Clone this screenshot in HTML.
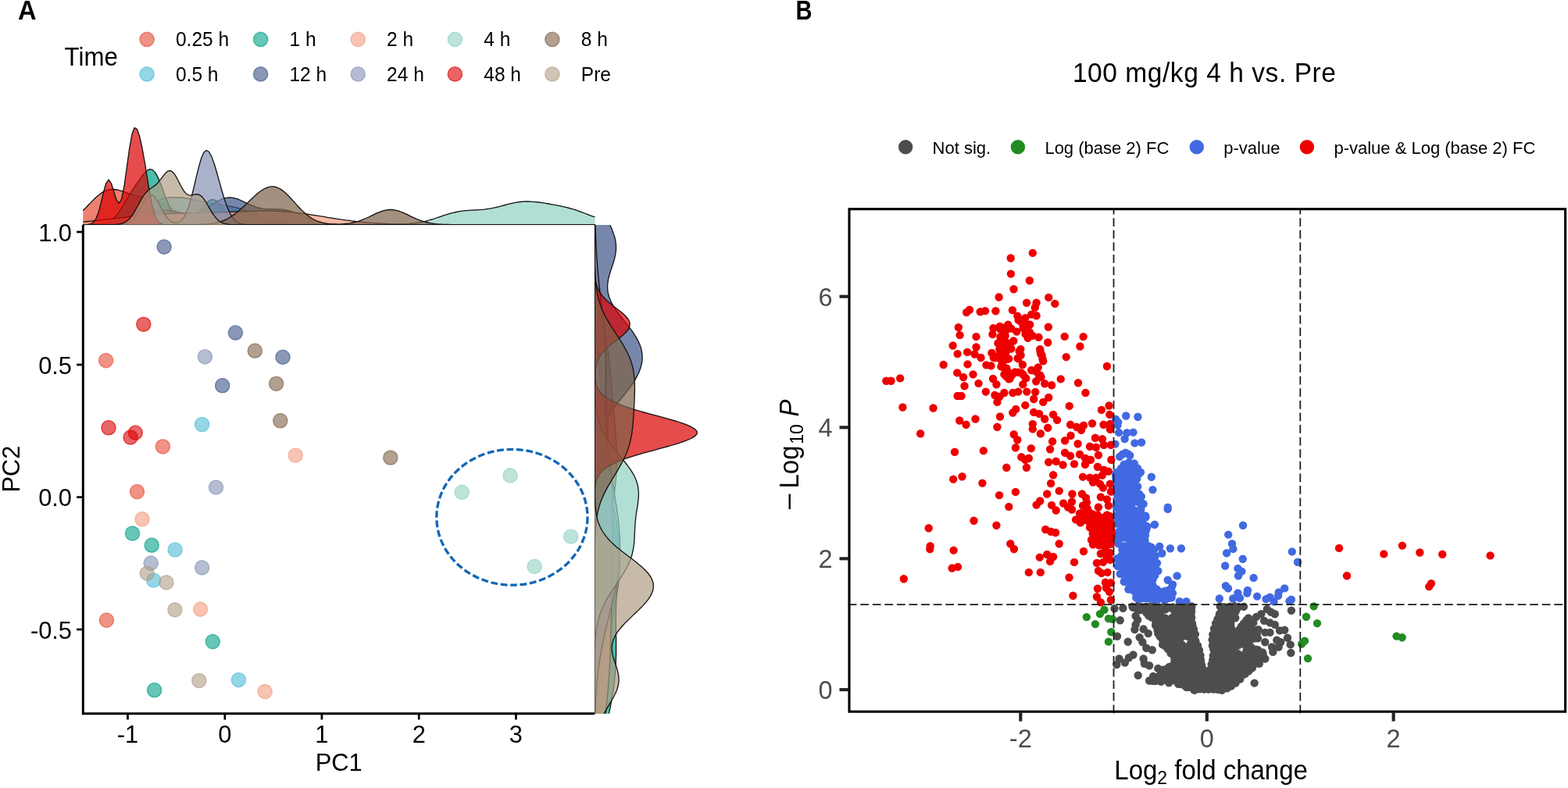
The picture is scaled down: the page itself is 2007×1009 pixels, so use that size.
<!DOCTYPE html>
<html lang="en"><head><meta charset="utf-8"><title>PCA and volcano plot</title>
<style>
html,body{margin:0;padding:0;background:#fff;}
body{width:2007px;height:1009px;overflow:hidden;font-family:"Liberation Sans",Arial,Helvetica,sans-serif;}
svg{display:block;}
</style></head><body>
<svg width="2007" height="1009" viewBox="0 0 2007 1009">
<rect width="2007" height="1009" fill="#fff"/>
<g id="panelA" font-family="'Liberation Sans', Arial, Helvetica, sans-serif" fill="#000">
<text transform="translate(23.1,25.4) scale(1,1.04)" font-size="34" font-weight="bold" textLength="23.6" lengthAdjust="spacingAndGlyphs">A</text>
<text transform="translate(82.6,83.9) scale(1,1.04)" font-size="31.2">Time</text>
<circle cx="188.1" cy="50.4" r="9.1" fill="#E64B35" fill-opacity="0.6" stroke="#E64B35" stroke-opacity="0.6" stroke-width="1.6"/>
<text transform="translate(225,59.2) scale(1,1.04)" font-size="24.5">0.25 h</text>
<circle cx="188.1" cy="94.9" r="9.1" fill="#4DBBD5" fill-opacity="0.6" stroke="#4DBBD5" stroke-opacity="0.6" stroke-width="1.6"/>
<text transform="translate(225,103.7) scale(1,1.04)" font-size="24.5">0.5 h</text>
<circle cx="333.6" cy="50.4" r="9.1" fill="#00A087" fill-opacity="0.6" stroke="#00A087" stroke-opacity="0.6" stroke-width="1.6"/>
<text transform="translate(370.5,59.2) scale(1,1.04)" font-size="24.5">1 h</text>
<circle cx="333.6" cy="94.9" r="9.1" fill="#3C5488" fill-opacity="0.6" stroke="#3C5488" stroke-opacity="0.6" stroke-width="1.6"/>
<text transform="translate(370.5,103.7) scale(1,1.04)" font-size="24.5">12 h</text>
<circle cx="458.2" cy="50.4" r="9.1" fill="#F39B7F" fill-opacity="0.6" stroke="#F39B7F" stroke-opacity="0.6" stroke-width="1.6"/>
<text transform="translate(495.1,59.2) scale(1,1.04)" font-size="24.5">2 h</text>
<circle cx="458.2" cy="94.9" r="9.1" fill="#8491B4" fill-opacity="0.6" stroke="#8491B4" stroke-opacity="0.6" stroke-width="1.6"/>
<text transform="translate(495.1,103.7) scale(1,1.04)" font-size="24.5">24 h</text>
<circle cx="582.4" cy="50.4" r="9.1" fill="#91D1C2" fill-opacity="0.6" stroke="#91D1C2" stroke-opacity="0.6" stroke-width="1.6"/>
<text transform="translate(619.3,59.2) scale(1,1.04)" font-size="24.5">4 h</text>
<circle cx="582.4" cy="94.9" r="9.1" fill="#DC0000" fill-opacity="0.6" stroke="#DC0000" stroke-opacity="0.6" stroke-width="1.6"/>
<text transform="translate(619.3,103.7) scale(1,1.04)" font-size="24.5">48 h</text>
<circle cx="706.9" cy="50.4" r="9.1" fill="#7E6148" fill-opacity="0.6" stroke="#7E6148" stroke-opacity="0.6" stroke-width="1.6"/>
<text transform="translate(743.8,59.2) scale(1,1.04)" font-size="24.5">8 h</text>
<circle cx="706.9" cy="94.9" r="9.1" fill="#B09C85" fill-opacity="0.6" stroke="#B09C85" stroke-opacity="0.6" stroke-width="1.6"/>
<text transform="translate(743.8,103.7) scale(1,1.04)" font-size="24.5">Pre</text>
<g id="densTop">
<path d="M106.3,287.7L106.3,269.5L109.6,266.3L112.9,262.8L116.2,259.4L119.5,256L122.8,252.8L126.1,249.9L129.3,247.4L132.6,245.3L135.9,243.9L139.2,242.9L142.5,242.5L145.8,242.5L149.1,243L152.4,243.7L155.7,244.7L159,245.8L162.3,246.9L165.6,248.1L168.9,249.1L172.1,250.1L175.4,251L178.7,251.7L182,252.5L185.3,253.2L188.6,253.9L191.9,254.6L195.2,255.5L198.5,256.5L201.8,257.6L205.1,258.9L208.4,260.4L211.7,262.1L215,263.9L218.2,265.9L221.5,268L224.8,270.1L228.1,272.2L231.4,274.3L234.7,276.2L238,278.1L241.3,279.8L244.6,281.3L247.9,282.6L251.2,283.7L254.5,284.6L257.8,285.4L261,286L264.3,286.4L267.6,286.8L270.9,287.1L274.2,287.3L277.5,287.4L280.8,287.5L284.1,287.6L287.4,287.6L290.7,287.6L294,287.7L297.3,287.7L300.6,287.7L303.8,287.7L307.1,287.7L310.4,287.7L313.7,287.7L317,287.7L320.3,287.7L323.6,287.7L326.9,287.7L330.2,287.7L333.5,287.7L336.8,287.7L340.1,287.7L343.4,287.7L346.6,287.7L349.9,287.7L353.2,287.7L356.5,287.7L359.8,287.7L363.1,287.7L366.4,287.7L369.7,287.7L373,287.7L376.3,287.7L379.6,287.7L382.9,287.7L386.2,287.7L389.5,287.7L392.7,287.7L396,287.7L399.3,287.7L402.6,287.7L405.9,287.7L409.2,287.7L412.5,287.7L415.8,287.7L419.1,287.7L422.4,287.7L425.7,287.7L429,287.7L432.3,287.7L435.5,287.7L438.8,287.7L442.1,287.7L445.4,287.7L448.7,287.7L452,287.7L455.3,287.7L458.6,287.7L461.9,287.7L465.2,287.7L468.5,287.7L471.8,287.7L475.1,287.7L478.3,287.7L481.6,287.7L484.9,287.7L488.2,287.7L491.5,287.7L494.8,287.7L498.1,287.7L501.4,287.7L504.7,287.7L508,287.7L511.3,287.7L514.6,287.7L517.9,287.7L521.2,287.7L524.4,287.7L527.7,287.7L531,287.7L534.3,287.7L537.6,287.7L540.9,287.7L544.2,287.7L547.5,287.7L550.8,287.7L554.1,287.7L557.4,287.7L560.7,287.7L564,287.7L567.2,287.7L570.5,287.7L573.8,287.7L577.1,287.7L580.4,287.7L583.7,287.7L587,287.7L590.3,287.7L593.6,287.7L596.9,287.7L600.2,287.7L603.5,287.7L606.8,287.7L610,287.7L613.3,287.7L616.6,287.7L619.9,287.7L623.2,287.7L626.5,287.7L629.8,287.7L633.1,287.7L636.4,287.7L639.7,287.7L643,287.7L646.3,287.7L649.6,287.7L652.8,287.7L656.1,287.7L659.4,287.7L662.7,287.7L666,287.7L669.3,287.7L672.6,287.7L675.9,287.7L679.2,287.7L682.5,287.7L685.8,287.7L689.1,287.7L692.4,287.7L695.7,287.7L698.9,287.7L702.2,287.7L705.5,287.7L708.8,287.7L712.1,287.7L715.4,287.7L718.7,287.7L722,287.7L725.3,287.7L728.6,287.7L731.9,287.7L735.2,287.7L738.5,287.7L741.7,287.7L745,287.7L748.3,287.7L751.6,287.7L754.9,287.7L758.2,287.7L761.5,287.7L761.5,287.7Z" fill="#E64B35" fill-opacity="0.7" stroke="none"/>
<path d="M106.3,269.5L109.6,266.3L112.9,262.8L116.2,259.4L119.5,256L122.8,252.8L126.1,249.9L129.3,247.4L132.6,245.3L135.9,243.9L139.2,242.9L142.5,242.5L145.8,242.5L149.1,243L152.4,243.7L155.7,244.7L159,245.8L162.3,246.9L165.6,248.1L168.9,249.1L172.1,250.1L175.4,251L178.7,251.7L182,252.5L185.3,253.2L188.6,253.9L191.9,254.6L195.2,255.5L198.5,256.5L201.8,257.6L205.1,258.9L208.4,260.4L211.7,262.1L215,263.9L218.2,265.9L221.5,268L224.8,270.1L228.1,272.2L231.4,274.3L234.7,276.2L238,278.1L241.3,279.8L244.6,281.3L247.9,282.6L251.2,283.7L254.5,284.6L257.8,285.4L261,286L264.3,286.4L267.6,286.8L270.9,287.1L274.2,287.3L277.5,287.4L280.8,287.5L284.1,287.6L287.4,287.6L290.7,287.6L294,287.7L297.3,287.7L300.6,287.7L303.8,287.7L307.1,287.7L310.4,287.7L313.7,287.7L317,287.7L320.3,287.7L323.6,287.7L326.9,287.7L330.2,287.7L333.5,287.7L336.8,287.7L340.1,287.7L343.4,287.7L346.6,287.7L349.9,287.7L353.2,287.7L356.5,287.7L359.8,287.7L363.1,287.7L366.4,287.7L369.7,287.7L373,287.7L376.3,287.7L379.6,287.7L382.9,287.7L386.2,287.7L389.5,287.7L392.7,287.7L396,287.7L399.3,287.7L402.6,287.7L405.9,287.7L409.2,287.7L412.5,287.7L415.8,287.7L419.1,287.7L422.4,287.7L425.7,287.7L429,287.7L432.3,287.7L435.5,287.7L438.8,287.7L442.1,287.7L445.4,287.7L448.7,287.7L452,287.7L455.3,287.7L458.6,287.7L461.9,287.7L465.2,287.7L468.5,287.7L471.8,287.7L475.1,287.7L478.3,287.7L481.6,287.7L484.9,287.7L488.2,287.7L491.5,287.7L494.8,287.7L498.1,287.7L501.4,287.7L504.7,287.7L508,287.7L511.3,287.7L514.6,287.7L517.9,287.7L521.2,287.7L524.4,287.7L527.7,287.7L531,287.7L534.3,287.7L537.6,287.7L540.9,287.7L544.2,287.7L547.5,287.7L550.8,287.7L554.1,287.7L557.4,287.7L560.7,287.7L564,287.7L567.2,287.7L570.5,287.7L573.8,287.7L577.1,287.7L580.4,287.7L583.7,287.7L587,287.7L590.3,287.7L593.6,287.7L596.9,287.7L600.2,287.7L603.5,287.7L606.8,287.7L610,287.7L613.3,287.7L616.6,287.7L619.9,287.7L623.2,287.7L626.5,287.7L629.8,287.7L633.1,287.7L636.4,287.7L639.7,287.7L643,287.7L646.3,287.7L649.6,287.7L652.8,287.7L656.1,287.7L659.4,287.7L662.7,287.7L666,287.7L669.3,287.7L672.6,287.7L675.9,287.7L679.2,287.7L682.5,287.7L685.8,287.7L689.1,287.7L692.4,287.7L695.7,287.7L698.9,287.7L702.2,287.7L705.5,287.7L708.8,287.7L712.1,287.7L715.4,287.7L718.7,287.7L722,287.7L725.3,287.7L728.6,287.7L731.9,287.7L735.2,287.7L738.5,287.7L741.7,287.7L745,287.7L748.3,287.7L751.6,287.7L754.9,287.7L758.2,287.7L761.5,287.7" fill="none" stroke="#111" stroke-width="1.3" stroke-linejoin="round"/>
<path d="M106.3,287.7L106.3,287.6L109.6,287.6L112.9,287.6L116.2,287.5L119.5,287.4L122.8,287.3L126.1,287.1L129.3,286.9L132.6,286.6L135.9,286.2L139.2,285.8L142.5,285.2L145.8,284.5L149.1,283.7L152.4,282.7L155.7,281.6L159,280.3L162.3,278.8L165.6,277.2L168.9,275.4L172.1,273.5L175.4,271.6L178.7,269.5L182,267.5L185.3,265.5L188.6,263.5L191.9,261.6L195.2,259.9L198.5,258.3L201.8,256.8L205.1,255.6L208.4,254.6L211.7,253.8L215,253.2L218.2,252.9L221.5,252.7L224.8,252.6L228.1,252.8L231.4,253L234.7,253.4L238,253.9L241.3,254.4L244.6,255L247.9,255.7L251.2,256.3L254.5,257.1L257.8,257.8L261,258.5L264.3,259.2L267.6,259.9L270.9,260.5L274.2,261.1L277.5,261.6L280.8,262.2L284.1,262.6L287.4,263.1L290.7,263.6L294,264.2L297.3,264.7L300.6,265.4L303.8,266.2L307.1,267.1L310.4,268.1L313.7,269.2L317,270.4L320.3,271.7L323.6,273.1L326.9,274.5L330.2,275.9L333.5,277.4L336.8,278.7L340.1,280L343.4,281.2L346.6,282.3L349.9,283.2L353.2,284.1L356.5,284.8L359.8,285.4L363.1,285.9L366.4,286.4L369.7,286.7L373,286.9L376.3,287.2L379.6,287.3L382.9,287.4L386.2,287.5L389.5,287.6L392.7,287.6L396,287.6L399.3,287.7L402.6,287.7L405.9,287.7L409.2,287.7L412.5,287.7L415.8,287.7L419.1,287.7L422.4,287.7L425.7,287.7L429,287.7L432.3,287.7L435.5,287.7L438.8,287.7L442.1,287.7L445.4,287.7L448.7,287.7L452,287.7L455.3,287.7L458.6,287.7L461.9,287.7L465.2,287.7L468.5,287.7L471.8,287.7L475.1,287.7L478.3,287.7L481.6,287.7L484.9,287.7L488.2,287.7L491.5,287.7L494.8,287.7L498.1,287.7L501.4,287.7L504.7,287.7L508,287.7L511.3,287.7L514.6,287.7L517.9,287.7L521.2,287.7L524.4,287.7L527.7,287.7L531,287.7L534.3,287.7L537.6,287.7L540.9,287.7L544.2,287.7L547.5,287.7L550.8,287.7L554.1,287.7L557.4,287.7L560.7,287.7L564,287.7L567.2,287.7L570.5,287.7L573.8,287.7L577.1,287.7L580.4,287.7L583.7,287.7L587,287.7L590.3,287.7L593.6,287.7L596.9,287.7L600.2,287.7L603.5,287.7L606.8,287.7L610,287.7L613.3,287.7L616.6,287.7L619.9,287.7L623.2,287.7L626.5,287.7L629.8,287.7L633.1,287.7L636.4,287.7L639.7,287.7L643,287.7L646.3,287.7L649.6,287.7L652.8,287.7L656.1,287.7L659.4,287.7L662.7,287.7L666,287.7L669.3,287.7L672.6,287.7L675.9,287.7L679.2,287.7L682.5,287.7L685.8,287.7L689.1,287.7L692.4,287.7L695.7,287.7L698.9,287.7L702.2,287.7L705.5,287.7L708.8,287.7L712.1,287.7L715.4,287.7L718.7,287.7L722,287.7L725.3,287.7L728.6,287.7L731.9,287.7L735.2,287.7L738.5,287.7L741.7,287.7L745,287.7L748.3,287.7L751.6,287.7L754.9,287.7L758.2,287.7L761.5,287.7L761.5,287.7Z" fill="#4DBBD5" fill-opacity="0.7" stroke="none"/>
<path d="M106.3,287.6L109.6,287.6L112.9,287.6L116.2,287.5L119.5,287.4L122.8,287.3L126.1,287.1L129.3,286.9L132.6,286.6L135.9,286.2L139.2,285.8L142.5,285.2L145.8,284.5L149.1,283.7L152.4,282.7L155.7,281.6L159,280.3L162.3,278.8L165.6,277.2L168.9,275.4L172.1,273.5L175.4,271.6L178.7,269.5L182,267.5L185.3,265.5L188.6,263.5L191.9,261.6L195.2,259.9L198.5,258.3L201.8,256.8L205.1,255.6L208.4,254.6L211.7,253.8L215,253.2L218.2,252.9L221.5,252.7L224.8,252.6L228.1,252.8L231.4,253L234.7,253.4L238,253.9L241.3,254.4L244.6,255L247.9,255.7L251.2,256.3L254.5,257.1L257.8,257.8L261,258.5L264.3,259.2L267.6,259.9L270.9,260.5L274.2,261.1L277.5,261.6L280.8,262.2L284.1,262.6L287.4,263.1L290.7,263.6L294,264.2L297.3,264.7L300.6,265.4L303.8,266.2L307.1,267.1L310.4,268.1L313.7,269.2L317,270.4L320.3,271.7L323.6,273.1L326.9,274.5L330.2,275.9L333.5,277.4L336.8,278.7L340.1,280L343.4,281.2L346.6,282.3L349.9,283.2L353.2,284.1L356.5,284.8L359.8,285.4L363.1,285.9L366.4,286.4L369.7,286.7L373,286.9L376.3,287.2L379.6,287.3L382.9,287.4L386.2,287.5L389.5,287.6L392.7,287.6L396,287.6L399.3,287.7L402.6,287.7L405.9,287.7L409.2,287.7L412.5,287.7L415.8,287.7L419.1,287.7L422.4,287.7L425.7,287.7L429,287.7L432.3,287.7L435.5,287.7L438.8,287.7L442.1,287.7L445.4,287.7L448.7,287.7L452,287.7L455.3,287.7L458.6,287.7L461.9,287.7L465.2,287.7L468.5,287.7L471.8,287.7L475.1,287.7L478.3,287.7L481.6,287.7L484.9,287.7L488.2,287.7L491.5,287.7L494.8,287.7L498.1,287.7L501.4,287.7L504.7,287.7L508,287.7L511.3,287.7L514.6,287.7L517.9,287.7L521.2,287.7L524.4,287.7L527.7,287.7L531,287.7L534.3,287.7L537.6,287.7L540.9,287.7L544.2,287.7L547.5,287.7L550.8,287.7L554.1,287.7L557.4,287.7L560.7,287.7L564,287.7L567.2,287.7L570.5,287.7L573.8,287.7L577.1,287.7L580.4,287.7L583.7,287.7L587,287.7L590.3,287.7L593.6,287.7L596.9,287.7L600.2,287.7L603.5,287.7L606.8,287.7L610,287.7L613.3,287.7L616.6,287.7L619.9,287.7L623.2,287.7L626.5,287.7L629.8,287.7L633.1,287.7L636.4,287.7L639.7,287.7L643,287.7L646.3,287.7L649.6,287.7L652.8,287.7L656.1,287.7L659.4,287.7L662.7,287.7L666,287.7L669.3,287.7L672.6,287.7L675.9,287.7L679.2,287.7L682.5,287.7L685.8,287.7L689.1,287.7L692.4,287.7L695.7,287.7L698.9,287.7L702.2,287.7L705.5,287.7L708.8,287.7L712.1,287.7L715.4,287.7L718.7,287.7L722,287.7L725.3,287.7L728.6,287.7L731.9,287.7L735.2,287.7L738.5,287.7L741.7,287.7L745,287.7L748.3,287.7L751.6,287.7L754.9,287.7L758.2,287.7L761.5,287.7" fill="none" stroke="#111" stroke-width="1.3" stroke-linejoin="round"/>
<path d="M106.3,287.7L106.3,287.7L109.6,287.7L112.9,287.7L116.2,287.7L119.5,287.6L122.8,287.5L126.1,287.4L129.3,287L132.6,286.5L135.9,285.6L139.2,284.2L142.5,282.1L145.8,279.3L149.1,275.6L152.4,271.1L155.7,266.1L159,260.6L162.3,255L165.6,249.6L168.9,244.4L172.1,239.4L175.4,234.6L178.7,229.9L182,225.3L185.3,221.2L188.6,218.1L191.9,216.7L195.2,217.4L198.5,220.6L201.8,226.3L205.1,233.9L208.4,242.8L211.7,251.9L215,260.6L218.2,268.1L221.5,274.3L224.8,278.9L228.1,282L231.4,284L234.7,284.9L238,284.9L241.3,284.1L244.6,282.5L247.9,280L251.2,276.7L254.5,272.8L257.8,268.4L261,264L264.3,260.1L267.6,257.2L270.9,255.7L274.2,255.8L277.5,257.6L280.8,260.7L284.1,264.7L287.4,269.1L290.7,273.5L294,277.4L297.3,280.6L300.6,283L303.8,284.8L307.1,286L310.4,286.7L313.7,287.2L317,287.4L320.3,287.6L323.6,287.6L326.9,287.7L330.2,287.7L333.5,287.7L336.8,287.7L340.1,287.7L343.4,287.7L346.6,287.7L349.9,287.7L353.2,287.7L356.5,287.7L359.8,287.7L363.1,287.7L366.4,287.7L369.7,287.7L373,287.7L376.3,287.7L379.6,287.7L382.9,287.7L386.2,287.7L389.5,287.7L392.7,287.7L396,287.7L399.3,287.7L402.6,287.7L405.9,287.7L409.2,287.7L412.5,287.7L415.8,287.7L419.1,287.7L422.4,287.7L425.7,287.7L429,287.7L432.3,287.7L435.5,287.7L438.8,287.7L442.1,287.7L445.4,287.7L448.7,287.7L452,287.7L455.3,287.7L458.6,287.7L461.9,287.7L465.2,287.7L468.5,287.7L471.8,287.7L475.1,287.7L478.3,287.7L481.6,287.7L484.9,287.7L488.2,287.7L491.5,287.7L494.8,287.7L498.1,287.7L501.4,287.7L504.7,287.7L508,287.7L511.3,287.7L514.6,287.7L517.9,287.7L521.2,287.7L524.4,287.7L527.7,287.7L531,287.7L534.3,287.7L537.6,287.7L540.9,287.7L544.2,287.7L547.5,287.7L550.8,287.7L554.1,287.7L557.4,287.7L560.7,287.7L564,287.7L567.2,287.7L570.5,287.7L573.8,287.7L577.1,287.7L580.4,287.7L583.7,287.7L587,287.7L590.3,287.7L593.6,287.7L596.9,287.7L600.2,287.7L603.5,287.7L606.8,287.7L610,287.7L613.3,287.7L616.6,287.7L619.9,287.7L623.2,287.7L626.5,287.7L629.8,287.7L633.1,287.7L636.4,287.7L639.7,287.7L643,287.7L646.3,287.7L649.6,287.7L652.8,287.7L656.1,287.7L659.4,287.7L662.7,287.7L666,287.7L669.3,287.7L672.6,287.7L675.9,287.7L679.2,287.7L682.5,287.7L685.8,287.7L689.1,287.7L692.4,287.7L695.7,287.7L698.9,287.7L702.2,287.7L705.5,287.7L708.8,287.7L712.1,287.7L715.4,287.7L718.7,287.7L722,287.7L725.3,287.7L728.6,287.7L731.9,287.7L735.2,287.7L738.5,287.7L741.7,287.7L745,287.7L748.3,287.7L751.6,287.7L754.9,287.7L758.2,287.7L761.5,287.7L761.5,287.7Z" fill="#00A087" fill-opacity="0.7" stroke="none"/>
<path d="M106.3,287.7L109.6,287.7L112.9,287.7L116.2,287.7L119.5,287.6L122.8,287.5L126.1,287.4L129.3,287L132.6,286.5L135.9,285.6L139.2,284.2L142.5,282.1L145.8,279.3L149.1,275.6L152.4,271.1L155.7,266.1L159,260.6L162.3,255L165.6,249.6L168.9,244.4L172.1,239.4L175.4,234.6L178.7,229.9L182,225.3L185.3,221.2L188.6,218.1L191.9,216.7L195.2,217.4L198.5,220.6L201.8,226.3L205.1,233.9L208.4,242.8L211.7,251.9L215,260.6L218.2,268.1L221.5,274.3L224.8,278.9L228.1,282L231.4,284L234.7,284.9L238,284.9L241.3,284.1L244.6,282.5L247.9,280L251.2,276.7L254.5,272.8L257.8,268.4L261,264L264.3,260.1L267.6,257.2L270.9,255.7L274.2,255.8L277.5,257.6L280.8,260.7L284.1,264.7L287.4,269.1L290.7,273.5L294,277.4L297.3,280.6L300.6,283L303.8,284.8L307.1,286L310.4,286.7L313.7,287.2L317,287.4L320.3,287.6L323.6,287.6L326.9,287.7L330.2,287.7L333.5,287.7L336.8,287.7L340.1,287.7L343.4,287.7L346.6,287.7L349.9,287.7L353.2,287.7L356.5,287.7L359.8,287.7L363.1,287.7L366.4,287.7L369.7,287.7L373,287.7L376.3,287.7L379.6,287.7L382.9,287.7L386.2,287.7L389.5,287.7L392.7,287.7L396,287.7L399.3,287.7L402.6,287.7L405.9,287.7L409.2,287.7L412.5,287.7L415.8,287.7L419.1,287.7L422.4,287.7L425.7,287.7L429,287.7L432.3,287.7L435.5,287.7L438.8,287.7L442.1,287.7L445.4,287.7L448.7,287.7L452,287.7L455.3,287.7L458.6,287.7L461.9,287.7L465.2,287.7L468.5,287.7L471.8,287.7L475.1,287.7L478.3,287.7L481.6,287.7L484.9,287.7L488.2,287.7L491.5,287.7L494.8,287.7L498.1,287.7L501.4,287.7L504.7,287.7L508,287.7L511.3,287.7L514.6,287.7L517.9,287.7L521.2,287.7L524.4,287.7L527.7,287.7L531,287.7L534.3,287.7L537.6,287.7L540.9,287.7L544.2,287.7L547.5,287.7L550.8,287.7L554.1,287.7L557.4,287.7L560.7,287.7L564,287.7L567.2,287.7L570.5,287.7L573.8,287.7L577.1,287.7L580.4,287.7L583.7,287.7L587,287.7L590.3,287.7L593.6,287.7L596.9,287.7L600.2,287.7L603.5,287.7L606.8,287.7L610,287.7L613.3,287.7L616.6,287.7L619.9,287.7L623.2,287.7L626.5,287.7L629.8,287.7L633.1,287.7L636.4,287.7L639.7,287.7L643,287.7L646.3,287.7L649.6,287.7L652.8,287.7L656.1,287.7L659.4,287.7L662.7,287.7L666,287.7L669.3,287.7L672.6,287.7L675.9,287.7L679.2,287.7L682.5,287.7L685.8,287.7L689.1,287.7L692.4,287.7L695.7,287.7L698.9,287.7L702.2,287.7L705.5,287.7L708.8,287.7L712.1,287.7L715.4,287.7L718.7,287.7L722,287.7L725.3,287.7L728.6,287.7L731.9,287.7L735.2,287.7L738.5,287.7L741.7,287.7L745,287.7L748.3,287.7L751.6,287.7L754.9,287.7L758.2,287.7L761.5,287.7" fill="none" stroke="#111" stroke-width="1.3" stroke-linejoin="round"/>
<path d="M106.3,287.7L106.3,287.7L109.6,287.7L112.9,287.7L116.2,287.7L119.5,287.7L122.8,287.6L126.1,287.6L129.3,287.6L132.6,287.5L135.9,287.4L139.2,287.3L142.5,287.1L145.8,286.9L149.1,286.6L152.4,286.3L155.7,285.8L159,285.2L162.3,284.5L165.6,283.7L168.9,282.7L172.1,281.6L175.4,280.4L178.7,279.2L182,277.8L185.3,276.4L188.6,275L191.9,273.7L195.2,272.4L198.5,271.4L201.8,270.5L205.1,269.9L208.4,269.5L211.7,269.4L215,269.5L218.2,269.9L221.5,270.4L224.8,271L228.1,271.7L231.4,272.4L234.7,273L238,273.4L241.3,273.6L244.6,273.5L247.9,273.1L251.2,272.3L254.5,271.2L257.8,269.8L261,268.1L264.3,266.2L267.6,264.2L270.9,262.1L274.2,260L277.5,258.1L280.8,256.3L284.1,254.9L287.4,253.8L290.7,253.2L294,253L297.3,253.2L300.6,253.8L303.8,254.7L307.1,256L310.4,257.5L313.7,259.1L317,260.7L320.3,262.3L323.6,263.7L326.9,264.9L330.2,266L333.5,266.7L336.8,267.3L340.1,267.6L343.4,267.8L346.6,267.8L349.9,267.8L353.2,267.9L356.5,267.9L359.8,268.2L363.1,268.5L366.4,269.1L369.7,269.9L373,270.9L376.3,272L379.6,273.3L382.9,274.6L386.2,276L389.5,277.5L392.7,278.9L396,280.2L399.3,281.4L402.6,282.5L405.9,283.5L409.2,284.4L412.5,285.1L415.8,285.7L419.1,286.2L422.4,286.6L425.7,286.9L429,287.1L432.3,287.3L435.5,287.4L438.8,287.5L442.1,287.6L445.4,287.6L448.7,287.6L452,287.7L455.3,287.7L458.6,287.7L461.9,287.7L465.2,287.7L468.5,287.7L471.8,287.7L475.1,287.7L478.3,287.7L481.6,287.7L484.9,287.7L488.2,287.7L491.5,287.7L494.8,287.7L498.1,287.7L501.4,287.7L504.7,287.7L508,287.7L511.3,287.7L514.6,287.7L517.9,287.7L521.2,287.7L524.4,287.7L527.7,287.7L531,287.7L534.3,287.7L537.6,287.7L540.9,287.7L544.2,287.7L547.5,287.7L550.8,287.7L554.1,287.7L557.4,287.7L560.7,287.7L564,287.7L567.2,287.7L570.5,287.7L573.8,287.7L577.1,287.7L580.4,287.7L583.7,287.7L587,287.7L590.3,287.7L593.6,287.7L596.9,287.7L600.2,287.7L603.5,287.7L606.8,287.7L610,287.7L613.3,287.7L616.6,287.7L619.9,287.7L623.2,287.7L626.5,287.7L629.8,287.7L633.1,287.7L636.4,287.7L639.7,287.7L643,287.7L646.3,287.7L649.6,287.7L652.8,287.7L656.1,287.7L659.4,287.7L662.7,287.7L666,287.7L669.3,287.7L672.6,287.7L675.9,287.7L679.2,287.7L682.5,287.7L685.8,287.7L689.1,287.7L692.4,287.7L695.7,287.7L698.9,287.7L702.2,287.7L705.5,287.7L708.8,287.7L712.1,287.7L715.4,287.7L718.7,287.7L722,287.7L725.3,287.7L728.6,287.7L731.9,287.7L735.2,287.7L738.5,287.7L741.7,287.7L745,287.7L748.3,287.7L751.6,287.7L754.9,287.7L758.2,287.7L761.5,287.7L761.5,287.7Z" fill="#3C5488" fill-opacity="0.7" stroke="none"/>
<path d="M106.3,287.7L109.6,287.7L112.9,287.7L116.2,287.7L119.5,287.7L122.8,287.6L126.1,287.6L129.3,287.6L132.6,287.5L135.9,287.4L139.2,287.3L142.5,287.1L145.8,286.9L149.1,286.6L152.4,286.3L155.7,285.8L159,285.2L162.3,284.5L165.6,283.7L168.9,282.7L172.1,281.6L175.4,280.4L178.7,279.2L182,277.8L185.3,276.4L188.6,275L191.9,273.7L195.2,272.4L198.5,271.4L201.8,270.5L205.1,269.9L208.4,269.5L211.7,269.4L215,269.5L218.2,269.9L221.5,270.4L224.8,271L228.1,271.7L231.4,272.4L234.7,273L238,273.4L241.3,273.6L244.6,273.5L247.9,273.1L251.2,272.3L254.5,271.2L257.8,269.8L261,268.1L264.3,266.2L267.6,264.2L270.9,262.1L274.2,260L277.5,258.1L280.8,256.3L284.1,254.9L287.4,253.8L290.7,253.2L294,253L297.3,253.2L300.6,253.8L303.8,254.7L307.1,256L310.4,257.5L313.7,259.1L317,260.7L320.3,262.3L323.6,263.7L326.9,264.9L330.2,266L333.5,266.7L336.8,267.3L340.1,267.6L343.4,267.8L346.6,267.8L349.9,267.8L353.2,267.9L356.5,267.9L359.8,268.2L363.1,268.5L366.4,269.1L369.7,269.9L373,270.9L376.3,272L379.6,273.3L382.9,274.6L386.2,276L389.5,277.5L392.7,278.9L396,280.2L399.3,281.4L402.6,282.5L405.9,283.5L409.2,284.4L412.5,285.1L415.8,285.7L419.1,286.2L422.4,286.6L425.7,286.9L429,287.1L432.3,287.3L435.5,287.4L438.8,287.5L442.1,287.6L445.4,287.6L448.7,287.6L452,287.7L455.3,287.7L458.6,287.7L461.9,287.7L465.2,287.7L468.5,287.7L471.8,287.7L475.1,287.7L478.3,287.7L481.6,287.7L484.9,287.7L488.2,287.7L491.5,287.7L494.8,287.7L498.1,287.7L501.4,287.7L504.7,287.7L508,287.7L511.3,287.7L514.6,287.7L517.9,287.7L521.2,287.7L524.4,287.7L527.7,287.7L531,287.7L534.3,287.7L537.6,287.7L540.9,287.7L544.2,287.7L547.5,287.7L550.8,287.7L554.1,287.7L557.4,287.7L560.7,287.7L564,287.7L567.2,287.7L570.5,287.7L573.8,287.7L577.1,287.7L580.4,287.7L583.7,287.7L587,287.7L590.3,287.7L593.6,287.7L596.9,287.7L600.2,287.7L603.5,287.7L606.8,287.7L610,287.7L613.3,287.7L616.6,287.7L619.9,287.7L623.2,287.7L626.5,287.7L629.8,287.7L633.1,287.7L636.4,287.7L639.7,287.7L643,287.7L646.3,287.7L649.6,287.7L652.8,287.7L656.1,287.7L659.4,287.7L662.7,287.7L666,287.7L669.3,287.7L672.6,287.7L675.9,287.7L679.2,287.7L682.5,287.7L685.8,287.7L689.1,287.7L692.4,287.7L695.7,287.7L698.9,287.7L702.2,287.7L705.5,287.7L708.8,287.7L712.1,287.7L715.4,287.7L718.7,287.7L722,287.7L725.3,287.7L728.6,287.7L731.9,287.7L735.2,287.7L738.5,287.7L741.7,287.7L745,287.7L748.3,287.7L751.6,287.7L754.9,287.7L758.2,287.7L761.5,287.7" fill="none" stroke="#111" stroke-width="1.3" stroke-linejoin="round"/>
<path d="M106.3,287.7L106.3,284.1L109.6,283.8L112.9,283.5L116.2,283.2L119.5,282.8L122.8,282.5L126.1,282.1L129.3,281.7L132.6,281.4L135.9,281L139.2,280.6L142.5,280.2L145.8,279.8L149.1,279.4L152.4,279L155.7,278.6L159,278.3L162.3,277.9L165.6,277.5L168.9,277.2L172.1,276.8L175.4,276.5L178.7,276.2L182,275.9L185.3,275.6L188.6,275.3L191.9,275.1L195.2,274.8L198.5,274.6L201.8,274.4L205.1,274.2L208.4,274L211.7,273.9L215,273.7L218.2,273.6L221.5,273.4L224.8,273.3L228.1,273.2L231.4,273.1L234.7,273L238,272.9L241.3,272.8L244.6,272.7L247.9,272.7L251.2,272.6L254.5,272.5L257.8,272.4L261,272.4L264.3,272.3L267.6,272.2L270.9,272.1L274.2,272L277.5,271.9L280.8,271.8L284.1,271.7L287.4,271.6L290.7,271.5L294,271.3L297.3,271.2L300.6,271.1L303.8,270.9L307.1,270.8L310.4,270.7L313.7,270.6L317,270.5L320.3,270.4L323.6,270.3L326.9,270.2L330.2,270.1L333.5,270.1L336.8,270.1L340.1,270.1L343.4,270.1L346.6,270.2L349.9,270.2L353.2,270.4L356.5,270.5L359.8,270.7L363.1,270.9L366.4,271.1L369.7,271.4L373,271.7L376.3,272L379.6,272.4L382.9,272.8L386.2,273.2L389.5,273.6L392.7,274.1L396,274.6L399.3,275.1L402.6,275.6L405.9,276.1L409.2,276.7L412.5,277.2L415.8,277.7L419.1,278.3L422.4,278.8L425.7,279.3L429,279.8L432.3,280.4L435.5,280.9L438.8,281.3L442.1,281.8L445.4,282.2L448.7,282.7L452,283.1L455.3,283.5L458.6,283.8L461.9,284.2L465.2,284.5L468.5,284.8L471.8,285.1L475.1,285.4L478.3,285.6L481.6,285.8L484.9,286L488.2,286.2L491.5,286.4L494.8,286.5L498.1,286.7L501.4,286.8L504.7,286.9L508,287L511.3,287.1L514.6,287.2L517.9,287.3L521.2,287.3L524.4,287.4L527.7,287.4L531,287.5L534.3,287.5L537.6,287.5L540.9,287.6L544.2,287.6L547.5,287.6L550.8,287.6L554.1,287.6L557.4,287.6L560.7,287.7L564,287.7L567.2,287.7L570.5,287.7L573.8,287.7L577.1,287.7L580.4,287.7L583.7,287.7L587,287.7L590.3,287.7L593.6,287.7L596.9,287.7L600.2,287.7L603.5,287.7L606.8,287.7L610,287.7L613.3,287.7L616.6,287.7L619.9,287.7L623.2,287.7L626.5,287.7L629.8,287.7L633.1,287.7L636.4,287.7L639.7,287.7L643,287.7L646.3,287.7L649.6,287.7L652.8,287.7L656.1,287.7L659.4,287.7L662.7,287.7L666,287.7L669.3,287.7L672.6,287.7L675.9,287.7L679.2,287.7L682.5,287.7L685.8,287.7L689.1,287.7L692.4,287.7L695.7,287.7L698.9,287.7L702.2,287.7L705.5,287.7L708.8,287.7L712.1,287.7L715.4,287.7L718.7,287.7L722,287.7L725.3,287.7L728.6,287.7L731.9,287.7L735.2,287.7L738.5,287.7L741.7,287.7L745,287.7L748.3,287.7L751.6,287.7L754.9,287.7L758.2,287.7L761.5,287.7L761.5,287.7Z" fill="#F39B7F" fill-opacity="0.7" stroke="none"/>
<path d="M106.3,284.1L109.6,283.8L112.9,283.5L116.2,283.2L119.5,282.8L122.8,282.5L126.1,282.1L129.3,281.7L132.6,281.4L135.9,281L139.2,280.6L142.5,280.2L145.8,279.8L149.1,279.4L152.4,279L155.7,278.6L159,278.3L162.3,277.9L165.6,277.5L168.9,277.2L172.1,276.8L175.4,276.5L178.7,276.2L182,275.9L185.3,275.6L188.6,275.3L191.9,275.1L195.2,274.8L198.5,274.6L201.8,274.4L205.1,274.2L208.4,274L211.7,273.9L215,273.7L218.2,273.6L221.5,273.4L224.8,273.3L228.1,273.2L231.4,273.1L234.7,273L238,272.9L241.3,272.8L244.6,272.7L247.9,272.7L251.2,272.6L254.5,272.5L257.8,272.4L261,272.4L264.3,272.3L267.6,272.2L270.9,272.1L274.2,272L277.5,271.9L280.8,271.8L284.1,271.7L287.4,271.6L290.7,271.5L294,271.3L297.3,271.2L300.6,271.1L303.8,270.9L307.1,270.8L310.4,270.7L313.7,270.6L317,270.5L320.3,270.4L323.6,270.3L326.9,270.2L330.2,270.1L333.5,270.1L336.8,270.1L340.1,270.1L343.4,270.1L346.6,270.2L349.9,270.2L353.2,270.4L356.5,270.5L359.8,270.7L363.1,270.9L366.4,271.1L369.7,271.4L373,271.7L376.3,272L379.6,272.4L382.9,272.8L386.2,273.2L389.5,273.6L392.7,274.1L396,274.6L399.3,275.1L402.6,275.6L405.9,276.1L409.2,276.7L412.5,277.2L415.8,277.7L419.1,278.3L422.4,278.8L425.7,279.3L429,279.8L432.3,280.4L435.5,280.9L438.8,281.3L442.1,281.8L445.4,282.2L448.7,282.7L452,283.1L455.3,283.5L458.6,283.8L461.9,284.2L465.2,284.5L468.5,284.8L471.8,285.1L475.1,285.4L478.3,285.6L481.6,285.8L484.9,286L488.2,286.2L491.5,286.4L494.8,286.5L498.1,286.7L501.4,286.8L504.7,286.9L508,287L511.3,287.1L514.6,287.2L517.9,287.3L521.2,287.3L524.4,287.4L527.7,287.4L531,287.5L534.3,287.5L537.6,287.5L540.9,287.6L544.2,287.6L547.5,287.6L550.8,287.6L554.1,287.6L557.4,287.6L560.7,287.7L564,287.7L567.2,287.7L570.5,287.7L573.8,287.7L577.1,287.7L580.4,287.7L583.7,287.7L587,287.7L590.3,287.7L593.6,287.7L596.9,287.7L600.2,287.7L603.5,287.7L606.8,287.7L610,287.7L613.3,287.7L616.6,287.7L619.9,287.7L623.2,287.7L626.5,287.7L629.8,287.7L633.1,287.7L636.4,287.7L639.7,287.7L643,287.7L646.3,287.7L649.6,287.7L652.8,287.7L656.1,287.7L659.4,287.7L662.7,287.7L666,287.7L669.3,287.7L672.6,287.7L675.9,287.7L679.2,287.7L682.5,287.7L685.8,287.7L689.1,287.7L692.4,287.7L695.7,287.7L698.9,287.7L702.2,287.7L705.5,287.7L708.8,287.7L712.1,287.7L715.4,287.7L718.7,287.7L722,287.7L725.3,287.7L728.6,287.7L731.9,287.7L735.2,287.7L738.5,287.7L741.7,287.7L745,287.7L748.3,287.7L751.6,287.7L754.9,287.7L758.2,287.7L761.5,287.7" fill="none" stroke="#111" stroke-width="1.3" stroke-linejoin="round"/>
<path d="M106.3,287.7L106.3,287.7L109.6,287.7L112.9,287.7L116.2,287.7L119.5,287.7L122.8,287.7L126.1,287.7L129.3,287.7L132.6,287.7L135.9,287.7L139.2,287.7L142.5,287.7L145.8,287.7L149.1,287.7L152.4,287.6L155.7,287.4L159,287L162.3,286.3L165.6,284.9L168.9,282.7L172.1,279.4L175.4,274.7L178.7,269L182,262.7L185.3,256.7L188.6,252L191.9,249.5L195.2,249.8L198.5,252.8L201.8,257.9L205.1,264.1L208.4,270.3L211.7,275.8L215,280.1L218.2,283.1L221.5,284.8L224.8,285.4L228.1,284.9L231.4,283L234.7,279.4L238,273.6L241.3,265.2L244.6,254.2L247.9,241L251.2,226.9L254.5,213.4L257.8,202.3L261,195.1L264.3,192.5L267.6,194.5L270.9,200.6L274.2,209.7L277.5,220.8L280.8,232.7L284.1,244.5L287.4,255.5L290.7,264.9L294,272.5L297.3,278.2L300.6,282.1L303.8,284.6L307.1,286.1L310.4,287L313.7,287.4L317,287.6L320.3,287.6L323.6,287.7L326.9,287.7L330.2,287.7L333.5,287.7L336.8,287.7L340.1,287.7L343.4,287.7L346.6,287.7L349.9,287.7L353.2,287.7L356.5,287.7L359.8,287.7L363.1,287.7L366.4,287.7L369.7,287.7L373,287.7L376.3,287.7L379.6,287.7L382.9,287.7L386.2,287.7L389.5,287.7L392.7,287.7L396,287.7L399.3,287.7L402.6,287.7L405.9,287.7L409.2,287.7L412.5,287.7L415.8,287.7L419.1,287.7L422.4,287.7L425.7,287.7L429,287.7L432.3,287.7L435.5,287.7L438.8,287.7L442.1,287.7L445.4,287.7L448.7,287.7L452,287.7L455.3,287.7L458.6,287.7L461.9,287.7L465.2,287.7L468.5,287.7L471.8,287.7L475.1,287.7L478.3,287.7L481.6,287.7L484.9,287.7L488.2,287.7L491.5,287.7L494.8,287.7L498.1,287.7L501.4,287.7L504.7,287.7L508,287.7L511.3,287.7L514.6,287.7L517.9,287.7L521.2,287.7L524.4,287.7L527.7,287.7L531,287.7L534.3,287.7L537.6,287.7L540.9,287.7L544.2,287.7L547.5,287.7L550.8,287.7L554.1,287.7L557.4,287.7L560.7,287.7L564,287.7L567.2,287.7L570.5,287.7L573.8,287.7L577.1,287.7L580.4,287.7L583.7,287.7L587,287.7L590.3,287.7L593.6,287.7L596.9,287.7L600.2,287.7L603.5,287.7L606.8,287.7L610,287.7L613.3,287.7L616.6,287.7L619.9,287.7L623.2,287.7L626.5,287.7L629.8,287.7L633.1,287.7L636.4,287.7L639.7,287.7L643,287.7L646.3,287.7L649.6,287.7L652.8,287.7L656.1,287.7L659.4,287.7L662.7,287.7L666,287.7L669.3,287.7L672.6,287.7L675.9,287.7L679.2,287.7L682.5,287.7L685.8,287.7L689.1,287.7L692.4,287.7L695.7,287.7L698.9,287.7L702.2,287.7L705.5,287.7L708.8,287.7L712.1,287.7L715.4,287.7L718.7,287.7L722,287.7L725.3,287.7L728.6,287.7L731.9,287.7L735.2,287.7L738.5,287.7L741.7,287.7L745,287.7L748.3,287.7L751.6,287.7L754.9,287.7L758.2,287.7L761.5,287.7L761.5,287.7Z" fill="#8491B4" fill-opacity="0.7" stroke="none"/>
<path d="M106.3,287.7L109.6,287.7L112.9,287.7L116.2,287.7L119.5,287.7L122.8,287.7L126.1,287.7L129.3,287.7L132.6,287.7L135.9,287.7L139.2,287.7L142.5,287.7L145.8,287.7L149.1,287.7L152.4,287.6L155.7,287.4L159,287L162.3,286.3L165.6,284.9L168.9,282.7L172.1,279.4L175.4,274.7L178.7,269L182,262.7L185.3,256.7L188.6,252L191.9,249.5L195.2,249.8L198.5,252.8L201.8,257.9L205.1,264.1L208.4,270.3L211.7,275.8L215,280.1L218.2,283.1L221.5,284.8L224.8,285.4L228.1,284.9L231.4,283L234.7,279.4L238,273.6L241.3,265.2L244.6,254.2L247.9,241L251.2,226.9L254.5,213.4L257.8,202.3L261,195.1L264.3,192.5L267.6,194.5L270.9,200.6L274.2,209.7L277.5,220.8L280.8,232.7L284.1,244.5L287.4,255.5L290.7,264.9L294,272.5L297.3,278.2L300.6,282.1L303.8,284.6L307.1,286.1L310.4,287L313.7,287.4L317,287.6L320.3,287.6L323.6,287.7L326.9,287.7L330.2,287.7L333.5,287.7L336.8,287.7L340.1,287.7L343.4,287.7L346.6,287.7L349.9,287.7L353.2,287.7L356.5,287.7L359.8,287.7L363.1,287.7L366.4,287.7L369.7,287.7L373,287.7L376.3,287.7L379.6,287.7L382.9,287.7L386.2,287.7L389.5,287.7L392.7,287.7L396,287.7L399.3,287.7L402.6,287.7L405.9,287.7L409.2,287.7L412.5,287.7L415.8,287.7L419.1,287.7L422.4,287.7L425.7,287.7L429,287.7L432.3,287.7L435.5,287.7L438.8,287.7L442.1,287.7L445.4,287.7L448.7,287.7L452,287.7L455.3,287.7L458.6,287.7L461.9,287.7L465.2,287.7L468.5,287.7L471.8,287.7L475.1,287.7L478.3,287.7L481.6,287.7L484.9,287.7L488.2,287.7L491.5,287.7L494.8,287.7L498.1,287.7L501.4,287.7L504.7,287.7L508,287.7L511.3,287.7L514.6,287.7L517.9,287.7L521.2,287.7L524.4,287.7L527.7,287.7L531,287.7L534.3,287.7L537.6,287.7L540.9,287.7L544.2,287.7L547.5,287.7L550.8,287.7L554.1,287.7L557.4,287.7L560.7,287.7L564,287.7L567.2,287.7L570.5,287.7L573.8,287.7L577.1,287.7L580.4,287.7L583.7,287.7L587,287.7L590.3,287.7L593.6,287.7L596.9,287.7L600.2,287.7L603.5,287.7L606.8,287.7L610,287.7L613.3,287.7L616.6,287.7L619.9,287.7L623.2,287.7L626.5,287.7L629.8,287.7L633.1,287.7L636.4,287.7L639.7,287.7L643,287.7L646.3,287.7L649.6,287.7L652.8,287.7L656.1,287.7L659.4,287.7L662.7,287.7L666,287.7L669.3,287.7L672.6,287.7L675.9,287.7L679.2,287.7L682.5,287.7L685.8,287.7L689.1,287.7L692.4,287.7L695.7,287.7L698.9,287.7L702.2,287.7L705.5,287.7L708.8,287.7L712.1,287.7L715.4,287.7L718.7,287.7L722,287.7L725.3,287.7L728.6,287.7L731.9,287.7L735.2,287.7L738.5,287.7L741.7,287.7L745,287.7L748.3,287.7L751.6,287.7L754.9,287.7L758.2,287.7L761.5,287.7" fill="none" stroke="#111" stroke-width="1.3" stroke-linejoin="round"/>
<path d="M106.3,287.7L106.3,287.7L109.6,287.7L112.9,287.7L116.2,287.7L119.5,287.7L122.8,287.7L126.1,287.7L129.3,287.7L132.6,287.7L135.9,287.7L139.2,287.7L142.5,287.7L145.8,287.7L149.1,287.7L152.4,287.7L155.7,287.7L159,287.7L162.3,287.7L165.6,287.7L168.9,287.7L172.1,287.7L175.4,287.7L178.7,287.7L182,287.7L185.3,287.7L188.6,287.7L191.9,287.7L195.2,287.7L198.5,287.7L201.8,287.7L205.1,287.7L208.4,287.7L211.7,287.7L215,287.7L218.2,287.7L221.5,287.7L224.8,287.7L228.1,287.7L231.4,287.7L234.7,287.7L238,287.7L241.3,287.7L244.6,287.7L247.9,287.7L251.2,287.7L254.5,287.7L257.8,287.7L261,287.7L264.3,287.7L267.6,287.7L270.9,287.7L274.2,287.7L277.5,287.7L280.8,287.7L284.1,287.7L287.4,287.7L290.7,287.7L294,287.7L297.3,287.7L300.6,287.7L303.8,287.7L307.1,287.7L310.4,287.7L313.7,287.7L317,287.7L320.3,287.7L323.6,287.7L326.9,287.7L330.2,287.7L333.5,287.7L336.8,287.7L340.1,287.7L343.4,287.7L346.6,287.7L349.9,287.7L353.2,287.7L356.5,287.7L359.8,287.7L363.1,287.7L366.4,287.7L369.7,287.7L373,287.7L376.3,287.7L379.6,287.7L382.9,287.7L386.2,287.7L389.5,287.7L392.7,287.7L396,287.7L399.3,287.7L402.6,287.7L405.9,287.7L409.2,287.7L412.5,287.7L415.8,287.7L419.1,287.7L422.4,287.7L425.7,287.7L429,287.7L432.3,287.7L435.5,287.7L438.8,287.7L442.1,287.7L445.4,287.7L448.7,287.7L452,287.7L455.3,287.7L458.6,287.7L461.9,287.7L465.2,287.7L468.5,287.7L471.8,287.7L475.1,287.7L478.3,287.7L481.6,287.7L484.9,287.7L488.2,287.7L491.5,287.6L494.8,287.6L498.1,287.6L501.4,287.5L504.7,287.5L508,287.4L511.3,287.3L514.6,287.2L517.9,287L521.2,286.8L524.4,286.5L527.7,286.1L531,285.7L534.3,285.2L537.6,284.7L540.9,284L544.2,283.3L547.5,282.5L550.8,281.5L554.1,280.6L557.4,279.5L560.7,278.4L564,277.3L567.2,276.2L570.5,275.2L573.8,274.1L577.1,273.2L580.4,272.3L583.7,271.5L587,270.9L590.3,270.3L593.6,269.9L596.9,269.6L600.2,269.3L603.5,269.1L606.8,269L610,268.8L613.3,268.6L616.6,268.4L619.9,268.1L623.2,267.7L626.5,267.2L629.8,266.6L633.1,265.9L636.4,265.1L639.7,264.3L643,263.4L646.3,262.5L649.6,261.7L652.8,260.8L656.1,260.1L659.4,259.4L662.7,258.9L666,258.5L669.3,258.2L672.6,258L675.9,258L679.2,258.1L682.5,258.3L685.8,258.6L689.1,259L692.4,259.4L695.7,259.9L698.9,260.4L702.2,261L705.5,261.6L708.8,262.2L712.1,262.8L715.4,263.4L718.7,264.1L722,264.8L725.3,265.6L728.6,266.5L731.9,267.4L735.2,268.4L738.5,269.4L741.7,270.6L745,271.8L748.3,273L751.6,274.3L754.9,275.6L758.2,276.8L761.5,278L761.5,287.7Z" fill="#91D1C2" fill-opacity="0.7" stroke="none"/>
<path d="M106.3,287.7L109.6,287.7L112.9,287.7L116.2,287.7L119.5,287.7L122.8,287.7L126.1,287.7L129.3,287.7L132.6,287.7L135.9,287.7L139.2,287.7L142.5,287.7L145.8,287.7L149.1,287.7L152.4,287.7L155.7,287.7L159,287.7L162.3,287.7L165.6,287.7L168.9,287.7L172.1,287.7L175.4,287.7L178.7,287.7L182,287.7L185.3,287.7L188.6,287.7L191.9,287.7L195.2,287.7L198.5,287.7L201.8,287.7L205.1,287.7L208.4,287.7L211.7,287.7L215,287.7L218.2,287.7L221.5,287.7L224.8,287.7L228.1,287.7L231.4,287.7L234.7,287.7L238,287.7L241.3,287.7L244.6,287.7L247.9,287.7L251.2,287.7L254.5,287.7L257.8,287.7L261,287.7L264.3,287.7L267.6,287.7L270.9,287.7L274.2,287.7L277.5,287.7L280.8,287.7L284.1,287.7L287.4,287.7L290.7,287.7L294,287.7L297.3,287.7L300.6,287.7L303.8,287.7L307.1,287.7L310.4,287.7L313.7,287.7L317,287.7L320.3,287.7L323.6,287.7L326.9,287.7L330.2,287.7L333.5,287.7L336.8,287.7L340.1,287.7L343.4,287.7L346.6,287.7L349.9,287.7L353.2,287.7L356.5,287.7L359.8,287.7L363.1,287.7L366.4,287.7L369.7,287.7L373,287.7L376.3,287.7L379.6,287.7L382.9,287.7L386.2,287.7L389.5,287.7L392.7,287.7L396,287.7L399.3,287.7L402.6,287.7L405.9,287.7L409.2,287.7L412.5,287.7L415.8,287.7L419.1,287.7L422.4,287.7L425.7,287.7L429,287.7L432.3,287.7L435.5,287.7L438.8,287.7L442.1,287.7L445.4,287.7L448.7,287.7L452,287.7L455.3,287.7L458.6,287.7L461.9,287.7L465.2,287.7L468.5,287.7L471.8,287.7L475.1,287.7L478.3,287.7L481.6,287.7L484.9,287.7L488.2,287.7L491.5,287.6L494.8,287.6L498.1,287.6L501.4,287.5L504.7,287.5L508,287.4L511.3,287.3L514.6,287.2L517.9,287L521.2,286.8L524.4,286.5L527.7,286.1L531,285.7L534.3,285.2L537.6,284.7L540.9,284L544.2,283.3L547.5,282.5L550.8,281.5L554.1,280.6L557.4,279.5L560.7,278.4L564,277.3L567.2,276.2L570.5,275.2L573.8,274.1L577.1,273.2L580.4,272.3L583.7,271.5L587,270.9L590.3,270.3L593.6,269.9L596.9,269.6L600.2,269.3L603.5,269.1L606.8,269L610,268.8L613.3,268.6L616.6,268.4L619.9,268.1L623.2,267.7L626.5,267.2L629.8,266.6L633.1,265.9L636.4,265.1L639.7,264.3L643,263.4L646.3,262.5L649.6,261.7L652.8,260.8L656.1,260.1L659.4,259.4L662.7,258.9L666,258.5L669.3,258.2L672.6,258L675.9,258L679.2,258.1L682.5,258.3L685.8,258.6L689.1,259L692.4,259.4L695.7,259.9L698.9,260.4L702.2,261L705.5,261.6L708.8,262.2L712.1,262.8L715.4,263.4L718.7,264.1L722,264.8L725.3,265.6L728.6,266.5L731.9,267.4L735.2,268.4L738.5,269.4L741.7,270.6L745,271.8L748.3,273L751.6,274.3L754.9,275.6L758.2,276.8L761.5,278" fill="none" stroke="#111" stroke-width="1.3" stroke-linejoin="round"/>
<path d="M106.3,287.7L106.3,287.7L109.6,287.6L112.9,287.4L116.2,286.7L119.5,284.6L122.8,280.1L126.1,271.9L129.3,259.7L132.6,245.7L135.9,234.3L139.2,230.2L142.5,235L145.8,245.6L149.1,256.1L152.4,260.3L155.7,254.5L159,238.1L162.3,214.7L165.6,190.5L168.9,172.1L172.1,163.6L175.4,165.3L178.7,174.7L182,189.5L185.3,208L188.6,228.6L191.9,248.6L195.2,265L198.5,276.3L201.8,282.8L205.1,285.9L208.4,287.1L211.7,287.6L215,287.7L218.2,287.7L221.5,287.7L224.8,287.7L228.1,287.7L231.4,287.7L234.7,287.7L238,287.7L241.3,287.7L244.6,287.7L247.9,287.7L251.2,287.7L254.5,287.7L257.8,287.7L261,287.7L264.3,287.7L267.6,287.7L270.9,287.7L274.2,287.7L277.5,287.7L280.8,287.7L284.1,287.7L287.4,287.7L290.7,287.7L294,287.7L297.3,287.7L300.6,287.7L303.8,287.7L307.1,287.7L310.4,287.7L313.7,287.7L317,287.7L320.3,287.7L323.6,287.7L326.9,287.7L330.2,287.7L333.5,287.7L336.8,287.7L340.1,287.7L343.4,287.7L346.6,287.7L349.9,287.7L353.2,287.7L356.5,287.7L359.8,287.7L363.1,287.7L366.4,287.7L369.7,287.7L373,287.7L376.3,287.7L379.6,287.7L382.9,287.7L386.2,287.7L389.5,287.7L392.7,287.7L396,287.7L399.3,287.7L402.6,287.7L405.9,287.7L409.2,287.7L412.5,287.7L415.8,287.7L419.1,287.7L422.4,287.7L425.7,287.7L429,287.7L432.3,287.7L435.5,287.7L438.8,287.7L442.1,287.7L445.4,287.7L448.7,287.7L452,287.7L455.3,287.7L458.6,287.7L461.9,287.7L465.2,287.7L468.5,287.7L471.8,287.7L475.1,287.7L478.3,287.7L481.6,287.7L484.9,287.7L488.2,287.7L491.5,287.7L494.8,287.7L498.1,287.7L501.4,287.7L504.7,287.7L508,287.7L511.3,287.7L514.6,287.7L517.9,287.7L521.2,287.7L524.4,287.7L527.7,287.7L531,287.7L534.3,287.7L537.6,287.7L540.9,287.7L544.2,287.7L547.5,287.7L550.8,287.7L554.1,287.7L557.4,287.7L560.7,287.7L564,287.7L567.2,287.7L570.5,287.7L573.8,287.7L577.1,287.7L580.4,287.7L583.7,287.7L587,287.7L590.3,287.7L593.6,287.7L596.9,287.7L600.2,287.7L603.5,287.7L606.8,287.7L610,287.7L613.3,287.7L616.6,287.7L619.9,287.7L623.2,287.7L626.5,287.7L629.8,287.7L633.1,287.7L636.4,287.7L639.7,287.7L643,287.7L646.3,287.7L649.6,287.7L652.8,287.7L656.1,287.7L659.4,287.7L662.7,287.7L666,287.7L669.3,287.7L672.6,287.7L675.9,287.7L679.2,287.7L682.5,287.7L685.8,287.7L689.1,287.7L692.4,287.7L695.7,287.7L698.9,287.7L702.2,287.7L705.5,287.7L708.8,287.7L712.1,287.7L715.4,287.7L718.7,287.7L722,287.7L725.3,287.7L728.6,287.7L731.9,287.7L735.2,287.7L738.5,287.7L741.7,287.7L745,287.7L748.3,287.7L751.6,287.7L754.9,287.7L758.2,287.7L761.5,287.7L761.5,287.7Z" fill="#DC0000" fill-opacity="0.7" stroke="none"/>
<path d="M106.3,287.7L109.6,287.6L112.9,287.4L116.2,286.7L119.5,284.6L122.8,280.1L126.1,271.9L129.3,259.7L132.6,245.7L135.9,234.3L139.2,230.2L142.5,235L145.8,245.6L149.1,256.1L152.4,260.3L155.7,254.5L159,238.1L162.3,214.7L165.6,190.5L168.9,172.1L172.1,163.6L175.4,165.3L178.7,174.7L182,189.5L185.3,208L188.6,228.6L191.9,248.6L195.2,265L198.5,276.3L201.8,282.8L205.1,285.9L208.4,287.1L211.7,287.6L215,287.7L218.2,287.7L221.5,287.7L224.8,287.7L228.1,287.7L231.4,287.7L234.7,287.7L238,287.7L241.3,287.7L244.6,287.7L247.9,287.7L251.2,287.7L254.5,287.7L257.8,287.7L261,287.7L264.3,287.7L267.6,287.7L270.9,287.7L274.2,287.7L277.5,287.7L280.8,287.7L284.1,287.7L287.4,287.7L290.7,287.7L294,287.7L297.3,287.7L300.6,287.7L303.8,287.7L307.1,287.7L310.4,287.7L313.7,287.7L317,287.7L320.3,287.7L323.6,287.7L326.9,287.7L330.2,287.7L333.5,287.7L336.8,287.7L340.1,287.7L343.4,287.7L346.6,287.7L349.9,287.7L353.2,287.7L356.5,287.7L359.8,287.7L363.1,287.7L366.4,287.7L369.7,287.7L373,287.7L376.3,287.7L379.6,287.7L382.9,287.7L386.2,287.7L389.5,287.7L392.7,287.7L396,287.7L399.3,287.7L402.6,287.7L405.9,287.7L409.2,287.7L412.5,287.7L415.8,287.7L419.1,287.7L422.4,287.7L425.7,287.7L429,287.7L432.3,287.7L435.5,287.7L438.8,287.7L442.1,287.7L445.4,287.7L448.7,287.7L452,287.7L455.3,287.7L458.6,287.7L461.9,287.7L465.2,287.7L468.5,287.7L471.8,287.7L475.1,287.7L478.3,287.7L481.6,287.7L484.9,287.7L488.2,287.7L491.5,287.7L494.8,287.7L498.1,287.7L501.4,287.7L504.7,287.7L508,287.7L511.3,287.7L514.6,287.7L517.9,287.7L521.2,287.7L524.4,287.7L527.7,287.7L531,287.7L534.3,287.7L537.6,287.7L540.9,287.7L544.2,287.7L547.5,287.7L550.8,287.7L554.1,287.7L557.4,287.7L560.7,287.7L564,287.7L567.2,287.7L570.5,287.7L573.8,287.7L577.1,287.7L580.4,287.7L583.7,287.7L587,287.7L590.3,287.7L593.6,287.7L596.9,287.7L600.2,287.7L603.5,287.7L606.8,287.7L610,287.7L613.3,287.7L616.6,287.7L619.9,287.7L623.2,287.7L626.5,287.7L629.8,287.7L633.1,287.7L636.4,287.7L639.7,287.7L643,287.7L646.3,287.7L649.6,287.7L652.8,287.7L656.1,287.7L659.4,287.7L662.7,287.7L666,287.7L669.3,287.7L672.6,287.7L675.9,287.7L679.2,287.7L682.5,287.7L685.8,287.7L689.1,287.7L692.4,287.7L695.7,287.7L698.9,287.7L702.2,287.7L705.5,287.7L708.8,287.7L712.1,287.7L715.4,287.7L718.7,287.7L722,287.7L725.3,287.7L728.6,287.7L731.9,287.7L735.2,287.7L738.5,287.7L741.7,287.7L745,287.7L748.3,287.7L751.6,287.7L754.9,287.7L758.2,287.7L761.5,287.7" fill="none" stroke="#111" stroke-width="1.3" stroke-linejoin="round"/>
<path d="M106.3,287.7L106.3,287.7L109.6,287.7L112.9,287.7L116.2,287.7L119.5,287.7L122.8,287.7L126.1,287.7L129.3,287.7L132.6,287.7L135.9,287.7L139.2,287.7L142.5,287.7L145.8,287.7L149.1,287.7L152.4,287.7L155.7,287.7L159,287.7L162.3,287.7L165.6,287.7L168.9,287.7L172.1,287.7L175.4,287.7L178.7,287.7L182,287.7L185.3,287.7L188.6,287.7L191.9,287.7L195.2,287.7L198.5,287.7L201.8,287.7L205.1,287.7L208.4,287.7L211.7,287.7L215,287.7L218.2,287.7L221.5,287.7L224.8,287.7L228.1,287.7L231.4,287.7L234.7,287.7L238,287.7L241.3,287.7L244.6,287.6L247.9,287.6L251.2,287.6L254.5,287.5L257.8,287.4L261,287.2L264.3,287L267.6,286.7L270.9,286.3L274.2,285.7L277.5,285L280.8,284.2L284.1,283.1L287.4,281.8L290.7,280.3L294,278.5L297.3,276.4L300.6,274.1L303.8,271.6L307.1,268.8L310.4,265.8L313.7,262.7L317,259.6L320.3,256.3L323.6,253.2L326.9,250.1L330.2,247.3L333.5,244.7L336.8,242.5L340.1,240.8L343.4,239.6L346.6,238.9L349.9,238.9L353.2,239.5L356.5,240.8L359.8,242.6L363.1,245L366.4,247.9L369.7,251.2L373,254.7L376.3,258.4L379.6,262.1L382.9,265.7L386.2,269.1L389.5,272.2L392.7,275L396,277.5L399.3,279.7L402.6,281.5L405.9,283L409.2,284.2L412.5,285.1L415.8,285.8L419.1,286.3L422.4,286.7L425.7,286.9L429,287L432.3,287.1L435.5,287L438.8,286.8L442.1,286.5L445.4,286.2L448.7,285.7L452,285L455.3,284.2L458.6,283.3L461.9,282.1L465.2,280.9L468.5,279.5L471.8,278L475.1,276.4L478.3,274.8L481.6,273.2L484.9,271.8L488.2,270.6L491.5,269.6L494.8,268.9L498.1,268.5L501.4,268.5L504.7,268.9L508,269.6L511.3,270.5L514.6,271.8L517.9,273.2L521.2,274.7L524.4,276.3L527.7,277.9L531,279.4L534.3,280.8L537.6,282.1L540.9,283.2L544.2,284.2L547.5,285L550.8,285.7L554.1,286.2L557.4,286.6L560.7,286.9L564,287.1L567.2,287.3L570.5,287.4L573.8,287.5L577.1,287.6L580.4,287.6L583.7,287.7L587,287.7L590.3,287.7L593.6,287.7L596.9,287.7L600.2,287.7L603.5,287.7L606.8,287.7L610,287.7L613.3,287.7L616.6,287.7L619.9,287.7L623.2,287.7L626.5,287.7L629.8,287.7L633.1,287.7L636.4,287.7L639.7,287.7L643,287.7L646.3,287.7L649.6,287.7L652.8,287.7L656.1,287.7L659.4,287.7L662.7,287.7L666,287.7L669.3,287.7L672.6,287.7L675.9,287.7L679.2,287.7L682.5,287.7L685.8,287.7L689.1,287.7L692.4,287.7L695.7,287.7L698.9,287.7L702.2,287.7L705.5,287.7L708.8,287.7L712.1,287.7L715.4,287.7L718.7,287.7L722,287.7L725.3,287.7L728.6,287.7L731.9,287.7L735.2,287.7L738.5,287.7L741.7,287.7L745,287.7L748.3,287.7L751.6,287.7L754.9,287.7L758.2,287.7L761.5,287.7L761.5,287.7Z" fill="#7E6148" fill-opacity="0.7" stroke="none"/>
<path d="M106.3,287.7L109.6,287.7L112.9,287.7L116.2,287.7L119.5,287.7L122.8,287.7L126.1,287.7L129.3,287.7L132.6,287.7L135.9,287.7L139.2,287.7L142.5,287.7L145.8,287.7L149.1,287.7L152.4,287.7L155.7,287.7L159,287.7L162.3,287.7L165.6,287.7L168.9,287.7L172.1,287.7L175.4,287.7L178.7,287.7L182,287.7L185.3,287.7L188.6,287.7L191.9,287.7L195.2,287.7L198.5,287.7L201.8,287.7L205.1,287.7L208.4,287.7L211.7,287.7L215,287.7L218.2,287.7L221.5,287.7L224.8,287.7L228.1,287.7L231.4,287.7L234.7,287.7L238,287.7L241.3,287.7L244.6,287.6L247.9,287.6L251.2,287.6L254.5,287.5L257.8,287.4L261,287.2L264.3,287L267.6,286.7L270.9,286.3L274.2,285.7L277.5,285L280.8,284.2L284.1,283.1L287.4,281.8L290.7,280.3L294,278.5L297.3,276.4L300.6,274.1L303.8,271.6L307.1,268.8L310.4,265.8L313.7,262.7L317,259.6L320.3,256.3L323.6,253.2L326.9,250.1L330.2,247.3L333.5,244.7L336.8,242.5L340.1,240.8L343.4,239.6L346.6,238.9L349.9,238.9L353.2,239.5L356.5,240.8L359.8,242.6L363.1,245L366.4,247.9L369.7,251.2L373,254.7L376.3,258.4L379.6,262.1L382.9,265.7L386.2,269.1L389.5,272.2L392.7,275L396,277.5L399.3,279.7L402.6,281.5L405.9,283L409.2,284.2L412.5,285.1L415.8,285.8L419.1,286.3L422.4,286.7L425.7,286.9L429,287L432.3,287.1L435.5,287L438.8,286.8L442.1,286.5L445.4,286.2L448.7,285.7L452,285L455.3,284.2L458.6,283.3L461.9,282.1L465.2,280.9L468.5,279.5L471.8,278L475.1,276.4L478.3,274.8L481.6,273.2L484.9,271.8L488.2,270.6L491.5,269.6L494.8,268.9L498.1,268.5L501.4,268.5L504.7,268.9L508,269.6L511.3,270.5L514.6,271.8L517.9,273.2L521.2,274.7L524.4,276.3L527.7,277.9L531,279.4L534.3,280.8L537.6,282.1L540.9,283.2L544.2,284.2L547.5,285L550.8,285.7L554.1,286.2L557.4,286.6L560.7,286.9L564,287.1L567.2,287.3L570.5,287.4L573.8,287.5L577.1,287.6L580.4,287.6L583.7,287.7L587,287.7L590.3,287.7L593.6,287.7L596.9,287.7L600.2,287.7L603.5,287.7L606.8,287.7L610,287.7L613.3,287.7L616.6,287.7L619.9,287.7L623.2,287.7L626.5,287.7L629.8,287.7L633.1,287.7L636.4,287.7L639.7,287.7L643,287.7L646.3,287.7L649.6,287.7L652.8,287.7L656.1,287.7L659.4,287.7L662.7,287.7L666,287.7L669.3,287.7L672.6,287.7L675.9,287.7L679.2,287.7L682.5,287.7L685.8,287.7L689.1,287.7L692.4,287.7L695.7,287.7L698.9,287.7L702.2,287.7L705.5,287.7L708.8,287.7L712.1,287.7L715.4,287.7L718.7,287.7L722,287.7L725.3,287.7L728.6,287.7L731.9,287.7L735.2,287.7L738.5,287.7L741.7,287.7L745,287.7L748.3,287.7L751.6,287.7L754.9,287.7L758.2,287.7L761.5,287.7" fill="none" stroke="#111" stroke-width="1.3" stroke-linejoin="round"/>
<path d="M106.3,287.7L106.3,287.7L109.6,287.7L112.9,287.7L116.2,287.7L119.5,287.7L122.8,287.7L126.1,287.7L129.3,287.7L132.6,287.7L135.9,287.7L139.2,287.7L142.5,287.6L145.8,287.6L149.1,287.4L152.4,287L155.7,286.3L159,285.1L162.3,283.2L165.6,280.3L168.9,276.2L172.1,271.1L175.4,265.2L178.7,259.1L182,253.3L185.3,248.4L188.6,244.7L191.9,242L195.2,239.8L198.5,237.4L201.8,234.4L205.1,230.4L208.4,225.9L211.7,221.8L215,219.1L218.2,218.5L221.5,220.6L224.8,225.1L228.1,231.2L231.4,237.8L234.7,243.6L238,247.7L241.3,249.8L244.6,250.1L247.9,249.4L251.2,248.7L254.5,249.1L257.8,251.1L261,254.9L264.3,260L267.6,265.7L270.9,271.4L274.2,276.4L277.5,280.4L280.8,283.2L284.1,285.2L287.4,286.4L290.7,287L294,287.4L297.3,287.6L300.6,287.6L303.8,287.7L307.1,287.7L310.4,287.7L313.7,287.7L317,287.7L320.3,287.7L323.6,287.7L326.9,287.7L330.2,287.7L333.5,287.7L336.8,287.7L340.1,287.7L343.4,287.7L346.6,287.7L349.9,287.7L353.2,287.7L356.5,287.7L359.8,287.7L363.1,287.7L366.4,287.7L369.7,287.7L373,287.7L376.3,287.7L379.6,287.7L382.9,287.7L386.2,287.7L389.5,287.7L392.7,287.7L396,287.7L399.3,287.7L402.6,287.7L405.9,287.7L409.2,287.7L412.5,287.7L415.8,287.7L419.1,287.7L422.4,287.7L425.7,287.7L429,287.7L432.3,287.7L435.5,287.7L438.8,287.7L442.1,287.7L445.4,287.7L448.7,287.7L452,287.7L455.3,287.7L458.6,287.7L461.9,287.7L465.2,287.7L468.5,287.7L471.8,287.7L475.1,287.7L478.3,287.7L481.6,287.7L484.9,287.7L488.2,287.7L491.5,287.7L494.8,287.7L498.1,287.7L501.4,287.7L504.7,287.7L508,287.7L511.3,287.7L514.6,287.7L517.9,287.7L521.2,287.7L524.4,287.7L527.7,287.7L531,287.7L534.3,287.7L537.6,287.7L540.9,287.7L544.2,287.7L547.5,287.7L550.8,287.7L554.1,287.7L557.4,287.7L560.7,287.7L564,287.7L567.2,287.7L570.5,287.7L573.8,287.7L577.1,287.7L580.4,287.7L583.7,287.7L587,287.7L590.3,287.7L593.6,287.7L596.9,287.7L600.2,287.7L603.5,287.7L606.8,287.7L610,287.7L613.3,287.7L616.6,287.7L619.9,287.7L623.2,287.7L626.5,287.7L629.8,287.7L633.1,287.7L636.4,287.7L639.7,287.7L643,287.7L646.3,287.7L649.6,287.7L652.8,287.7L656.1,287.7L659.4,287.7L662.7,287.7L666,287.7L669.3,287.7L672.6,287.7L675.9,287.7L679.2,287.7L682.5,287.7L685.8,287.7L689.1,287.7L692.4,287.7L695.7,287.7L698.9,287.7L702.2,287.7L705.5,287.7L708.8,287.7L712.1,287.7L715.4,287.7L718.7,287.7L722,287.7L725.3,287.7L728.6,287.7L731.9,287.7L735.2,287.7L738.5,287.7L741.7,287.7L745,287.7L748.3,287.7L751.6,287.7L754.9,287.7L758.2,287.7L761.5,287.7L761.5,287.7Z" fill="#B09C85" fill-opacity="0.7" stroke="none"/>
<path d="M106.3,287.7L109.6,287.7L112.9,287.7L116.2,287.7L119.5,287.7L122.8,287.7L126.1,287.7L129.3,287.7L132.6,287.7L135.9,287.7L139.2,287.7L142.5,287.6L145.8,287.6L149.1,287.4L152.4,287L155.7,286.3L159,285.1L162.3,283.2L165.6,280.3L168.9,276.2L172.1,271.1L175.4,265.2L178.7,259.1L182,253.3L185.3,248.4L188.6,244.7L191.9,242L195.2,239.8L198.5,237.4L201.8,234.4L205.1,230.4L208.4,225.9L211.7,221.8L215,219.1L218.2,218.5L221.5,220.6L224.8,225.1L228.1,231.2L231.4,237.8L234.7,243.6L238,247.7L241.3,249.8L244.6,250.1L247.9,249.4L251.2,248.7L254.5,249.1L257.8,251.1L261,254.9L264.3,260L267.6,265.7L270.9,271.4L274.2,276.4L277.5,280.4L280.8,283.2L284.1,285.2L287.4,286.4L290.7,287L294,287.4L297.3,287.6L300.6,287.6L303.8,287.7L307.1,287.7L310.4,287.7L313.7,287.7L317,287.7L320.3,287.7L323.6,287.7L326.9,287.7L330.2,287.7L333.5,287.7L336.8,287.7L340.1,287.7L343.4,287.7L346.6,287.7L349.9,287.7L353.2,287.7L356.5,287.7L359.8,287.7L363.1,287.7L366.4,287.7L369.7,287.7L373,287.7L376.3,287.7L379.6,287.7L382.9,287.7L386.2,287.7L389.5,287.7L392.7,287.7L396,287.7L399.3,287.7L402.6,287.7L405.9,287.7L409.2,287.7L412.5,287.7L415.8,287.7L419.1,287.7L422.4,287.7L425.7,287.7L429,287.7L432.3,287.7L435.5,287.7L438.8,287.7L442.1,287.7L445.4,287.7L448.7,287.7L452,287.7L455.3,287.7L458.6,287.7L461.9,287.7L465.2,287.7L468.5,287.7L471.8,287.7L475.1,287.7L478.3,287.7L481.6,287.7L484.9,287.7L488.2,287.7L491.5,287.7L494.8,287.7L498.1,287.7L501.4,287.7L504.7,287.7L508,287.7L511.3,287.7L514.6,287.7L517.9,287.7L521.2,287.7L524.4,287.7L527.7,287.7L531,287.7L534.3,287.7L537.6,287.7L540.9,287.7L544.2,287.7L547.5,287.7L550.8,287.7L554.1,287.7L557.4,287.7L560.7,287.7L564,287.7L567.2,287.7L570.5,287.7L573.8,287.7L577.1,287.7L580.4,287.7L583.7,287.7L587,287.7L590.3,287.7L593.6,287.7L596.9,287.7L600.2,287.7L603.5,287.7L606.8,287.7L610,287.7L613.3,287.7L616.6,287.7L619.9,287.7L623.2,287.7L626.5,287.7L629.8,287.7L633.1,287.7L636.4,287.7L639.7,287.7L643,287.7L646.3,287.7L649.6,287.7L652.8,287.7L656.1,287.7L659.4,287.7L662.7,287.7L666,287.7L669.3,287.7L672.6,287.7L675.9,287.7L679.2,287.7L682.5,287.7L685.8,287.7L689.1,287.7L692.4,287.7L695.7,287.7L698.9,287.7L702.2,287.7L705.5,287.7L708.8,287.7L712.1,287.7L715.4,287.7L718.7,287.7L722,287.7L725.3,287.7L728.6,287.7L731.9,287.7L735.2,287.7L738.5,287.7L741.7,287.7L745,287.7L748.3,287.7L751.6,287.7L754.9,287.7L758.2,287.7L761.5,287.7" fill="none" stroke="#111" stroke-width="1.3" stroke-linejoin="round"/>
</g>
<g id="densRight">
<path d="M761.2,288L761.6,288L761.6,291.1L761.7,294.3L761.8,297.4L761.8,300.6L761.9,303.7L762,306.9L762.1,310L762.2,313.2L762.3,316.3L762.5,319.4L762.6,322.6L762.8,325.7L763,328.9L763.1,332L763.3,335.2L763.6,338.3L763.8,341.5L764,344.6L764.3,347.7L764.6,350.9L764.9,354L765.2,357.2L765.5,360.3L765.8,363.5L766.2,366.6L766.6,369.7L767,372.9L767.4,376L767.8,379.2L768.2,382.3L768.7,385.5L769.1,388.6L769.6,391.8L770.1,394.9L770.6,398L771.1,401.2L771.6,404.3L772,407.5L772.5,410.6L773,413.8L773.5,416.9L774,420.1L774.5,423.2L775,426.3L775.5,429.5L775.9,432.6L776.4,435.8L776.8,438.9L777.3,442.1L777.7,445.2L778.1,448.4L778.5,451.5L778.9,454.6L779.2,457.8L779.6,460.9L779.9,464.1L780.2,467.2L780.6,470.4L780.9,473.5L781.2,476.7L781.5,479.8L781.7,482.9L782,486.1L782.3,489.2L782.5,492.4L782.8,495.5L783.1,498.7L783.3,501.8L783.6,505L783.8,508.1L784.1,511.2L784.4,514.4L784.6,517.5L784.9,520.7L785.2,523.8L785.5,527L785.7,530.1L786,533.2L786.3,536.4L786.6,539.5L786.9,542.7L787.1,545.8L787.4,549L787.6,552.1L787.9,555.3L788.1,558.4L788.4,561.5L788.6,564.7L788.7,567.8L788.9,571L789.1,574.1L789.2,577.3L789.3,580.4L789.3,583.6L789.4,586.7L789.4,589.8L789.4,593L789.3,596.1L789.2,599.3L789.1,602.4L788.9,605.6L788.7,608.7L788.5,611.9L788.2,615L787.9,618.1L787.6,621.3L787.2,624.4L786.9,627.6L786.4,630.7L786,633.9L785.5,637L785.1,640.2L784.6,643.3L784,646.4L783.5,649.6L783,652.7L782.5,655.9L781.9,659L781.4,662.2L780.9,665.3L780.3,668.5L779.8,671.6L779.4,674.7L778.9,677.9L778.4,681L778,684.2L777.6,687.3L777.2,690.5L776.9,693.6L776.6,696.7L776.3,699.9L776,703L775.8,706.2L775.6,709.3L775.5,712.5L775.3,715.6L775.2,718.8L775.2,721.9L775.1,725L775.1,728.2L775.1,731.3L775.2,734.5L775.2,737.6L775.3,740.8L775.4,743.9L775.5,747.1L775.6,750.2L775.7,753.3L775.8,756.5L776,759.6L776.1,762.8L776.2,765.9L776.3,769.1L776.3,772.2L776.4,775.4L776.5,778.5L776.5,781.6L776.5,784.8L776.5,787.9L776.5,791.1L776.4,794.2L776.3,797.4L776.2,800.5L776,803.7L775.9,806.8L775.7,809.9L775.4,813.1L775.2,816.2L774.9,819.4L774.6,822.5L774.3,825.7L773.9,828.8L773.6,832L773.2,835.1L772.8,838.2L772.4,841.4L772,844.5L771.6,847.7L771.1,850.8L770.7,854L770.3,857.1L769.8,860.2L769.4,863.4L769,866.5L768.5,869.7L768.1,872.8L767.7,876L767.3,879.1L766.9,882.3L766.5,885.4L766.2,888.5L765.8,891.7L765.5,894.8L765.2,898L764.9,901.1L764.6,904.3L764.3,907.4L764,910.6L763.8,913.7L761.2,913.7Z" fill="#E64B35" fill-opacity="0.7" stroke="none"/>
<path d="M761.6,288L761.6,291.1L761.7,294.3L761.8,297.4L761.8,300.6L761.9,303.7L762,306.9L762.1,310L762.2,313.2L762.3,316.3L762.5,319.4L762.6,322.6L762.8,325.7L763,328.9L763.1,332L763.3,335.2L763.6,338.3L763.8,341.5L764,344.6L764.3,347.7L764.6,350.9L764.9,354L765.2,357.2L765.5,360.3L765.8,363.5L766.2,366.6L766.6,369.7L767,372.9L767.4,376L767.8,379.2L768.2,382.3L768.7,385.5L769.1,388.6L769.6,391.8L770.1,394.9L770.6,398L771.1,401.2L771.6,404.3L772,407.5L772.5,410.6L773,413.8L773.5,416.9L774,420.1L774.5,423.2L775,426.3L775.5,429.5L775.9,432.6L776.4,435.8L776.8,438.9L777.3,442.1L777.7,445.2L778.1,448.4L778.5,451.5L778.9,454.6L779.2,457.8L779.6,460.9L779.9,464.1L780.2,467.2L780.6,470.4L780.9,473.5L781.2,476.7L781.5,479.8L781.7,482.9L782,486.1L782.3,489.2L782.5,492.4L782.8,495.5L783.1,498.7L783.3,501.8L783.6,505L783.8,508.1L784.1,511.2L784.4,514.4L784.6,517.5L784.9,520.7L785.2,523.8L785.5,527L785.7,530.1L786,533.2L786.3,536.4L786.6,539.5L786.9,542.7L787.1,545.8L787.4,549L787.6,552.1L787.9,555.3L788.1,558.4L788.4,561.5L788.6,564.7L788.7,567.8L788.9,571L789.1,574.1L789.2,577.3L789.3,580.4L789.3,583.6L789.4,586.7L789.4,589.8L789.4,593L789.3,596.1L789.2,599.3L789.1,602.4L788.9,605.6L788.7,608.7L788.5,611.9L788.2,615L787.9,618.1L787.6,621.3L787.2,624.4L786.9,627.6L786.4,630.7L786,633.9L785.5,637L785.1,640.2L784.6,643.3L784,646.4L783.5,649.6L783,652.7L782.5,655.9L781.9,659L781.4,662.2L780.9,665.3L780.3,668.5L779.8,671.6L779.4,674.7L778.9,677.9L778.4,681L778,684.2L777.6,687.3L777.2,690.5L776.9,693.6L776.6,696.7L776.3,699.9L776,703L775.8,706.2L775.6,709.3L775.5,712.5L775.3,715.6L775.2,718.8L775.2,721.9L775.1,725L775.1,728.2L775.1,731.3L775.2,734.5L775.2,737.6L775.3,740.8L775.4,743.9L775.5,747.1L775.6,750.2L775.7,753.3L775.8,756.5L776,759.6L776.1,762.8L776.2,765.9L776.3,769.1L776.3,772.2L776.4,775.4L776.5,778.5L776.5,781.6L776.5,784.8L776.5,787.9L776.5,791.1L776.4,794.2L776.3,797.4L776.2,800.5L776,803.7L775.9,806.8L775.7,809.9L775.4,813.1L775.2,816.2L774.9,819.4L774.6,822.5L774.3,825.7L773.9,828.8L773.6,832L773.2,835.1L772.8,838.2L772.4,841.4L772,844.5L771.6,847.7L771.1,850.8L770.7,854L770.3,857.1L769.8,860.2L769.4,863.4L769,866.5L768.5,869.7L768.1,872.8L767.7,876L767.3,879.1L766.9,882.3L766.5,885.4L766.2,888.5L765.8,891.7L765.5,894.8L765.2,898L764.9,901.1L764.6,904.3L764.3,907.4L764,910.6L763.8,913.7" fill="none" stroke="#111" stroke-width="1.3" stroke-linejoin="round"/>
<path d="M761.2,288L761.2,288L761.2,291.1L761.2,294.3L761.2,297.4L761.2,300.6L761.2,303.7L761.2,306.9L761.2,310L761.2,313.2L761.2,316.3L761.2,319.4L761.2,322.6L761.2,325.7L761.2,328.9L761.2,332L761.2,335.2L761.2,338.3L761.2,341.5L761.2,344.6L761.2,347.7L761.2,350.9L761.3,354L761.3,357.2L761.3,360.3L761.3,363.5L761.3,366.6L761.3,369.7L761.4,372.9L761.4,376L761.4,379.2L761.5,382.3L761.5,385.5L761.6,388.6L761.7,391.8L761.7,394.9L761.8,398L761.9,401.2L762,404.3L762.1,407.5L762.2,410.6L762.4,413.8L762.6,416.9L762.7,420.1L762.9,423.2L763.1,426.3L763.4,429.5L763.6,432.6L763.9,435.8L764.2,438.9L764.5,442.1L764.9,445.2L765.2,448.4L765.6,451.5L766,454.6L766.5,457.8L766.9,460.9L767.4,464.1L767.9,467.2L768.4,470.4L768.9,473.5L769.5,476.7L770,479.8L770.6,482.9L771.1,486.1L771.7,489.2L772.3,492.4L772.8,495.5L773.4,498.7L773.9,501.8L774.4,505L774.9,508.1L775.4,511.2L775.8,514.4L776.2,517.5L776.6,520.7L777,523.8L777.3,527L777.5,530.1L777.7,533.2L777.9,536.4L778.1,539.5L778.1,542.7L778.2,545.8L778.2,549L778.1,552.1L778.1,555.3L777.9,558.4L777.8,561.5L777.6,564.7L777.4,567.8L777.2,571L776.9,574.1L776.7,577.3L776.4,580.4L776.2,583.6L775.9,586.7L775.7,589.8L775.4,593L775.2,596.1L775.1,599.3L774.9,602.4L774.8,605.6L774.7,608.7L774.7,611.9L774.8,615L774.8,618.1L775,621.3L775.2,624.4L775.4,627.6L775.7,630.7L776.1,633.9L776.5,637L777,640.2L777.5,643.3L778.1,646.4L778.8,649.6L779.4,652.7L780.1,655.9L780.9,659L781.7,662.2L782.5,665.3L783.3,668.5L784.1,671.6L784.9,674.7L785.7,677.9L786.5,681L787.3,684.2L788.1,687.3L788.8,690.5L789.5,693.6L790.1,696.7L790.7,699.9L791.3,703L791.8,706.2L792.2,709.3L792.5,712.5L792.8,715.6L793,718.8L793.2,721.9L793.2,725L793.2,728.2L793.1,731.3L793,734.5L792.8,737.6L792.5,740.8L792.2,743.9L791.8,747.1L791.3,750.2L790.9,753.3L790.3,756.5L789.8,759.6L789.2,762.8L788.6,765.9L788,769.1L787.4,772.2L786.8,775.4L786.2,778.5L785.6,781.6L785.1,784.8L784.5,787.9L784,791.1L783.5,794.2L783.1,797.4L782.7,800.5L782.3,803.7L782,806.8L781.7,809.9L781.4,813.1L781.2,816.2L781,819.4L780.8,822.5L780.7,825.7L780.5,828.8L780.5,832L780.4,835.1L780.3,838.2L780.3,841.4L780.2,844.5L780.2,847.7L780.1,850.8L780,854L779.9,857.1L779.8,860.2L779.7,863.4L779.6,866.5L779.4,869.7L779.2,872.8L779,876L778.7,879.1L778.4,882.3L778.1,885.4L777.7,888.5L777.3,891.7L776.9,894.8L776.4,898L775.9,901.1L775.4,904.3L774.9,907.4L774.4,910.6L773.8,913.7L761.2,913.7Z" fill="#4DBBD5" fill-opacity="0.7" stroke="none"/>
<path d="M761.2,288L761.2,291.1L761.2,294.3L761.2,297.4L761.2,300.6L761.2,303.7L761.2,306.9L761.2,310L761.2,313.2L761.2,316.3L761.2,319.4L761.2,322.6L761.2,325.7L761.2,328.9L761.2,332L761.2,335.2L761.2,338.3L761.2,341.5L761.2,344.6L761.2,347.7L761.2,350.9L761.3,354L761.3,357.2L761.3,360.3L761.3,363.5L761.3,366.6L761.3,369.7L761.4,372.9L761.4,376L761.4,379.2L761.5,382.3L761.5,385.5L761.6,388.6L761.7,391.8L761.7,394.9L761.8,398L761.9,401.2L762,404.3L762.1,407.5L762.2,410.6L762.4,413.8L762.6,416.9L762.7,420.1L762.9,423.2L763.1,426.3L763.4,429.5L763.6,432.6L763.9,435.8L764.2,438.9L764.5,442.1L764.9,445.2L765.2,448.4L765.6,451.5L766,454.6L766.5,457.8L766.9,460.9L767.4,464.1L767.9,467.2L768.4,470.4L768.9,473.5L769.5,476.7L770,479.8L770.6,482.9L771.1,486.1L771.7,489.2L772.3,492.4L772.8,495.5L773.4,498.7L773.9,501.8L774.4,505L774.9,508.1L775.4,511.2L775.8,514.4L776.2,517.5L776.6,520.7L777,523.8L777.3,527L777.5,530.1L777.7,533.2L777.9,536.4L778.1,539.5L778.1,542.7L778.2,545.8L778.2,549L778.1,552.1L778.1,555.3L777.9,558.4L777.8,561.5L777.6,564.7L777.4,567.8L777.2,571L776.9,574.1L776.7,577.3L776.4,580.4L776.2,583.6L775.9,586.7L775.7,589.8L775.4,593L775.2,596.1L775.1,599.3L774.9,602.4L774.8,605.6L774.7,608.7L774.7,611.9L774.8,615L774.8,618.1L775,621.3L775.2,624.4L775.4,627.6L775.7,630.7L776.1,633.9L776.5,637L777,640.2L777.5,643.3L778.1,646.4L778.8,649.6L779.4,652.7L780.1,655.9L780.9,659L781.7,662.2L782.5,665.3L783.3,668.5L784.1,671.6L784.9,674.7L785.7,677.9L786.5,681L787.3,684.2L788.1,687.3L788.8,690.5L789.5,693.6L790.1,696.7L790.7,699.9L791.3,703L791.8,706.2L792.2,709.3L792.5,712.5L792.8,715.6L793,718.8L793.2,721.9L793.2,725L793.2,728.2L793.1,731.3L793,734.5L792.8,737.6L792.5,740.8L792.2,743.9L791.8,747.1L791.3,750.2L790.9,753.3L790.3,756.5L789.8,759.6L789.2,762.8L788.6,765.9L788,769.1L787.4,772.2L786.8,775.4L786.2,778.5L785.6,781.6L785.1,784.8L784.5,787.9L784,791.1L783.5,794.2L783.1,797.4L782.7,800.5L782.3,803.7L782,806.8L781.7,809.9L781.4,813.1L781.2,816.2L781,819.4L780.8,822.5L780.7,825.7L780.5,828.8L780.5,832L780.4,835.1L780.3,838.2L780.3,841.4L780.2,844.5L780.2,847.7L780.1,850.8L780,854L779.9,857.1L779.8,860.2L779.7,863.4L779.6,866.5L779.4,869.7L779.2,872.8L779,876L778.7,879.1L778.4,882.3L778.1,885.4L777.7,888.5L777.3,891.7L776.9,894.8L776.4,898L775.9,901.1L775.4,904.3L774.9,907.4L774.4,910.6L773.8,913.7" fill="none" stroke="#111" stroke-width="1.3" stroke-linejoin="round"/>
<path d="M761.2,288L761.2,288L761.2,291.1L761.2,294.3L761.2,297.4L761.2,300.6L761.2,303.7L761.2,306.9L761.2,310L761.2,313.2L761.2,316.3L761.2,319.4L761.2,322.6L761.2,325.7L761.2,328.9L761.2,332L761.2,335.2L761.2,338.3L761.2,341.5L761.2,344.6L761.2,347.7L761.2,350.9L761.2,354L761.2,357.2L761.2,360.3L761.2,363.5L761.2,366.6L761.2,369.7L761.2,372.9L761.2,376L761.2,379.2L761.2,382.3L761.2,385.5L761.2,388.6L761.2,391.8L761.2,394.9L761.2,398L761.2,401.2L761.2,404.3L761.2,407.5L761.2,410.6L761.2,413.8L761.2,416.9L761.2,420.1L761.2,423.2L761.2,426.3L761.2,429.5L761.2,432.6L761.2,435.8L761.2,438.9L761.2,442.1L761.2,445.2L761.2,448.4L761.2,451.5L761.3,454.6L761.3,457.8L761.3,460.9L761.3,464.1L761.3,467.2L761.3,470.4L761.3,473.5L761.4,476.7L761.4,479.8L761.4,482.9L761.5,486.1L761.5,489.2L761.5,492.4L761.6,495.5L761.6,498.7L761.7,501.8L761.8,505L761.9,508.1L762,511.2L762.1,514.4L762.2,517.5L762.3,520.7L762.4,523.8L762.6,527L762.8,530.1L762.9,533.2L763.1,536.4L763.4,539.5L763.6,542.7L763.9,545.8L764.2,549L764.5,552.1L764.8,555.3L765.2,558.4L765.5,561.5L765.9,564.7L766.4,567.8L766.9,571L767.3,574.1L767.9,577.3L768.4,580.4L769,583.6L769.6,586.7L770.2,589.8L770.9,593L771.6,596.1L772.3,599.3L773,602.4L773.8,605.6L774.5,608.7L775.3,611.9L776.1,615L776.9,618.1L777.8,621.3L778.6,624.4L779.4,627.6L780.3,630.7L781.1,633.9L781.9,637L782.7,640.2L783.5,643.3L784.3,646.4L785,649.6L785.8,652.7L786.5,655.9L787.1,659L787.8,662.2L788.4,665.3L788.9,668.5L789.4,671.6L789.9,674.7L790.3,677.9L790.7,681L791,684.2L791.3,687.3L791.6,690.5L791.8,693.6L791.9,696.7L792,699.9L792.1,703L792.1,706.2L792.1,709.3L792.1,712.5L792,715.6L791.9,718.8L791.7,721.9L791.6,725L791.4,728.2L791.2,731.3L791,734.5L790.8,737.6L790.6,740.8L790.3,743.9L790.1,747.1L789.9,750.2L789.7,753.3L789.5,756.5L789.3,759.6L789.1,762.8L789,765.9L788.8,769.1L788.7,772.2L788.6,775.4L788.5,778.5L788.4,781.6L788.4,784.8L788.4,787.9L788.3,791.1L788.3,794.2L788.4,797.4L788.4,800.5L788.4,803.7L788.4,806.8L788.5,809.9L788.5,813.1L788.6,816.2L788.6,819.4L788.6,822.5L788.6,825.7L788.6,828.8L788.6,832L788.6,835.1L788.6,838.2L788.5,841.4L788.4,844.5L788.3,847.7L788.2,850.8L788,854L787.8,857.1L787.6,860.2L787.3,863.4L787,866.5L786.7,869.7L786.4,872.8L786,876L785.6,879.1L785.2,882.3L784.7,885.4L784.2,888.5L783.7,891.7L783.1,894.8L782.6,898L782,901.1L781.4,904.3L780.8,907.4L780.1,910.6L779.5,913.7L761.2,913.7Z" fill="#00A087" fill-opacity="0.7" stroke="none"/>
<path d="M761.2,288L761.2,291.1L761.2,294.3L761.2,297.4L761.2,300.6L761.2,303.7L761.2,306.9L761.2,310L761.2,313.2L761.2,316.3L761.2,319.4L761.2,322.6L761.2,325.7L761.2,328.9L761.2,332L761.2,335.2L761.2,338.3L761.2,341.5L761.2,344.6L761.2,347.7L761.2,350.9L761.2,354L761.2,357.2L761.2,360.3L761.2,363.5L761.2,366.6L761.2,369.7L761.2,372.9L761.2,376L761.2,379.2L761.2,382.3L761.2,385.5L761.2,388.6L761.2,391.8L761.2,394.9L761.2,398L761.2,401.2L761.2,404.3L761.2,407.5L761.2,410.6L761.2,413.8L761.2,416.9L761.2,420.1L761.2,423.2L761.2,426.3L761.2,429.5L761.2,432.6L761.2,435.8L761.2,438.9L761.2,442.1L761.2,445.2L761.2,448.4L761.2,451.5L761.3,454.6L761.3,457.8L761.3,460.9L761.3,464.1L761.3,467.2L761.3,470.4L761.3,473.5L761.4,476.7L761.4,479.8L761.4,482.9L761.5,486.1L761.5,489.2L761.5,492.4L761.6,495.5L761.6,498.7L761.7,501.8L761.8,505L761.9,508.1L762,511.2L762.1,514.4L762.2,517.5L762.3,520.7L762.4,523.8L762.6,527L762.8,530.1L762.9,533.2L763.1,536.4L763.4,539.5L763.6,542.7L763.9,545.8L764.2,549L764.5,552.1L764.8,555.3L765.2,558.4L765.5,561.5L765.9,564.7L766.4,567.8L766.9,571L767.3,574.1L767.9,577.3L768.4,580.4L769,583.6L769.6,586.7L770.2,589.8L770.9,593L771.6,596.1L772.3,599.3L773,602.4L773.8,605.6L774.5,608.7L775.3,611.9L776.1,615L776.9,618.1L777.8,621.3L778.6,624.4L779.4,627.6L780.3,630.7L781.1,633.9L781.9,637L782.7,640.2L783.5,643.3L784.3,646.4L785,649.6L785.8,652.7L786.5,655.9L787.1,659L787.8,662.2L788.4,665.3L788.9,668.5L789.4,671.6L789.9,674.7L790.3,677.9L790.7,681L791,684.2L791.3,687.3L791.6,690.5L791.8,693.6L791.9,696.7L792,699.9L792.1,703L792.1,706.2L792.1,709.3L792.1,712.5L792,715.6L791.9,718.8L791.7,721.9L791.6,725L791.4,728.2L791.2,731.3L791,734.5L790.8,737.6L790.6,740.8L790.3,743.9L790.1,747.1L789.9,750.2L789.7,753.3L789.5,756.5L789.3,759.6L789.1,762.8L789,765.9L788.8,769.1L788.7,772.2L788.6,775.4L788.5,778.5L788.4,781.6L788.4,784.8L788.4,787.9L788.3,791.1L788.3,794.2L788.4,797.4L788.4,800.5L788.4,803.7L788.4,806.8L788.5,809.9L788.5,813.1L788.6,816.2L788.6,819.4L788.6,822.5L788.6,825.7L788.6,828.8L788.6,832L788.6,835.1L788.6,838.2L788.5,841.4L788.4,844.5L788.3,847.7L788.2,850.8L788,854L787.8,857.1L787.6,860.2L787.3,863.4L787,866.5L786.7,869.7L786.4,872.8L786,876L785.6,879.1L785.2,882.3L784.7,885.4L784.2,888.5L783.7,891.7L783.1,894.8L782.6,898L782,901.1L781.4,904.3L780.8,907.4L780.1,910.6L779.5,913.7" fill="none" stroke="#111" stroke-width="1.3" stroke-linejoin="round"/>
<path d="M761.2,288L780.7,288L782.2,291.1L783.5,294.3L784.7,297.4L785.8,300.6L786.8,303.7L787.5,306.9L788.1,310L788.4,313.2L788.6,316.3L788.5,319.4L788.2,322.6L787.8,325.7L787.1,328.9L786.4,332L785.5,335.2L784.5,338.3L783.4,341.5L782.4,344.6L781.3,347.7L780.4,350.9L779.5,354L778.7,357.2L778.2,360.3L777.8,363.5L777.6,366.6L777.7,369.7L778,372.9L778.5,376L779.4,379.2L780.4,382.3L781.8,385.5L783.3,388.6L785.1,391.8L787.1,394.9L789.2,398L791.5,401.2L793.9,404.3L796.3,407.5L798.8,410.6L801.3,413.8L803.8,416.9L806.2,420.1L808.6,423.2L810.8,426.3L812.8,429.5L814.7,432.6L816.4,435.8L817.9,438.9L819.2,442.1L820.3,445.2L821.1,448.4L821.7,451.5L822,454.6L822.1,457.8L822,460.9L821.6,464.1L821,467.2L820.2,470.4L819.1,473.5L817.9,476.7L816.4,479.8L814.8,482.9L813,486.1L811.1,489.2L809,492.4L806.8,495.5L804.4,498.7L802,501.8L799.5,505L797,508.1L794.5,511.2L791.9,514.4L789.4,517.5L787,520.7L784.6,523.8L782.3,527L780.1,530.1L778,533.2L776,536.4L774.2,539.5L772.5,542.7L771,545.8L769.6,549L768.4,552.1L767.3,555.3L766.3,558.4L765.5,561.5L764.7,564.7L764.1,567.8L763.6,571L763.1,574.1L762.7,577.3L762.4,580.4L762.2,583.6L762,586.7L761.8,589.8L761.7,593L761.5,596.1L761.5,599.3L761.4,602.4L761.3,605.6L761.3,608.7L761.3,611.9L761.3,615L761.2,618.1L761.2,621.3L761.2,624.4L761.2,627.6L761.2,630.7L761.2,633.9L761.2,637L761.2,640.2L761.2,643.3L761.2,646.4L761.2,649.6L761.2,652.7L761.2,655.9L761.2,659L761.2,662.2L761.2,665.3L761.2,668.5L761.2,671.6L761.2,674.7L761.2,677.9L761.2,681L761.2,684.2L761.2,687.3L761.2,690.5L761.2,693.6L761.2,696.7L761.2,699.9L761.2,703L761.2,706.2L761.2,709.3L761.2,712.5L761.2,715.6L761.2,718.8L761.2,721.9L761.2,725L761.2,728.2L761.2,731.3L761.2,734.5L761.2,737.6L761.2,740.8L761.2,743.9L761.2,747.1L761.2,750.2L761.2,753.3L761.2,756.5L761.2,759.6L761.2,762.8L761.2,765.9L761.2,769.1L761.2,772.2L761.2,775.4L761.2,778.5L761.2,781.6L761.2,784.8L761.2,787.9L761.2,791.1L761.2,794.2L761.2,797.4L761.2,800.5L761.2,803.7L761.2,806.8L761.2,809.9L761.2,813.1L761.2,816.2L761.2,819.4L761.2,822.5L761.2,825.7L761.2,828.8L761.2,832L761.2,835.1L761.2,838.2L761.2,841.4L761.2,844.5L761.2,847.7L761.2,850.8L761.2,854L761.2,857.1L761.2,860.2L761.2,863.4L761.2,866.5L761.2,869.7L761.2,872.8L761.2,876L761.2,879.1L761.2,882.3L761.2,885.4L761.2,888.5L761.2,891.7L761.2,894.8L761.2,898L761.2,901.1L761.2,904.3L761.2,907.4L761.2,910.6L761.2,913.7L761.2,913.7Z" fill="#3C5488" fill-opacity="0.7" stroke="none"/>
<path d="M780.7,288L782.2,291.1L783.5,294.3L784.7,297.4L785.8,300.6L786.8,303.7L787.5,306.9L788.1,310L788.4,313.2L788.6,316.3L788.5,319.4L788.2,322.6L787.8,325.7L787.1,328.9L786.4,332L785.5,335.2L784.5,338.3L783.4,341.5L782.4,344.6L781.3,347.7L780.4,350.9L779.5,354L778.7,357.2L778.2,360.3L777.8,363.5L777.6,366.6L777.7,369.7L778,372.9L778.5,376L779.4,379.2L780.4,382.3L781.8,385.5L783.3,388.6L785.1,391.8L787.1,394.9L789.2,398L791.5,401.2L793.9,404.3L796.3,407.5L798.8,410.6L801.3,413.8L803.8,416.9L806.2,420.1L808.6,423.2L810.8,426.3L812.8,429.5L814.7,432.6L816.4,435.8L817.9,438.9L819.2,442.1L820.3,445.2L821.1,448.4L821.7,451.5L822,454.6L822.1,457.8L822,460.9L821.6,464.1L821,467.2L820.2,470.4L819.1,473.5L817.9,476.7L816.4,479.8L814.8,482.9L813,486.1L811.1,489.2L809,492.4L806.8,495.5L804.4,498.7L802,501.8L799.5,505L797,508.1L794.5,511.2L791.9,514.4L789.4,517.5L787,520.7L784.6,523.8L782.3,527L780.1,530.1L778,533.2L776,536.4L774.2,539.5L772.5,542.7L771,545.8L769.6,549L768.4,552.1L767.3,555.3L766.3,558.4L765.5,561.5L764.7,564.7L764.1,567.8L763.6,571L763.1,574.1L762.7,577.3L762.4,580.4L762.2,583.6L762,586.7L761.8,589.8L761.7,593L761.5,596.1L761.5,599.3L761.4,602.4L761.3,605.6L761.3,608.7L761.3,611.9L761.3,615L761.2,618.1L761.2,621.3L761.2,624.4L761.2,627.6L761.2,630.7L761.2,633.9L761.2,637L761.2,640.2L761.2,643.3L761.2,646.4L761.2,649.6L761.2,652.7L761.2,655.9L761.2,659L761.2,662.2L761.2,665.3L761.2,668.5L761.2,671.6L761.2,674.7L761.2,677.9L761.2,681L761.2,684.2L761.2,687.3L761.2,690.5L761.2,693.6L761.2,696.7L761.2,699.9L761.2,703L761.2,706.2L761.2,709.3L761.2,712.5L761.2,715.6L761.2,718.8L761.2,721.9L761.2,725L761.2,728.2L761.2,731.3L761.2,734.5L761.2,737.6L761.2,740.8L761.2,743.9L761.2,747.1L761.2,750.2L761.2,753.3L761.2,756.5L761.2,759.6L761.2,762.8L761.2,765.9L761.2,769.1L761.2,772.2L761.2,775.4L761.2,778.5L761.2,781.6L761.2,784.8L761.2,787.9L761.2,791.1L761.2,794.2L761.2,797.4L761.2,800.5L761.2,803.7L761.2,806.8L761.2,809.9L761.2,813.1L761.2,816.2L761.2,819.4L761.2,822.5L761.2,825.7L761.2,828.8L761.2,832L761.2,835.1L761.2,838.2L761.2,841.4L761.2,844.5L761.2,847.7L761.2,850.8L761.2,854L761.2,857.1L761.2,860.2L761.2,863.4L761.2,866.5L761.2,869.7L761.2,872.8L761.2,876L761.2,879.1L761.2,882.3L761.2,885.4L761.2,888.5L761.2,891.7L761.2,894.8L761.2,898L761.2,901.1L761.2,904.3L761.2,907.4L761.2,910.6L761.2,913.7" fill="none" stroke="#111" stroke-width="1.3" stroke-linejoin="round"/>
<path d="M761.2,288L761.2,288L761.2,291.1L761.2,294.3L761.2,297.4L761.2,300.6L761.2,303.7L761.2,306.9L761.2,310L761.3,313.2L761.3,316.3L761.3,319.4L761.3,322.6L761.3,325.7L761.3,328.9L761.3,332L761.3,335.2L761.3,338.3L761.4,341.5L761.4,344.6L761.4,347.7L761.4,350.9L761.5,354L761.5,357.2L761.5,360.3L761.5,363.5L761.6,366.6L761.6,369.7L761.7,372.9L761.7,376L761.8,379.2L761.8,382.3L761.9,385.5L762,388.6L762,391.8L762.1,394.9L762.2,398L762.3,401.2L762.4,404.3L762.5,407.5L762.6,410.6L762.7,413.8L762.8,416.9L763,420.1L763.1,423.2L763.3,426.3L763.4,429.5L763.6,432.6L763.8,435.8L764,438.9L764.2,442.1L764.4,445.2L764.6,448.4L764.8,451.5L765,454.6L765.3,457.8L765.6,460.9L765.8,464.1L766.1,467.2L766.4,470.4L766.7,473.5L767,476.7L767.4,479.8L767.7,482.9L768,486.1L768.4,489.2L768.7,492.4L769.1,495.5L769.5,498.7L769.9,501.8L770.3,505L770.7,508.1L771.1,511.2L771.5,514.4L771.9,517.5L772.3,520.7L772.7,523.8L773.2,527L773.6,530.1L774,533.2L774.5,536.4L774.9,539.5L775.3,542.7L775.7,545.8L776.1,549L776.6,552.1L777,555.3L777.4,558.4L777.8,561.5L778.2,564.7L778.5,567.8L778.9,571L779.3,574.1L779.6,577.3L780,580.4L780.3,583.6L780.6,586.7L780.9,589.8L781.2,593L781.5,596.1L781.7,599.3L782,602.4L782.2,605.6L782.4,608.7L782.7,611.9L782.8,615L783,618.1L783.2,621.3L783.3,624.4L783.5,627.6L783.6,630.7L783.7,633.9L783.8,637L783.9,640.2L784,643.3L784,646.4L784.1,649.6L784.1,652.7L784.1,655.9L784.1,659L784.2,662.2L784.2,665.3L784.1,668.5L784.1,671.6L784.1,674.7L784.1,677.9L784.1,681L784,684.2L784,687.3L783.9,690.5L783.9,693.6L783.8,696.7L783.8,699.9L783.7,703L783.7,706.2L783.6,709.3L783.6,712.5L783.5,715.6L783.4,718.8L783.4,721.9L783.3,725L783.3,728.2L783.2,731.3L783.2,734.5L783.1,737.6L783.1,740.8L783,743.9L783,747.1L782.9,750.2L782.9,753.3L782.9,756.5L782.8,759.6L782.8,762.8L782.7,765.9L782.7,769.1L782.7,772.2L782.6,775.4L782.6,778.5L782.5,781.6L782.5,784.8L782.4,787.9L782.4,791.1L782.3,794.2L782.3,797.4L782.2,800.5L782.2,803.7L782.1,806.8L782,809.9L782,813.1L781.9,816.2L781.8,819.4L781.7,822.5L781.6,825.7L781.5,828.8L781.3,832L781.2,835.1L781.1,838.2L780.9,841.4L780.8,844.5L780.6,847.7L780.5,850.8L780.3,854L780.1,857.1L779.9,860.2L779.7,863.4L779.5,866.5L779.2,869.7L779,872.8L778.8,876L778.5,879.1L778.2,882.3L778,885.4L777.7,888.5L777.4,891.7L777.1,894.8L776.8,898L776.5,901.1L776.1,904.3L775.8,907.4L775.5,910.6L775.1,913.7L761.2,913.7Z" fill="#F39B7F" fill-opacity="0.7" stroke="none"/>
<path d="M761.2,288L761.2,291.1L761.2,294.3L761.2,297.4L761.2,300.6L761.2,303.7L761.2,306.9L761.2,310L761.3,313.2L761.3,316.3L761.3,319.4L761.3,322.6L761.3,325.7L761.3,328.9L761.3,332L761.3,335.2L761.3,338.3L761.4,341.5L761.4,344.6L761.4,347.7L761.4,350.9L761.5,354L761.5,357.2L761.5,360.3L761.5,363.5L761.6,366.6L761.6,369.7L761.7,372.9L761.7,376L761.8,379.2L761.8,382.3L761.9,385.5L762,388.6L762,391.8L762.1,394.9L762.2,398L762.3,401.2L762.4,404.3L762.5,407.5L762.6,410.6L762.7,413.8L762.8,416.9L763,420.1L763.1,423.2L763.3,426.3L763.4,429.5L763.6,432.6L763.8,435.8L764,438.9L764.2,442.1L764.4,445.2L764.6,448.4L764.8,451.5L765,454.6L765.3,457.8L765.6,460.9L765.8,464.1L766.1,467.2L766.4,470.4L766.7,473.5L767,476.7L767.4,479.8L767.7,482.9L768,486.1L768.4,489.2L768.7,492.4L769.1,495.5L769.5,498.7L769.9,501.8L770.3,505L770.7,508.1L771.1,511.2L771.5,514.4L771.9,517.5L772.3,520.7L772.7,523.8L773.2,527L773.6,530.1L774,533.2L774.5,536.4L774.9,539.5L775.3,542.7L775.7,545.8L776.1,549L776.6,552.1L777,555.3L777.4,558.4L777.8,561.5L778.2,564.7L778.5,567.8L778.9,571L779.3,574.1L779.6,577.3L780,580.4L780.3,583.6L780.6,586.7L780.9,589.8L781.2,593L781.5,596.1L781.7,599.3L782,602.4L782.2,605.6L782.4,608.7L782.7,611.9L782.8,615L783,618.1L783.2,621.3L783.3,624.4L783.5,627.6L783.6,630.7L783.7,633.9L783.8,637L783.9,640.2L784,643.3L784,646.4L784.1,649.6L784.1,652.7L784.1,655.9L784.1,659L784.2,662.2L784.2,665.3L784.1,668.5L784.1,671.6L784.1,674.7L784.1,677.9L784.1,681L784,684.2L784,687.3L783.9,690.5L783.9,693.6L783.8,696.7L783.8,699.9L783.7,703L783.7,706.2L783.6,709.3L783.6,712.5L783.5,715.6L783.4,718.8L783.4,721.9L783.3,725L783.3,728.2L783.2,731.3L783.2,734.5L783.1,737.6L783.1,740.8L783,743.9L783,747.1L782.9,750.2L782.9,753.3L782.9,756.5L782.8,759.6L782.8,762.8L782.7,765.9L782.7,769.1L782.7,772.2L782.6,775.4L782.6,778.5L782.5,781.6L782.5,784.8L782.4,787.9L782.4,791.1L782.3,794.2L782.3,797.4L782.2,800.5L782.2,803.7L782.1,806.8L782,809.9L782,813.1L781.9,816.2L781.8,819.4L781.7,822.5L781.6,825.7L781.5,828.8L781.3,832L781.2,835.1L781.1,838.2L780.9,841.4L780.8,844.5L780.6,847.7L780.5,850.8L780.3,854L780.1,857.1L779.9,860.2L779.7,863.4L779.5,866.5L779.2,869.7L779,872.8L778.8,876L778.5,879.1L778.2,882.3L778,885.4L777.7,888.5L777.4,891.7L777.1,894.8L776.8,898L776.5,901.1L776.1,904.3L775.8,907.4L775.5,910.6L775.1,913.7" fill="none" stroke="#111" stroke-width="1.3" stroke-linejoin="round"/>
<path d="M761.2,288L762,288L762.1,291.1L762.2,294.3L762.3,297.4L762.4,300.6L762.5,303.7L762.7,306.9L762.8,310L762.9,313.2L763.1,316.3L763.3,319.4L763.5,322.6L763.6,325.7L763.8,328.9L764.1,332L764.3,335.2L764.5,338.3L764.8,341.5L765,344.6L765.3,347.7L765.6,350.9L765.9,354L766.2,357.2L766.5,360.3L766.8,363.5L767.1,366.6L767.5,369.7L767.8,372.9L768.2,376L768.5,379.2L768.9,382.3L769.2,385.5L769.6,388.6L770,391.8L770.3,394.9L770.7,398L771,401.2L771.4,404.3L771.7,407.5L772,410.6L772.3,413.8L772.7,416.9L772.9,420.1L773.2,423.2L773.5,426.3L773.8,429.5L774,432.6L774.2,435.8L774.4,438.9L774.6,442.1L774.8,445.2L774.9,448.4L775,451.5L775.2,454.6L775.3,457.8L775.3,460.9L775.4,464.1L775.4,467.2L775.5,470.4L775.5,473.5L775.5,476.7L775.5,479.8L775.5,482.9L775.4,486.1L775.4,489.2L775.4,492.4L775.3,495.5L775.3,498.7L775.2,501.8L775.2,505L775.2,508.1L775.1,511.2L775.1,514.4L775.1,517.5L775.1,520.7L775.1,523.8L775.1,527L775.2,530.1L775.2,533.2L775.3,536.4L775.4,539.5L775.5,542.7L775.7,545.8L775.8,549L776,552.1L776.2,555.3L776.4,558.4L776.7,561.5L776.9,564.7L777.2,567.8L777.5,571L777.8,574.1L778.2,577.3L778.6,580.4L778.9,583.6L779.4,586.7L779.8,589.8L780.2,593L780.7,596.1L781.1,599.3L781.6,602.4L782.1,605.6L782.6,608.7L783.1,611.9L783.6,615L784.1,618.1L784.6,621.3L785.2,624.4L785.7,627.6L786.2,630.7L786.7,633.9L787.2,637L787.7,640.2L788.2,643.3L788.7,646.4L789.2,649.6L789.6,652.7L790.1,655.9L790.5,659L790.9,662.2L791.3,665.3L791.6,668.5L792,671.6L792.3,674.7L792.5,677.9L792.8,681L793,684.2L793.2,687.3L793.3,690.5L793.4,693.6L793.5,696.7L793.5,699.9L793.5,703L793.5,706.2L793.4,709.3L793.3,712.5L793.1,715.6L792.9,718.8L792.6,721.9L792.3,725L792,728.2L791.6,731.3L791.2,734.5L790.7,737.6L790.2,740.8L789.7,743.9L789.1,747.1L788.5,750.2L787.9,753.3L787.3,756.5L786.6,759.6L785.9,762.8L785.2,765.9L784.4,769.1L783.7,772.2L782.9,775.4L782.1,778.5L781.3,781.6L780.6,784.8L779.8,787.9L779,791.1L778.2,794.2L777.4,797.4L776.6,800.5L775.9,803.7L775.1,806.8L774.4,809.9L773.7,813.1L773,816.2L772.3,819.4L771.6,822.5L771,825.7L770.4,828.8L769.8,832L769.2,835.1L768.7,838.2L768.2,841.4L767.7,844.5L767.2,847.7L766.7,850.8L766.3,854L765.9,857.1L765.5,860.2L765.2,863.4L764.8,866.5L764.5,869.7L764.2,872.8L764,876L763.7,879.1L763.5,882.3L763.3,885.4L763.1,888.5L762.9,891.7L762.7,894.8L762.6,898L762.4,901.1L762.3,904.3L762.2,907.4L762.1,910.6L762,913.7L761.2,913.7Z" fill="#8491B4" fill-opacity="0.7" stroke="none"/>
<path d="M762,288L762.1,291.1L762.2,294.3L762.3,297.4L762.4,300.6L762.5,303.7L762.7,306.9L762.8,310L762.9,313.2L763.1,316.3L763.3,319.4L763.5,322.6L763.6,325.7L763.8,328.9L764.1,332L764.3,335.2L764.5,338.3L764.8,341.5L765,344.6L765.3,347.7L765.6,350.9L765.9,354L766.2,357.2L766.5,360.3L766.8,363.5L767.1,366.6L767.5,369.7L767.8,372.9L768.2,376L768.5,379.2L768.9,382.3L769.2,385.5L769.6,388.6L770,391.8L770.3,394.9L770.7,398L771,401.2L771.4,404.3L771.7,407.5L772,410.6L772.3,413.8L772.7,416.9L772.9,420.1L773.2,423.2L773.5,426.3L773.8,429.5L774,432.6L774.2,435.8L774.4,438.9L774.6,442.1L774.8,445.2L774.9,448.4L775,451.5L775.2,454.6L775.3,457.8L775.3,460.9L775.4,464.1L775.4,467.2L775.5,470.4L775.5,473.5L775.5,476.7L775.5,479.8L775.5,482.9L775.4,486.1L775.4,489.2L775.4,492.4L775.3,495.5L775.3,498.7L775.2,501.8L775.2,505L775.2,508.1L775.1,511.2L775.1,514.4L775.1,517.5L775.1,520.7L775.1,523.8L775.1,527L775.2,530.1L775.2,533.2L775.3,536.4L775.4,539.5L775.5,542.7L775.7,545.8L775.8,549L776,552.1L776.2,555.3L776.4,558.4L776.7,561.5L776.9,564.7L777.2,567.8L777.5,571L777.8,574.1L778.2,577.3L778.6,580.4L778.9,583.6L779.4,586.7L779.8,589.8L780.2,593L780.7,596.1L781.1,599.3L781.6,602.4L782.1,605.6L782.6,608.7L783.1,611.9L783.6,615L784.1,618.1L784.6,621.3L785.2,624.4L785.7,627.6L786.2,630.7L786.7,633.9L787.2,637L787.7,640.2L788.2,643.3L788.7,646.4L789.2,649.6L789.6,652.7L790.1,655.9L790.5,659L790.9,662.2L791.3,665.3L791.6,668.5L792,671.6L792.3,674.7L792.5,677.9L792.8,681L793,684.2L793.2,687.3L793.3,690.5L793.4,693.6L793.5,696.7L793.5,699.9L793.5,703L793.5,706.2L793.4,709.3L793.3,712.5L793.1,715.6L792.9,718.8L792.6,721.9L792.3,725L792,728.2L791.6,731.3L791.2,734.5L790.7,737.6L790.2,740.8L789.7,743.9L789.1,747.1L788.5,750.2L787.9,753.3L787.3,756.5L786.6,759.6L785.9,762.8L785.2,765.9L784.4,769.1L783.7,772.2L782.9,775.4L782.1,778.5L781.3,781.6L780.6,784.8L779.8,787.9L779,791.1L778.2,794.2L777.4,797.4L776.6,800.5L775.9,803.7L775.1,806.8L774.4,809.9L773.7,813.1L773,816.2L772.3,819.4L771.6,822.5L771,825.7L770.4,828.8L769.8,832L769.2,835.1L768.7,838.2L768.2,841.4L767.7,844.5L767.2,847.7L766.7,850.8L766.3,854L765.9,857.1L765.5,860.2L765.2,863.4L764.8,866.5L764.5,869.7L764.2,872.8L764,876L763.7,879.1L763.5,882.3L763.3,885.4L763.1,888.5L762.9,891.7L762.7,894.8L762.6,898L762.4,901.1L762.3,904.3L762.2,907.4L762.1,910.6L762,913.7" fill="none" stroke="#111" stroke-width="1.3" stroke-linejoin="round"/>
<path d="M761.2,288L761.2,288L761.2,291.1L761.2,294.3L761.2,297.4L761.2,300.6L761.2,303.7L761.2,306.9L761.2,310L761.2,313.2L761.2,316.3L761.2,319.4L761.2,322.6L761.2,325.7L761.2,328.9L761.2,332L761.2,335.2L761.2,338.3L761.2,341.5L761.2,344.6L761.2,347.7L761.2,350.9L761.2,354L761.2,357.2L761.2,360.3L761.2,363.5L761.2,366.6L761.2,369.7L761.2,372.9L761.2,376L761.2,379.2L761.2,382.3L761.2,385.5L761.2,388.6L761.2,391.8L761.2,394.9L761.2,398L761.2,401.2L761.2,404.3L761.2,407.5L761.2,410.6L761.2,413.8L761.2,416.9L761.2,420.1L761.2,423.2L761.2,426.3L761.2,429.5L761.2,432.6L761.2,435.8L761.2,438.9L761.2,442.1L761.2,445.2L761.2,448.4L761.2,451.5L761.2,454.6L761.2,457.8L761.2,460.9L761.2,464.1L761.2,467.2L761.2,470.4L761.2,473.5L761.2,476.7L761.2,479.8L761.3,482.9L761.3,486.1L761.3,489.2L761.4,492.4L761.4,495.5L761.5,498.7L761.6,501.8L761.7,505L761.8,508.1L762,511.2L762.2,514.4L762.5,517.5L762.8,520.7L763.2,523.8L763.6,527L764.2,530.1L764.8,533.2L765.6,536.4L766.5,539.5L767.5,542.7L768.6,545.8L769.9,549L771.3,552.1L772.9,555.3L774.6,558.4L776.5,561.5L778.6,564.7L780.8,567.8L783.1,571L785.5,574.1L788,577.3L790.6,580.4L793.2,583.6L795.8,586.7L798.4,589.8L800.9,593L803.3,596.1L805.6,599.3L807.8,602.4L809.7,605.6L811.5,608.7L813,611.9L814.3,615L815.4,618.1L816.2,621.3L816.8,624.4L817.2,627.6L817.4,630.7L817.4,633.9L817.3,637L817,640.2L816.6,643.3L816.2,646.4L815.7,649.6L815.2,652.7L814.7,655.9L814.2,659L813.8,662.2L813.5,665.3L813.2,668.5L812.9,671.6L812.7,674.7L812.6,677.9L812.4,681L812.3,684.2L812.1,687.3L812,690.5L811.7,693.6L811.5,696.7L811.1,699.9L810.6,703L809.9,706.2L809.2,709.3L808.3,712.5L807.2,715.6L806,718.8L804.6,721.9L803.1,725L801.4,728.2L799.7,731.3L797.8,734.5L795.8,737.6L793.8,740.8L791.7,743.9L789.6,747.1L787.5,750.2L785.4,753.3L783.3,756.5L781.3,759.6L779.3,762.8L777.5,765.9L775.7,769.1L774,772.2L772.5,775.4L771.1,778.5L769.8,781.6L768.6,784.8L767.5,787.9L766.6,791.1L765.8,794.2L765,797.4L764.4,800.5L763.8,803.7L763.4,806.8L763,809.9L762.6,813.1L762.3,816.2L762.1,819.4L761.9,822.5L761.8,825.7L761.6,828.8L761.5,832L761.5,835.1L761.4,838.2L761.4,841.4L761.3,844.5L761.3,847.7L761.3,850.8L761.2,854L761.2,857.1L761.2,860.2L761.2,863.4L761.2,866.5L761.2,869.7L761.2,872.8L761.2,876L761.2,879.1L761.2,882.3L761.2,885.4L761.2,888.5L761.2,891.7L761.2,894.8L761.2,898L761.2,901.1L761.2,904.3L761.2,907.4L761.2,910.6L761.2,913.7L761.2,913.7Z" fill="#91D1C2" fill-opacity="0.7" stroke="none"/>
<path d="M761.2,288L761.2,291.1L761.2,294.3L761.2,297.4L761.2,300.6L761.2,303.7L761.2,306.9L761.2,310L761.2,313.2L761.2,316.3L761.2,319.4L761.2,322.6L761.2,325.7L761.2,328.9L761.2,332L761.2,335.2L761.2,338.3L761.2,341.5L761.2,344.6L761.2,347.7L761.2,350.9L761.2,354L761.2,357.2L761.2,360.3L761.2,363.5L761.2,366.6L761.2,369.7L761.2,372.9L761.2,376L761.2,379.2L761.2,382.3L761.2,385.5L761.2,388.6L761.2,391.8L761.2,394.9L761.2,398L761.2,401.2L761.2,404.3L761.2,407.5L761.2,410.6L761.2,413.8L761.2,416.9L761.2,420.1L761.2,423.2L761.2,426.3L761.2,429.5L761.2,432.6L761.2,435.8L761.2,438.9L761.2,442.1L761.2,445.2L761.2,448.4L761.2,451.5L761.2,454.6L761.2,457.8L761.2,460.9L761.2,464.1L761.2,467.2L761.2,470.4L761.2,473.5L761.2,476.7L761.2,479.8L761.3,482.9L761.3,486.1L761.3,489.2L761.4,492.4L761.4,495.5L761.5,498.7L761.6,501.8L761.7,505L761.8,508.1L762,511.2L762.2,514.4L762.5,517.5L762.8,520.7L763.2,523.8L763.6,527L764.2,530.1L764.8,533.2L765.6,536.4L766.5,539.5L767.5,542.7L768.6,545.8L769.9,549L771.3,552.1L772.9,555.3L774.6,558.4L776.5,561.5L778.6,564.7L780.8,567.8L783.1,571L785.5,574.1L788,577.3L790.6,580.4L793.2,583.6L795.8,586.7L798.4,589.8L800.9,593L803.3,596.1L805.6,599.3L807.8,602.4L809.7,605.6L811.5,608.7L813,611.9L814.3,615L815.4,618.1L816.2,621.3L816.8,624.4L817.2,627.6L817.4,630.7L817.4,633.9L817.3,637L817,640.2L816.6,643.3L816.2,646.4L815.7,649.6L815.2,652.7L814.7,655.9L814.2,659L813.8,662.2L813.5,665.3L813.2,668.5L812.9,671.6L812.7,674.7L812.6,677.9L812.4,681L812.3,684.2L812.1,687.3L812,690.5L811.7,693.6L811.5,696.7L811.1,699.9L810.6,703L809.9,706.2L809.2,709.3L808.3,712.5L807.2,715.6L806,718.8L804.6,721.9L803.1,725L801.4,728.2L799.7,731.3L797.8,734.5L795.8,737.6L793.8,740.8L791.7,743.9L789.6,747.1L787.5,750.2L785.4,753.3L783.3,756.5L781.3,759.6L779.3,762.8L777.5,765.9L775.7,769.1L774,772.2L772.5,775.4L771.1,778.5L769.8,781.6L768.6,784.8L767.5,787.9L766.6,791.1L765.8,794.2L765,797.4L764.4,800.5L763.8,803.7L763.4,806.8L763,809.9L762.6,813.1L762.3,816.2L762.1,819.4L761.9,822.5L761.8,825.7L761.6,828.8L761.5,832L761.5,835.1L761.4,838.2L761.4,841.4L761.3,844.5L761.3,847.7L761.3,850.8L761.2,854L761.2,857.1L761.2,860.2L761.2,863.4L761.2,866.5L761.2,869.7L761.2,872.8L761.2,876L761.2,879.1L761.2,882.3L761.2,885.4L761.2,888.5L761.2,891.7L761.2,894.8L761.2,898L761.2,901.1L761.2,904.3L761.2,907.4L761.2,910.6L761.2,913.7" fill="none" stroke="#111" stroke-width="1.3" stroke-linejoin="round"/>
<path d="M761.2,288L761.2,288L761.2,291.1L761.2,294.3L761.2,297.4L761.2,300.6L761.2,303.7L761.2,306.9L761.2,310L761.2,313.2L761.2,316.3L761.2,319.4L761.2,322.6L761.2,325.7L761.2,328.9L761.2,332L761.2,335.2L761.2,338.3L761.3,341.5L761.3,344.6L761.4,347.7L761.6,350.9L761.8,354L762.1,357.2L762.6,360.3L763.3,363.5L764.2,366.6L765.3,369.7L766.9,372.9L768.9,376L771.3,379.2L774.1,382.3L777.4,385.5L781.1,388.6L785,391.8L789.1,394.9L793.2,398L797,401.2L800.4,404.3L803.2,407.5L805.1,410.6L806.1,413.8L806.1,416.9L805.1,420.1L803.1,423.2L800.4,426.3L796.9,429.5L793.1,432.6L789,435.8L784.9,438.9L781,442.1L777.3,445.2L774,448.4L771.2,451.5L768.8,454.6L766.9,457.8L765.3,460.9L764.1,464.1L763.3,467.2L762.6,470.4L762.2,473.5L762,476.7L761.9,479.8L762,482.9L762.2,486.1L762.7,489.2L763.4,492.4L764.4,495.5L766,498.7L768.1,501.8L770.9,505L774.6,508.1L779.4,511.2L785.2,514.4L792.4,517.5L800.7,520.7L810.3,523.8L820.8,527L832.1,530.1L843.8,533.2L855.2,536.4L866.1,539.5L875.6,542.7L883.5,545.8L889,549L892,552.1L892.3,555.3L889.7,558.4L884.5,561.5L877,564.7L867.7,567.8L857,571L845.6,574.1L834,577.3L822.6,580.4L811.9,583.6L802.2,586.7L793.6,589.8L786.3,593L780.2,596.1L775.3,599.3L771.4,602.4L768.4,605.6L766.2,608.7L764.6,611.9L763.5,615L762.7,618.1L762.1,621.3L761.8,624.4L761.6,627.6L761.4,630.7L761.3,633.9L761.3,637L761.2,640.2L761.2,643.3L761.2,646.4L761.2,649.6L761.2,652.7L761.2,655.9L761.2,659L761.2,662.2L761.2,665.3L761.2,668.5L761.2,671.6L761.2,674.7L761.2,677.9L761.2,681L761.2,684.2L761.2,687.3L761.2,690.5L761.2,693.6L761.2,696.7L761.2,699.9L761.2,703L761.2,706.2L761.2,709.3L761.2,712.5L761.2,715.6L761.2,718.8L761.2,721.9L761.2,725L761.2,728.2L761.2,731.3L761.2,734.5L761.2,737.6L761.2,740.8L761.2,743.9L761.2,747.1L761.2,750.2L761.2,753.3L761.2,756.5L761.2,759.6L761.2,762.8L761.2,765.9L761.2,769.1L761.2,772.2L761.2,775.4L761.2,778.5L761.2,781.6L761.2,784.8L761.2,787.9L761.2,791.1L761.2,794.2L761.2,797.4L761.2,800.5L761.2,803.7L761.2,806.8L761.2,809.9L761.2,813.1L761.2,816.2L761.2,819.4L761.2,822.5L761.2,825.7L761.2,828.8L761.2,832L761.2,835.1L761.2,838.2L761.2,841.4L761.2,844.5L761.2,847.7L761.2,850.8L761.2,854L761.2,857.1L761.2,860.2L761.2,863.4L761.2,866.5L761.2,869.7L761.2,872.8L761.2,876L761.2,879.1L761.2,882.3L761.2,885.4L761.2,888.5L761.2,891.7L761.2,894.8L761.2,898L761.2,901.1L761.2,904.3L761.2,907.4L761.2,910.6L761.2,913.7L761.2,913.7Z" fill="#DC0000" fill-opacity="0.7" stroke="none"/>
<path d="M761.2,288L761.2,291.1L761.2,294.3L761.2,297.4L761.2,300.6L761.2,303.7L761.2,306.9L761.2,310L761.2,313.2L761.2,316.3L761.2,319.4L761.2,322.6L761.2,325.7L761.2,328.9L761.2,332L761.2,335.2L761.2,338.3L761.3,341.5L761.3,344.6L761.4,347.7L761.6,350.9L761.8,354L762.1,357.2L762.6,360.3L763.3,363.5L764.2,366.6L765.3,369.7L766.9,372.9L768.9,376L771.3,379.2L774.1,382.3L777.4,385.5L781.1,388.6L785,391.8L789.1,394.9L793.2,398L797,401.2L800.4,404.3L803.2,407.5L805.1,410.6L806.1,413.8L806.1,416.9L805.1,420.1L803.1,423.2L800.4,426.3L796.9,429.5L793.1,432.6L789,435.8L784.9,438.9L781,442.1L777.3,445.2L774,448.4L771.2,451.5L768.8,454.6L766.9,457.8L765.3,460.9L764.1,464.1L763.3,467.2L762.6,470.4L762.2,473.5L762,476.7L761.9,479.8L762,482.9L762.2,486.1L762.7,489.2L763.4,492.4L764.4,495.5L766,498.7L768.1,501.8L770.9,505L774.6,508.1L779.4,511.2L785.2,514.4L792.4,517.5L800.7,520.7L810.3,523.8L820.8,527L832.1,530.1L843.8,533.2L855.2,536.4L866.1,539.5L875.6,542.7L883.5,545.8L889,549L892,552.1L892.3,555.3L889.7,558.4L884.5,561.5L877,564.7L867.7,567.8L857,571L845.6,574.1L834,577.3L822.6,580.4L811.9,583.6L802.2,586.7L793.6,589.8L786.3,593L780.2,596.1L775.3,599.3L771.4,602.4L768.4,605.6L766.2,608.7L764.6,611.9L763.5,615L762.7,618.1L762.1,621.3L761.8,624.4L761.6,627.6L761.4,630.7L761.3,633.9L761.3,637L761.2,640.2L761.2,643.3L761.2,646.4L761.2,649.6L761.2,652.7L761.2,655.9L761.2,659L761.2,662.2L761.2,665.3L761.2,668.5L761.2,671.6L761.2,674.7L761.2,677.9L761.2,681L761.2,684.2L761.2,687.3L761.2,690.5L761.2,693.6L761.2,696.7L761.2,699.9L761.2,703L761.2,706.2L761.2,709.3L761.2,712.5L761.2,715.6L761.2,718.8L761.2,721.9L761.2,725L761.2,728.2L761.2,731.3L761.2,734.5L761.2,737.6L761.2,740.8L761.2,743.9L761.2,747.1L761.2,750.2L761.2,753.3L761.2,756.5L761.2,759.6L761.2,762.8L761.2,765.9L761.2,769.1L761.2,772.2L761.2,775.4L761.2,778.5L761.2,781.6L761.2,784.8L761.2,787.9L761.2,791.1L761.2,794.2L761.2,797.4L761.2,800.5L761.2,803.7L761.2,806.8L761.2,809.9L761.2,813.1L761.2,816.2L761.2,819.4L761.2,822.5L761.2,825.7L761.2,828.8L761.2,832L761.2,835.1L761.2,838.2L761.2,841.4L761.2,844.5L761.2,847.7L761.2,850.8L761.2,854L761.2,857.1L761.2,860.2L761.2,863.4L761.2,866.5L761.2,869.7L761.2,872.8L761.2,876L761.2,879.1L761.2,882.3L761.2,885.4L761.2,888.5L761.2,891.7L761.2,894.8L761.2,898L761.2,901.1L761.2,904.3L761.2,907.4L761.2,910.6L761.2,913.7" fill="none" stroke="#111" stroke-width="1.3" stroke-linejoin="round"/>
<path d="M761.2,288L761.2,288L761.2,291.1L761.2,294.3L761.2,297.4L761.2,300.6L761.2,303.7L761.2,306.9L761.2,310L761.2,313.2L761.2,316.3L761.2,319.4L761.2,322.6L761.3,325.7L761.3,328.9L761.3,332L761.4,335.2L761.4,338.3L761.5,341.5L761.6,344.6L761.7,347.7L761.8,350.9L761.9,354L762.1,357.2L762.4,360.3L762.7,363.5L763,366.6L763.4,369.7L763.9,372.9L764.5,376L765.2,379.2L765.9,382.3L766.8,385.5L767.8,388.6L768.9,391.8L770.1,394.9L771.4,398L772.9,401.2L774.4,404.3L776.1,407.5L777.9,410.6L779.8,413.8L781.7,416.9L783.7,420.1L785.8,423.2L787.9,426.3L789.9,429.5L792,432.6L794,435.8L796,438.9L797.9,442.1L799.7,445.2L801.4,448.4L803,451.5L804.5,454.6L805.9,457.8L807.1,460.9L808.1,464.1L809.1,467.2L809.9,470.4L810.6,473.5L811.1,476.7L811.5,479.8L811.9,482.9L812.1,486.1L812.3,489.2L812.4,492.4L812.4,495.5L812.4,498.7L812.4,501.8L812.3,505L812.2,508.1L812.1,511.2L811.9,514.4L811.8,517.5L811.6,520.7L811.4,523.8L811.3,527L811.1,530.1L810.9,533.2L810.7,536.4L810.4,539.5L810.2,542.7L809.9,545.8L809.5,549L809.1,552.1L808.7,555.3L808.1,558.4L807.5,561.5L806.8,564.7L806,567.8L805.1,571L804.1,574.1L803,577.3L801.8,580.4L800.4,583.6L799,586.7L797.5,589.8L795.8,593L794.1,596.1L792.3,599.3L790.5,602.4L788.6,605.6L786.7,608.7L784.7,611.9L782.8,615L781,618.1L779.1,621.3L777.4,624.4L775.7,627.6L774.1,630.7L772.6,633.9L771.2,637L769.9,640.2L768.7,643.3L767.7,646.4L766.7,649.6L765.9,652.7L765.1,655.9L764.5,659L763.9,662.2L763.4,665.3L763,668.5L762.7,671.6L762.4,674.7L762.1,677.9L761.9,681L761.8,684.2L761.7,687.3L761.6,690.5L761.5,693.6L761.4,696.7L761.4,699.9L761.3,703L761.3,706.2L761.3,709.3L761.2,712.5L761.2,715.6L761.2,718.8L761.2,721.9L761.2,725L761.2,728.2L761.2,731.3L761.2,734.5L761.2,737.6L761.2,740.8L761.2,743.9L761.2,747.1L761.2,750.2L761.2,753.3L761.2,756.5L761.2,759.6L761.2,762.8L761.2,765.9L761.2,769.1L761.2,772.2L761.2,775.4L761.2,778.5L761.2,781.6L761.2,784.8L761.2,787.9L761.2,791.1L761.2,794.2L761.2,797.4L761.2,800.5L761.2,803.7L761.2,806.8L761.2,809.9L761.2,813.1L761.2,816.2L761.2,819.4L761.2,822.5L761.2,825.7L761.2,828.8L761.2,832L761.2,835.1L761.2,838.2L761.2,841.4L761.2,844.5L761.2,847.7L761.2,850.8L761.2,854L761.2,857.1L761.2,860.2L761.2,863.4L761.2,866.5L761.2,869.7L761.2,872.8L761.2,876L761.2,879.1L761.2,882.3L761.2,885.4L761.2,888.5L761.2,891.7L761.2,894.8L761.2,898L761.2,901.1L761.2,904.3L761.2,907.4L761.2,910.6L761.2,913.7L761.2,913.7Z" fill="#7E6148" fill-opacity="0.7" stroke="none"/>
<path d="M761.2,288L761.2,291.1L761.2,294.3L761.2,297.4L761.2,300.6L761.2,303.7L761.2,306.9L761.2,310L761.2,313.2L761.2,316.3L761.2,319.4L761.2,322.6L761.3,325.7L761.3,328.9L761.3,332L761.4,335.2L761.4,338.3L761.5,341.5L761.6,344.6L761.7,347.7L761.8,350.9L761.9,354L762.1,357.2L762.4,360.3L762.7,363.5L763,366.6L763.4,369.7L763.9,372.9L764.5,376L765.2,379.2L765.9,382.3L766.8,385.5L767.8,388.6L768.9,391.8L770.1,394.9L771.4,398L772.9,401.2L774.4,404.3L776.1,407.5L777.9,410.6L779.8,413.8L781.7,416.9L783.7,420.1L785.8,423.2L787.9,426.3L789.9,429.5L792,432.6L794,435.8L796,438.9L797.9,442.1L799.7,445.2L801.4,448.4L803,451.5L804.5,454.6L805.9,457.8L807.1,460.9L808.1,464.1L809.1,467.2L809.9,470.4L810.6,473.5L811.1,476.7L811.5,479.8L811.9,482.9L812.1,486.1L812.3,489.2L812.4,492.4L812.4,495.5L812.4,498.7L812.4,501.8L812.3,505L812.2,508.1L812.1,511.2L811.9,514.4L811.8,517.5L811.6,520.7L811.4,523.8L811.3,527L811.1,530.1L810.9,533.2L810.7,536.4L810.4,539.5L810.2,542.7L809.9,545.8L809.5,549L809.1,552.1L808.7,555.3L808.1,558.4L807.5,561.5L806.8,564.7L806,567.8L805.1,571L804.1,574.1L803,577.3L801.8,580.4L800.4,583.6L799,586.7L797.5,589.8L795.8,593L794.1,596.1L792.3,599.3L790.5,602.4L788.6,605.6L786.7,608.7L784.7,611.9L782.8,615L781,618.1L779.1,621.3L777.4,624.4L775.7,627.6L774.1,630.7L772.6,633.9L771.2,637L769.9,640.2L768.7,643.3L767.7,646.4L766.7,649.6L765.9,652.7L765.1,655.9L764.5,659L763.9,662.2L763.4,665.3L763,668.5L762.7,671.6L762.4,674.7L762.1,677.9L761.9,681L761.8,684.2L761.7,687.3L761.6,690.5L761.5,693.6L761.4,696.7L761.4,699.9L761.3,703L761.3,706.2L761.3,709.3L761.2,712.5L761.2,715.6L761.2,718.8L761.2,721.9L761.2,725L761.2,728.2L761.2,731.3L761.2,734.5L761.2,737.6L761.2,740.8L761.2,743.9L761.2,747.1L761.2,750.2L761.2,753.3L761.2,756.5L761.2,759.6L761.2,762.8L761.2,765.9L761.2,769.1L761.2,772.2L761.2,775.4L761.2,778.5L761.2,781.6L761.2,784.8L761.2,787.9L761.2,791.1L761.2,794.2L761.2,797.4L761.2,800.5L761.2,803.7L761.2,806.8L761.2,809.9L761.2,813.1L761.2,816.2L761.2,819.4L761.2,822.5L761.2,825.7L761.2,828.8L761.2,832L761.2,835.1L761.2,838.2L761.2,841.4L761.2,844.5L761.2,847.7L761.2,850.8L761.2,854L761.2,857.1L761.2,860.2L761.2,863.4L761.2,866.5L761.2,869.7L761.2,872.8L761.2,876L761.2,879.1L761.2,882.3L761.2,885.4L761.2,888.5L761.2,891.7L761.2,894.8L761.2,898L761.2,901.1L761.2,904.3L761.2,907.4L761.2,910.6L761.2,913.7" fill="none" stroke="#111" stroke-width="1.3" stroke-linejoin="round"/>
<path d="M761.2,288L761.2,288L761.2,291.1L761.2,294.3L761.2,297.4L761.2,300.6L761.2,303.7L761.2,306.9L761.2,310L761.2,313.2L761.2,316.3L761.2,319.4L761.2,322.6L761.2,325.7L761.2,328.9L761.2,332L761.2,335.2L761.2,338.3L761.2,341.5L761.2,344.6L761.2,347.7L761.2,350.9L761.2,354L761.2,357.2L761.2,360.3L761.2,363.5L761.2,366.6L761.2,369.7L761.2,372.9L761.2,376L761.2,379.2L761.2,382.3L761.2,385.5L761.2,388.6L761.2,391.8L761.2,394.9L761.2,398L761.2,401.2L761.2,404.3L761.2,407.5L761.2,410.6L761.2,413.8L761.2,416.9L761.2,420.1L761.2,423.2L761.2,426.3L761.2,429.5L761.2,432.6L761.2,435.8L761.2,438.9L761.2,442.1L761.2,445.2L761.2,448.4L761.2,451.5L761.2,454.6L761.2,457.8L761.2,460.9L761.2,464.1L761.2,467.2L761.2,470.4L761.2,473.5L761.2,476.7L761.2,479.8L761.2,482.9L761.2,486.1L761.2,489.2L761.2,492.4L761.2,495.5L761.2,498.7L761.2,501.8L761.2,505L761.2,508.1L761.2,511.2L761.2,514.4L761.2,517.5L761.2,520.7L761.2,523.8L761.2,527L761.2,530.1L761.2,533.2L761.2,536.4L761.2,539.5L761.2,542.7L761.2,545.8L761.2,549L761.2,552.1L761.2,555.3L761.2,558.4L761.2,561.5L761.2,564.7L761.2,567.8L761.2,571L761.2,574.1L761.2,577.3L761.2,580.4L761.2,583.6L761.2,586.7L761.2,589.8L761.2,593L761.2,596.1L761.2,599.3L761.2,602.4L761.2,605.6L761.2,608.7L761.2,611.9L761.2,615L761.2,618.1L761.2,621.3L761.3,624.4L761.3,627.6L761.3,630.7L761.4,633.9L761.5,637L761.6,640.2L761.7,643.3L761.9,646.4L762.2,649.6L762.5,652.7L762.9,655.9L763.4,659L764,662.2L764.8,665.3L765.7,668.5L766.9,671.6L768.2,674.7L769.8,677.9L771.7,681L773.8,684.2L776.2,687.3L778.9,690.5L781.9,693.6L785.2,696.7L788.7,699.9L792.5,703L796.4,706.2L800.5,709.3L804.6,712.5L808.8,715.6L812.8,718.8L816.8,721.9L820.5,725L824,728.2L827.2,731.3L829.9,734.5L832.2,737.6L834,740.8L835.3,743.9L836.2,747.1L836.4,750.2L836.2,753.3L835.5,756.5L834.4,759.6L832.8,762.8L830.8,765.9L828.5,769.1L825.9,772.2L823.1,775.4L820,778.5L816.9,781.6L813.6,784.8L810.3,787.9L807,791.1L803.7,794.2L800.6,797.4L797.6,800.5L794.8,803.7L792.2,806.8L789.9,809.9L788,813.1L786.3,816.2L785,819.4L784,822.5L783.4,825.7L783.1,828.8L783.2,832L783.5,835.1L784.1,838.2L784.9,841.4L785.9,844.5L786.9,847.7L788,850.8L789,854L790,857.1L790.8,860.2L791.5,863.4L791.9,866.5L792.1,869.7L792,872.8L791.6,876L790.9,879.1L790,882.3L788.8,885.4L787.4,888.5L785.8,891.7L784.1,894.8L782.3,898L780.4,901.1L778.5,904.3L776.7,907.4L774.9,910.6L773.2,913.7L761.2,913.7Z" fill="#B09C85" fill-opacity="0.7" stroke="none"/>
<path d="M761.2,288L761.2,291.1L761.2,294.3L761.2,297.4L761.2,300.6L761.2,303.7L761.2,306.9L761.2,310L761.2,313.2L761.2,316.3L761.2,319.4L761.2,322.6L761.2,325.7L761.2,328.9L761.2,332L761.2,335.2L761.2,338.3L761.2,341.5L761.2,344.6L761.2,347.7L761.2,350.9L761.2,354L761.2,357.2L761.2,360.3L761.2,363.5L761.2,366.6L761.2,369.7L761.2,372.9L761.2,376L761.2,379.2L761.2,382.3L761.2,385.5L761.2,388.6L761.2,391.8L761.2,394.9L761.2,398L761.2,401.2L761.2,404.3L761.2,407.5L761.2,410.6L761.2,413.8L761.2,416.9L761.2,420.1L761.2,423.2L761.2,426.3L761.2,429.5L761.2,432.6L761.2,435.8L761.2,438.9L761.2,442.1L761.2,445.2L761.2,448.4L761.2,451.5L761.2,454.6L761.2,457.8L761.2,460.9L761.2,464.1L761.2,467.2L761.2,470.4L761.2,473.5L761.2,476.7L761.2,479.8L761.2,482.9L761.2,486.1L761.2,489.2L761.2,492.4L761.2,495.5L761.2,498.7L761.2,501.8L761.2,505L761.2,508.1L761.2,511.2L761.2,514.4L761.2,517.5L761.2,520.7L761.2,523.8L761.2,527L761.2,530.1L761.2,533.2L761.2,536.4L761.2,539.5L761.2,542.7L761.2,545.8L761.2,549L761.2,552.1L761.2,555.3L761.2,558.4L761.2,561.5L761.2,564.7L761.2,567.8L761.2,571L761.2,574.1L761.2,577.3L761.2,580.4L761.2,583.6L761.2,586.7L761.2,589.8L761.2,593L761.2,596.1L761.2,599.3L761.2,602.4L761.2,605.6L761.2,608.7L761.2,611.9L761.2,615L761.2,618.1L761.2,621.3L761.3,624.4L761.3,627.6L761.3,630.7L761.4,633.9L761.5,637L761.6,640.2L761.7,643.3L761.9,646.4L762.2,649.6L762.5,652.7L762.9,655.9L763.4,659L764,662.2L764.8,665.3L765.7,668.5L766.9,671.6L768.2,674.7L769.8,677.9L771.7,681L773.8,684.2L776.2,687.3L778.9,690.5L781.9,693.6L785.2,696.7L788.7,699.9L792.5,703L796.4,706.2L800.5,709.3L804.6,712.5L808.8,715.6L812.8,718.8L816.8,721.9L820.5,725L824,728.2L827.2,731.3L829.9,734.5L832.2,737.6L834,740.8L835.3,743.9L836.2,747.1L836.4,750.2L836.2,753.3L835.5,756.5L834.4,759.6L832.8,762.8L830.8,765.9L828.5,769.1L825.9,772.2L823.1,775.4L820,778.5L816.9,781.6L813.6,784.8L810.3,787.9L807,791.1L803.7,794.2L800.6,797.4L797.6,800.5L794.8,803.7L792.2,806.8L789.9,809.9L788,813.1L786.3,816.2L785,819.4L784,822.5L783.4,825.7L783.1,828.8L783.2,832L783.5,835.1L784.1,838.2L784.9,841.4L785.9,844.5L786.9,847.7L788,850.8L789,854L790,857.1L790.8,860.2L791.5,863.4L791.9,866.5L792.1,869.7L792,872.8L791.6,876L790.9,879.1L790,882.3L788.8,885.4L787.4,888.5L785.8,891.7L784.1,894.8L782.3,898L780.4,901.1L778.5,904.3L776.7,907.4L774.9,910.6L773.2,913.7" fill="none" stroke="#111" stroke-width="1.3" stroke-linejoin="round"/>
</g>
<rect x="106.3" y="288.1" width="654.6" height="625.6" fill="#fff"/>
<g id="ptsA" stroke-width="1.5">
<circle cx="135.6" cy="461.6" r="9.1" fill="#E64B35" fill-opacity="0.6" stroke="#E64B35" stroke-opacity="0.6"/>
<circle cx="208.4" cy="571.8" r="9.1" fill="#E64B35" fill-opacity="0.6" stroke="#E64B35" stroke-opacity="0.6"/>
<circle cx="175.5" cy="629.6" r="9.1" fill="#E64B35" fill-opacity="0.6" stroke="#E64B35" stroke-opacity="0.6"/>
<circle cx="136.4" cy="794.1" r="9.1" fill="#E64B35" fill-opacity="0.6" stroke="#E64B35" stroke-opacity="0.6"/>
<circle cx="258.6" cy="543.5" r="9.1" fill="#4DBBD5" fill-opacity="0.6" stroke="#4DBBD5" stroke-opacity="0.6"/>
<circle cx="224.1" cy="704" r="9.1" fill="#4DBBD5" fill-opacity="0.6" stroke="#4DBBD5" stroke-opacity="0.6"/>
<circle cx="196.6" cy="743" r="9.1" fill="#4DBBD5" fill-opacity="0.6" stroke="#4DBBD5" stroke-opacity="0.6"/>
<circle cx="305.4" cy="870.6" r="9.1" fill="#4DBBD5" fill-opacity="0.6" stroke="#4DBBD5" stroke-opacity="0.6"/>
<circle cx="169.5" cy="683" r="9.1" fill="#00A087" fill-opacity="0.6" stroke="#00A087" stroke-opacity="0.6"/>
<circle cx="194.2" cy="698.2" r="9.1" fill="#00A087" fill-opacity="0.6" stroke="#00A087" stroke-opacity="0.6"/>
<circle cx="272.3" cy="821.6" r="9.1" fill="#00A087" fill-opacity="0.6" stroke="#00A087" stroke-opacity="0.6"/>
<circle cx="197.6" cy="883.7" r="9.1" fill="#00A087" fill-opacity="0.6" stroke="#00A087" stroke-opacity="0.6"/>
<circle cx="210.1" cy="316.1" r="9.1" fill="#3C5488" fill-opacity="0.6" stroke="#3C5488" stroke-opacity="0.6"/>
<circle cx="301.4" cy="426.1" r="9.1" fill="#3C5488" fill-opacity="0.6" stroke="#3C5488" stroke-opacity="0.6"/>
<circle cx="362" cy="457.4" r="9.1" fill="#3C5488" fill-opacity="0.6" stroke="#3C5488" stroke-opacity="0.6"/>
<circle cx="284.7" cy="493.7" r="9.1" fill="#3C5488" fill-opacity="0.6" stroke="#3C5488" stroke-opacity="0.6"/>
<circle cx="378.2" cy="583" r="9.1" fill="#F39B7F" fill-opacity="0.6" stroke="#F39B7F" stroke-opacity="0.6"/>
<circle cx="182" cy="664.7" r="9.1" fill="#F39B7F" fill-opacity="0.6" stroke="#F39B7F" stroke-opacity="0.6"/>
<circle cx="256.6" cy="780.1" r="9.1" fill="#F39B7F" fill-opacity="0.6" stroke="#F39B7F" stroke-opacity="0.6"/>
<circle cx="339.1" cy="885.5" r="9.1" fill="#F39B7F" fill-opacity="0.6" stroke="#F39B7F" stroke-opacity="0.6"/>
<circle cx="262.4" cy="456.8" r="9.1" fill="#8491B4" fill-opacity="0.6" stroke="#8491B4" stroke-opacity="0.6"/>
<circle cx="276.5" cy="624" r="9.1" fill="#8491B4" fill-opacity="0.6" stroke="#8491B4" stroke-opacity="0.6"/>
<circle cx="193.2" cy="721.1" r="9.1" fill="#8491B4" fill-opacity="0.6" stroke="#8491B4" stroke-opacity="0.6"/>
<circle cx="258.6" cy="726.9" r="9.1" fill="#8491B4" fill-opacity="0.6" stroke="#8491B4" stroke-opacity="0.6"/>
<circle cx="653.1" cy="608.9" r="9.1" fill="#91D1C2" fill-opacity="0.6" stroke="#91D1C2" stroke-opacity="0.6"/>
<circle cx="591.3" cy="630.4" r="9.1" fill="#91D1C2" fill-opacity="0.6" stroke="#91D1C2" stroke-opacity="0.6"/>
<circle cx="730.8" cy="687" r="9.1" fill="#91D1C2" fill-opacity="0.6" stroke="#91D1C2" stroke-opacity="0.6"/>
<circle cx="684.1" cy="725.3" r="9.1" fill="#91D1C2" fill-opacity="0.6" stroke="#91D1C2" stroke-opacity="0.6"/>
<circle cx="183.8" cy="415.3" r="9.1" fill="#DC0000" fill-opacity="0.6" stroke="#DC0000" stroke-opacity="0.6"/>
<circle cx="139" cy="547.7" r="9.1" fill="#DC0000" fill-opacity="0.6" stroke="#DC0000" stroke-opacity="0.6"/>
<circle cx="173.3" cy="554.1" r="9.1" fill="#DC0000" fill-opacity="0.6" stroke="#DC0000" stroke-opacity="0.6"/>
<circle cx="167.1" cy="560" r="9.1" fill="#DC0000" fill-opacity="0.6" stroke="#DC0000" stroke-opacity="0.6"/>
<circle cx="326.3" cy="449.2" r="9.1" fill="#7E6148" fill-opacity="0.6" stroke="#7E6148" stroke-opacity="0.6"/>
<circle cx="353.6" cy="491.3" r="9.1" fill="#7E6148" fill-opacity="0.6" stroke="#7E6148" stroke-opacity="0.6"/>
<circle cx="358.8" cy="538.7" r="9.1" fill="#7E6148" fill-opacity="0.6" stroke="#7E6148" stroke-opacity="0.6"/>
<circle cx="499.8" cy="586" r="9.1" fill="#7E6148" fill-opacity="0.6" stroke="#7E6148" stroke-opacity="0.6"/>
<circle cx="188.2" cy="734.1" r="9.1" fill="#B09C85" fill-opacity="0.6" stroke="#B09C85" stroke-opacity="0.6"/>
<circle cx="212.9" cy="745.8" r="9.1" fill="#B09C85" fill-opacity="0.6" stroke="#B09C85" stroke-opacity="0.6"/>
<circle cx="223.9" cy="780.9" r="9.1" fill="#B09C85" fill-opacity="0.6" stroke="#B09C85" stroke-opacity="0.6"/>
<circle cx="254.8" cy="871.5" r="9.1" fill="#B09C85" fill-opacity="0.6" stroke="#B09C85" stroke-opacity="0.6"/>
</g>
<ellipse cx="655.4" cy="662.3" rx="96.6" ry="86.9" fill="none" stroke="#0F66B6" stroke-width="3.3" stroke-dasharray="8.8 3.7"/>
<path d="M106.3,288V913.7H761" fill="none" stroke="#000" stroke-width="3"/>
<g stroke="#000" stroke-width="2.7">
<line x1="98.1" y1="297" x2="106.3" y2="297"/>
<line x1="98.1" y1="467" x2="106.3" y2="467"/>
<line x1="98.1" y1="636.6" x2="106.3" y2="636.6"/>
<line x1="98.1" y1="806" x2="106.3" y2="806"/>
<line x1="163.5" y1="913.7" x2="163.5" y2="921.5"/>
<line x1="287.8" y1="913.7" x2="287.8" y2="921.5"/>
<line x1="411.9" y1="913.7" x2="411.9" y2="921.5"/>
<line x1="536.2" y1="913.7" x2="536.2" y2="921.5"/>
<line x1="660.4" y1="913.7" x2="660.4" y2="921.5"/>
</g>
<text transform="translate(92,308.8) scale(1,1.04)" font-size="30.8" text-anchor="end">1.0</text>
<text transform="translate(92,478.8) scale(1,1.04)" font-size="30.8" text-anchor="end">0.5</text>
<text transform="translate(92,648.4) scale(1,1.04)" font-size="30.8" text-anchor="end">0.0</text>
<text transform="translate(92,817.8) scale(1,1.04)" font-size="30.8" text-anchor="end">-0.5</text>
<text transform="translate(163.5,951.2) scale(1,1.04)" font-size="30.8" text-anchor="middle">-1</text>
<text transform="translate(287.8,951.2) scale(1,1.04)" font-size="30.8" text-anchor="middle">0</text>
<text transform="translate(411.9,951.2) scale(1,1.04)" font-size="30.8" text-anchor="middle">1</text>
<text transform="translate(536.2,951.2) scale(1,1.04)" font-size="30.8" text-anchor="middle">2</text>
<text transform="translate(660.4,951.2) scale(1,1.04)" font-size="30.8" text-anchor="middle">3</text>
<text transform="translate(433.6,987.2) scale(1,1.04)" font-size="30.8" text-anchor="middle">PC1</text>
<text transform="translate(25.4,600.5) rotate(-90) scale(1,1.04)" font-size="30.8" text-anchor="middle">PC2</text>
</g>
<g id="panelB" font-family="'Liberation Sans', Arial, Helvetica, sans-serif" fill="#000">
<text transform="translate(1018.5,25.3) scale(1,1.04)" font-size="33" font-weight="bold" textLength="21" lengthAdjust="spacingAndGlyphs">B</text>
<text transform="translate(1372.9,105.4) scale(1,1.03)" font-size="33.5" textLength="337" lengthAdjust="spacing">100 mg/kg 4 h vs. Pre</text>
<circle cx="1159.1" cy="188.2" r="9.2" fill="#4D4D4D"/>
<text transform="translate(1193.6,196.5) scale(1,1.04)" font-size="22">Not sig.</text>
<circle cx="1302.9" cy="188.2" r="9.2" fill="#228B22"/>
<text transform="translate(1337.4,196.5) scale(1,1.04)" font-size="22">Log (base 2) FC</text>
<circle cx="1531.8" cy="188.2" r="9.2" fill="#4169E1"/>
<text transform="translate(1566.3,196.5) scale(1,1.04)" font-size="22">p-value</text>
<circle cx="1672.9" cy="188.2" r="9.2" fill="#EE0000"/>
<text transform="translate(1707.4,196.5) scale(1,1.04)" font-size="22">p-value &amp; Log (base 2) FC</text>
<g id="ptsB">
<path d="M1494.7 651.9h0M1497.9 702.3h0M1511.9 702.3h0M1506.6 737.4h0M1494.7 742.8h0M1501 748.4h0M1518.4 770.2h0M1591 672.8h0M1572.2 684.6h0M1577 696.3h0M1578.4 702.9h0M1570.1 708.3h0M1590.7 715.8h0M1568.2 724.5h0M1584.4 727.9h0M1589.4 731.6h0M1585 737.2h0M1604.6 739.9h0M1568.9 750.3h0M1572 753.4h0M1584.4 759.4h0M1596.9 755.9h0M1596.3 759.6h0M1644.2 753.4h0M1636.7 758.4h0M1636.1 762.7h0M1609.1 763.6h0M1560.8 766.5h0M1578.2 766.5h0M1586.9 765.8h0M1620.5 767.1h0M1625.5 764.6h0M1630.5 770.2h0M1652.9 767.7h0M1650.4 769.6h0M1653.8 706.4h0M1661 719.8h0M1429.3 715.4h0M1430.6 724.7h0M1433.7 734.7h0M1438.7 744.7h0M1444.3 754.6h0M1477.9 671.8h0M1484.2 699.8h0M1487.3 708.5h0M1481 721h0M1482.3 731h0M1509.7 770.2h0M1501 759.6h0M1499.7 752.1h0M1441.2 532.5h0M1456.4 533.7h0M1428.1 536.8h0M1431.2 540.6h0M1430.6 544.3h0M1432.1 553.9h0M1442.4 554.3h0M1450.5 553.6h0M1439.6 562h0M1452.4 567.4h0M1461.1 566.5h0M1427.5 568.6h0M1440.6 579.8h0M1433.1 584.8h0M1446.2 583.3h0M1436.8 581.7h0M1443.7 581.1h0M1473.8 610.7h0M1475.4 627.1h0M1463.6 645.2h0M1494.7 649.6h0M1438.7 594.8h0M1444.9 592.3h0M1451.8 593.5h0M1456.1 599.7h0M1459.9 604.7h0M1434.9 599.7h0M1430 604.7h0M1440.1 595.5h0M1444.8 596.9h0M1448.3 597.9h0M1452.4 596.9h0M1438.1 601.1h0M1439.8 602.5h0M1444.2 602.3h0M1450.3 600.3h0M1453.4 598.9h0M1428.3 606.4h0M1435.3 605.9h0M1438.4 606h0M1443.8 605.9h0M1448.7 603.6h0M1451.7 603.4h0M1428.2 609.5h0M1433.9 607.9h0M1435.3 606.8h0M1442.7 610h0M1445.9 608.5h0M1454.4 609.1h0M1457.7 606.8h0M1428.4 613.2h0M1433.5 614.3h0M1440 613.1h0M1442 612.8h0M1449 614.3h0M1450.4 611.8h0M1455.2 613h0M1436 615.4h0M1441.6 614.8h0M1444 617h0M1449.5 615.9h0M1453.3 615.4h0M1430.6 618.6h0M1435.4 621.6h0M1438.2 618.5h0M1444.3 619h0M1447.9 621.3h0M1450.7 619h0M1429.2 623.7h0M1433.1 626.2h0M1437.4 625.5h0M1443.9 622.9h0M1449.8 625.2h0M1456.2 623h0M1429.7 626.8h0M1433.3 628.2h0M1438.8 628.6h0M1442.8 629.3h0M1446.5 626.6h0M1454.2 629.9h0M1435.1 632h0M1442.9 632.3h0M1444.6 633.2h0M1450.6 633.8h0M1454.2 632.7h0M1458.3 632.7h0M1430 634.1h0M1433.1 634.6h0M1437.5 635.7h0M1444.1 636.1h0M1447.6 636.4h0M1453 636.4h0M1457 635.4h0M1460.8 635.7h0M1431.7 641.8h0M1436.3 639.2h0M1442.8 641.3h0M1444.6 641.3h0M1450.8 638h0M1453.7 639.7h0M1429.3 644.2h0M1434.2 643.8h0M1437.5 645.5h0M1442.5 642.7h0M1447.4 644.8h0M1451 642.2h0M1457.8 643.6h0M1430.6 646.6h0M1435.2 648h0M1440.7 648.8h0M1447.2 649.2h0M1448.2 648.2h0M1460.6 646h0M1429.1 649.7h0M1433 650.7h0M1440.5 650.6h0M1444 652.9h0M1445.7 652.6h0M1450.8 652.7h0M1460.3 652.3h0M1432.8 654.9h0M1438.4 656.2h0M1441.9 654.5h0M1447 655.1h0M1449.2 653.6h0M1453.6 654h0M1458.9 654.2h0M1428.8 660.5h0M1434.1 661.1h0M1436.9 658.8h0M1448.1 659.8h0M1452.5 660.3h0M1458 659.5h0M1461.6 659.2h0M1466.2 660.5h0M1430.8 663h0M1434.8 661.8h0M1441.1 664.1h0M1451 661.6h0M1453.7 664.3h0M1460.5 661.8h0M1464.2 663.2h0M1466.5 662.3h0M1431.4 666.3h0M1433.3 665.6h0M1439.2 668.8h0M1444.1 666.9h0M1449.7 667.8h0M1453.9 665.4h0M1456.1 668.8h0M1429.3 670.6h0M1433 670.8h0M1436 670.7h0M1439.2 672h0M1446.2 672.2h0M1448.9 670h0M1455.6 670.4h0M1459.6 669.7h0M1464.3 672h0M1436.1 673h0M1439.2 675.7h0M1442.6 672.8h0M1448 673.1h0M1451.6 673.1h0M1458.5 674.6h0M1462.1 672.9h0M1467.6 676.4h0M1468.6 674.1h0M1432.3 680.6h0M1437.1 678.8h0M1442.6 677h0M1446.3 680h0M1449.8 677.4h0M1455.9 680.7h0M1460.5 678.3h0M1463.5 676.7h0M1466.8 679.6h0M1431.6 684.4h0M1432.8 682.3h0M1439.3 683.6h0M1442.1 683.9h0M1448.6 681.4h0M1454.2 682.8h0M1456.5 683.3h0M1460.2 680.7h0M1465.3 682.6h0M1427.7 686h0M1430.3 685.5h0M1442.9 688.1h0M1444.2 688.4h0M1451.5 688.1h0M1454.6 685.3h0M1458.2 685h0M1464.7 688.2h0M1466 685.6h0M1429.3 690.4h0M1434.9 688.8h0M1440.7 688.5h0M1445.1 688.5h0M1446.6 688.7h0M1452.6 689.7h0M1458 691.7h0M1459.8 690.6h0M1465.5 691.9h0M1431.1 696h0M1445.9 692.6h0M1448.2 694.5h0M1454 693.5h0M1460.3 696.1h0M1463.8 692.3h0M1438.6 699.3h0M1444.8 698.6h0M1448.9 699.7h0M1453.1 697h0M1456 698.6h0M1463 696.2h0M1465.2 699.5h0M1470.3 699.3h0M1436.4 704h0M1439.5 703.5h0M1446.9 702.6h0M1448.3 703.3h0M1456.4 703.6h0M1457.5 703.7h0M1462 702.1h0M1467.6 702.7h0M1473.7 700.7h0M1477 704.1h0M1437.8 704h0M1445.1 707.1h0M1453.1 707.5h0M1456.2 704.4h0M1469.4 708h0M1474.2 705.3h0M1435.4 711.5h0M1444.2 709.5h0M1450.9 711.7h0M1453.9 708.2h0M1460.9 708h0M1462.2 709.7h0M1468.5 711.9h0M1472.1 710.8h0M1476.6 709.4h0M1437.3 715.7h0M1444.4 714.4h0M1447 714.6h0M1452.3 714.5h0M1455 715h0M1461.9 713.1h0M1464.1 714.5h0M1470.7 713.6h0M1475.7 713.7h0M1478.7 712.1h0M1436 718.4h0M1441.4 717.5h0M1443.5 717.7h0M1449.5 716h0M1456.1 717.1h0M1459.5 716.2h0M1462 717.1h0M1466.5 717h0M1473.4 719.7h0M1435.2 722.2h0M1438.2 722.1h0M1442.4 721.2h0M1448.5 721.4h0M1451.2 722.2h0M1456.6 720.3h0M1462.2 720.3h0M1465.6 720.5h0M1471.5 723.4h0M1475.3 720.3h0M1438.5 724.4h0M1443.8 726.5h0M1450 726.7h0M1453.9 725.5h0M1466.5 727.4h0M1473.1 725.2h0M1475.4 723.9h0M1438.6 727.4h0M1442.3 730.5h0M1447.9 729.2h0M1454.2 730.6h0M1456.7 728.3h0M1466.7 730.8h0M1469.5 729h0M1473.9 729.1h0M1477.5 728.5h0M1440.4 733.8h0M1444.9 732h0M1448.5 734.7h0M1456.5 731.5h0M1460.2 733.9h0M1463.1 733.8h0M1472.4 734.2h0M1475.3 732.2h0M1440.2 738.5h0M1441.3 738.8h0M1448.4 738.6h0M1453.7 737.1h0M1456.6 736.2h0M1460.6 738.3h0M1464.3 735.8h0M1476.6 738.1h0M1478.3 736.7h0M1445 740.4h0M1449.6 740.9h0M1454 740.4h0M1459.5 741.1h0M1464.7 741.1h0M1468.9 742.1h0M1473.8 741.8h0M1475.6 741.9h0M1442.6 745.6h0M1448.5 744h0M1453.2 745.9h0M1458.6 745.3h0M1461 745.1h0M1464.7 744h0M1471.4 744.7h0M1474.6 743.8h0M1448.1 747.9h0M1456.5 747.8h0M1458.7 749.5h0M1464.9 747.7h0M1466.6 750.4h0M1473.4 750.3h0M1475.4 749.2h0M1453.7 752.5h0M1459.5 751.6h0M1469.9 753.2h0M1476.3 751.2h0M1480.8 754.6h0M1450.5 756.1h0M1456.3 756.1h0M1460.5 757.3h0M1463.8 755.9h0M1467.4 755.4h0M1471.9 758.7h0M1476.8 758.6h0M1480.7 758h0M1487.7 758h0M1490.9 756.9h0M1494.2 756.2h0M1454.1 759.8h0M1455.2 761.5h0M1462.6 762.5h0M1467.7 759.7h0M1469.1 758.9h0M1475.6 761.7h0M1481 759.5h0M1485.1 762.2h0M1487.6 760.4h0M1492.2 761.8h0M1497.1 762.2h0M1454.2 765.3h0M1459.2 762.6h0M1464.3 766.1h0M1469.2 766h0M1472.1 763.8h0M1475.9 763.8h0M1482.6 764.2h0M1485.1 763.9h0M1490.4 764.9h0M1495.2 766.1h0M1499.6 765.2h0M1457.2 767.9h0M1472 766.6h0M1478.4 768.2h0M1481.9 767.5h0M1489.7 767.4h0M1491.7 767.6h0" fill="none" stroke="#4169E1" stroke-width="10.4" stroke-linecap="round"/>
<path d="M1450.2 777.8h0M1454.8 778.8h0M1461.2 778.3h0M1469.9 778.2h0M1481.3 778.9h0M1507.2 777.8h0M1512.4 777.8h0M1515.1 778.4h0M1519.8 779.1h0M1524.1 778.4h0M1569.8 778.1h0M1572.6 778h0M1580.1 778.3h0M1454.4 779.1h0M1459.5 781.1h0M1463.5 780.6h0M1467.2 782.4h0M1473.7 780.5h0M1476.6 780.3h0M1480.3 782.2h0M1484.8 779.3h0M1491.8 780.3h0M1500.4 779.4h0M1505.3 781h0M1509.6 781.5h0M1513.9 779.5h0M1517.3 779.5h0M1522.5 782h0M1567.2 782.1h0M1571.2 781.8h0M1574.8 781.8h0M1579.1 782.9h0M1583.5 779.3h0M1467.4 784.8h0M1470.3 785.6h0M1476 783.9h0M1479.6 784.8h0M1485.3 785.8h0M1504 786h0M1505.5 785.1h0M1509.5 786.7h0M1517.2 785.8h0M1519.1 783.2h0M1524.6 785.9h0M1564.8 784h0M1566.9 785.1h0M1571.5 783.3h0M1578 783h0M1581.7 783.1h0M1470.2 788.3h0M1472.4 789.3h0M1478.8 788.6h0M1483.7 788.9h0M1485.8 790.4h0M1503.8 787.4h0M1507 788h0M1513.8 789.5h0M1515.6 789.3h0M1522.9 789.5h0M1524.6 789.7h0M1562.2 788h0M1565.4 790.4h0M1572.2 786.9h0M1573.8 788.4h0M1577.3 787.6h0M1474 790.5h0M1479.4 793.2h0M1485.8 792.9h0M1489.5 794.2h0M1491.5 791.5h0M1500.2 791.2h0M1505.4 791.5h0M1511.9 792.3h0M1514.4 794.4h0M1518 793.3h0M1524.9 791.7h0M1563.2 792.3h0M1567.2 790.6h0M1573.2 793.8h0M1575.8 792.8h0M1581.2 791.3h0M1595.6 793.9h0M1598 791.4h0M1479.4 797.4h0M1483.6 796.5h0M1485.3 796.2h0M1492.3 797.5h0M1496.8 796.5h0M1501.3 795.9h0M1505.8 797.5h0M1508.8 795h0M1514.6 794.9h0M1518.2 794.4h0M1521.8 795.4h0M1558.7 797.1h0M1561.2 795.7h0M1564.8 796h0M1568.4 795.9h0M1575.2 797.5h0M1593.7 796.7h0M1597 797.9h0M1600.9 797h0M1479.1 800.8h0M1484.6 799.1h0M1487.7 801.4h0M1491.6 799.1h0M1498 801.6h0M1503.9 801.6h0M1505.1 801.9h0M1511.4 799.2h0M1514.1 799.8h0M1521.1 800.6h0M1523.3 798.8h0M1560.7 801.2h0M1565.3 800.1h0M1567.2 800.7h0M1572.2 799.7h0M1575.3 798.3h0M1591.9 798.4h0M1596.3 799.9h0M1597.6 798.3h0M1481.6 805.7h0M1485.6 801.9h0M1490.4 803.7h0M1495.7 803.8h0M1498.9 805.7h0M1505.2 803.8h0M1508 803.4h0M1514.7 803.2h0M1515.6 805.4h0M1520.4 804.3h0M1526.7 802.5h0M1558.6 805.7h0M1560.8 804.2h0M1565.9 802.2h0M1568.8 803.1h0M1575.5 802.2h0M1588.8 802.2h0M1593.2 802.7h0M1595.7 803.6h0M1601.7 803.7h0M1481.7 807.4h0M1484.2 807.1h0M1487.7 807.4h0M1494.6 809.6h0M1495.9 805.7h0M1500.4 808.4h0M1505.3 806.7h0M1509 809.2h0M1514.2 806.6h0M1520.2 807h0M1523.9 809.3h0M1556.6 808h0M1560.3 808.4h0M1565.1 807.6h0M1566.4 806.6h0M1573.7 806.1h0M1577.4 807.3h0M1582.5 809.4h0M1586.8 805.7h0M1590.4 809.5h0M1594.5 807.3h0M1598 806.8h0M1601.7 807.9h0M1482.3 811.3h0M1487.7 812.3h0M1491.6 811.8h0M1497.2 813.3h0M1501.3 810h0M1505.4 810.7h0M1506.9 810.3h0M1511.4 811.2h0M1518.9 810.8h0M1523.1 811.8h0M1525.2 812h0M1555.9 812.3h0M1559.7 813h0M1564.8 813.2h0M1571.4 809.8h0M1574.7 813.1h0M1579.3 809.7h0M1583 813.5h0M1587.5 811h0M1590.7 812.8h0M1596.4 812.4h0M1599.7 811.2h0M1603.8 811.3h0M1608.7 811.5h0M1484.7 815h0M1486.9 813.4h0M1492.5 814.9h0M1495.9 817.2h0M1500.5 816.3h0M1507.2 816.3h0M1509.4 817.3h0M1514.1 814.8h0M1521.2 815.4h0M1524.9 815.3h0M1526.7 816.8h0M1553.7 817h0M1558.3 814.6h0M1563.2 813.8h0M1569 816.1h0M1571.7 813.4h0M1577.4 815.1h0M1580.1 816.6h0M1587.3 817h0M1591.7 814.9h0M1596.3 815.7h0M1597.2 815.7h0M1602.8 814.8h0M1608.2 816.2h0M1487.8 818.5h0M1491.9 817.3h0M1496.5 819.2h0M1501.8 819.8h0M1505.6 818.9h0M1507.8 819.5h0M1527 821h0M1552.4 820.7h0M1556.8 821h0M1562.4 818.1h0M1566.9 820.4h0M1569.2 819.7h0M1573.9 817.2h0M1580.8 817.2h0M1581.9 820.7h0M1588.6 820h0M1593.2 819h0M1595.9 817.2h0M1600.1 818.2h0M1604.9 817.6h0M1610 817.4h0M1488.6 821.3h0M1492.8 824.5h0M1498.2 822.6h0M1501.1 822h0M1505.3 822.5h0M1510.2 822.4h0M1523.4 824.9h0M1529.8 821.9h0M1553.7 821.4h0M1558 824.7h0M1562.2 823.6h0M1569.2 823.5h0M1572.1 822.2h0M1578.1 822.9h0M1581.9 823.7h0M1584.6 821.9h0M1591.3 824.5h0M1595.7 822.7h0M1597.6 823.6h0M1488.1 825.4h0M1491.1 827.1h0M1494.7 828.5h0M1501.2 826.7h0M1502.3 827.3h0M1508.4 826.1h0M1513 825.8h0M1516.2 828.6h0M1521.4 827.8h0M1526.1 828h0M1529.5 828.4h0M1533.1 826.7h0M1555.9 826.4h0M1559.5 827.8h0M1565.4 825.8h0M1569.5 828h0M1573.9 828h0M1577.6 826.4h0M1585.2 826h0M1598.2 827h0M1599.5 826.4h0M1494.9 831h0M1499.5 828.7h0M1500.8 831.7h0M1507.4 829.9h0M1511.6 832.2h0M1515 831.3h0M1518.1 831.4h0M1525 830.6h0M1529.4 830.8h0M1555.8 832.4h0M1557.4 828.7h0M1564.8 832.1h0M1568.1 830.6h0M1570.5 830.7h0M1578.3 829.3h0M1580.4 830.7h0M1597.4 831.8h0M1601.6 829h0M1607.8 831.6h0M1610.1 832.3h0M1505.1 833.8h0M1510.3 832.9h0M1512.6 833.1h0M1517.4 835.9h0M1519.9 832.6h0M1526.5 834.8h0M1532 834.6h0M1534.1 835.5h0M1555.6 834.5h0M1559.9 834.5h0M1564.7 836.3h0M1569.7 834.9h0M1572.8 835.8h0M1578.7 836h0M1595.5 832.9h0M1599.6 836h0M1604.8 833.2h0M1608.3 835.8h0M1616.1 835.4h0M1498.6 836.5h0M1501.8 837.2h0M1505.9 837.9h0M1512.2 837.1h0M1517 837.3h0M1520.8 837.5h0M1522.4 838.6h0M1530 838.5h0M1534.8 838.8h0M1555.3 836.8h0M1559.1 837.8h0M1562 838.8h0M1566.3 837.4h0M1572.6 838.6h0M1578.3 837.8h0M1582.3 839.5h0M1584.4 837h0M1591.9 838.7h0M1593.8 840.1h0M1599.1 838.9h0M1604.5 837.7h0M1609.6 838.4h0M1610.6 839.4h0M1616.7 837.7h0M1503.3 842.3h0M1509.3 843.6h0M1511.2 843.8h0M1516.9 842.1h0M1521.2 841.8h0M1526.1 841.1h0M1530.2 841.2h0M1535.1 841.7h0M1558.4 842.6h0M1563 840.5h0M1566.9 840.3h0M1572.2 841h0M1573.8 841.4h0M1578.8 843.3h0M1583.8 840.5h0M1589.7 841.4h0M1591.6 842.6h0M1595 840.3h0M1599.6 841.2h0M1604.7 841.8h0M1609.2 841.9h0M1612.5 844h0M1503.5 846.1h0M1507.6 847.4h0M1512.8 843.9h0M1514.3 844.8h0M1520.1 845.6h0M1525.9 844.5h0M1528.9 845.5h0M1532.9 846.6h0M1555.6 846.6h0M1559.9 847.7h0M1561.8 844.6h0M1567.8 844.2h0M1572.8 845.4h0M1576.7 847.3h0M1581.3 845.2h0M1584.8 845.2h0M1588.8 845.7h0M1595.9 846h0M1598.2 844.8h0M1603.2 844.6h0M1608.5 845.5h0M1612 845.8h0M1502.5 850.2h0M1508.9 848.1h0M1512.5 850.2h0M1515.8 848.4h0M1520.5 848.4h0M1526 850.9h0M1530.8 850.5h0M1535.4 847.8h0M1537.6 850h0M1553.3 850.4h0M1557.4 848.9h0M1560.5 847.7h0M1564.2 848.4h0M1571.5 849.7h0M1575 850.8h0M1579.1 848.9h0M1585.4 849.9h0M1589.4 847.9h0M1593.4 851.4h0M1594.8 847.7h0M1599.6 849.9h0M1603.6 851.1h0M1496.5 854h0M1500.4 853h0M1504.8 853.8h0M1510 854.3h0M1514.4 855.1h0M1520.2 852.2h0M1522.5 855h0M1526.8 853.6h0M1533.9 853.7h0M1538.2 851.9h0M1553.5 852.8h0M1559.3 855h0M1562.3 853.7h0M1566.7 853.6h0M1571.9 852.7h0M1575.8 853.6h0M1580.6 855.1h0M1585 854.2h0M1591 852.1h0M1595.4 853h0M1597.8 852.4h0M1602.7 851.9h0M1488.3 857.6h0M1491.5 857.4h0M1494.3 855.9h0M1501.2 855.3h0M1504.6 857.2h0M1507.5 855.7h0M1513.1 856.4h0M1518.2 856.5h0M1520 857.4h0M1528 857.5h0M1529.6 856.4h0M1535.1 858.5h0M1537.7 858h0M1551.9 857.6h0M1555.3 857.6h0M1559.9 856.9h0M1564 856.7h0M1571.8 855.3h0M1575.6 856.9h0M1578.1 856.3h0M1585.1 855.4h0M1588.8 857.1h0M1591.5 855.9h0M1595.2 856.4h0M1489.6 861.8h0M1492.8 860.9h0M1499.3 859.1h0M1502.4 859.8h0M1506.4 860.5h0M1510 861.4h0M1513.5 861.4h0M1521 861.8h0M1525.6 862.3h0M1528.7 860.1h0M1531.7 859.5h0M1536.2 861.7h0M1539.9 860.7h0M1550.7 859.8h0M1556.3 860.3h0M1559 859.4h0M1565 860.4h0M1567.7 862.4h0M1572.4 861.2h0M1575 860.5h0M1581.6 859.6h0M1586.4 862h0M1589.8 860.3h0M1593.9 862.8h0M1484.7 864.8h0M1489.3 866.6h0M1494.3 866.7h0M1499.6 864.4h0M1502.8 863.7h0M1506.9 866.2h0M1513.5 866.4h0M1516.6 865h0M1521.1 863.8h0M1527.2 863.5h0M1529.6 864h0M1534.6 864.4h0M1541 863.9h0M1543.1 864.5h0M1549.8 864.4h0M1550.8 865.6h0M1556.9 865.6h0M1561.6 866.2h0M1565.7 863.6h0M1570.2 864.7h0M1576.1 865.7h0M1579 865.6h0M1584.2 864.9h0M1589.3 864h0M1477.1 867.6h0M1478.4 868.4h0M1483.5 868.4h0M1487.2 867h0M1491.3 870.6h0M1499.6 869.8h0M1500.6 868h0M1504.7 870.3h0M1511.9 867.7h0M1516.5 868h0M1518.2 868.3h0M1522.4 868.4h0M1530 867.3h0M1532.2 869.3h0M1538.6 870h0M1540.8 867.2h0M1544.6 869.8h0M1549.3 869.8h0M1556.7 868.2h0M1560.5 867.8h0M1561.8 866.8h0M1568.8 868.9h0M1572.9 867.2h0M1576.3 868.9h0M1580 868.5h0M1584.8 870.4h0M1475.2 871.9h0M1482.6 871.4h0M1486.2 872.7h0M1496.2 874.3h0M1499 871h0M1503.6 871.2h0M1507.9 873.9h0M1514.3 870.7h0M1519.3 870.7h0M1521.9 871.7h0M1526.7 872.9h0M1530.8 872.3h0M1533.4 871.4h0M1537.6 873.9h0M1543.2 873.6h0M1550 871.3h0M1551 872.3h0M1559 873h0M1562 872.2h0M1566.7 872.2h0M1568.9 871.8h0M1573 874.2h0M1579.2 870.8h0M1584.1 870.8h0M1508.2 875.7h0M1512.2 876.1h0M1516.3 875.8h0M1519.9 877.1h0M1524.4 878.1h0M1528 876.9h0M1533.7 876.4h0M1538.6 876.6h0M1542.8 877.7h0M1544.2 876.8h0M1551.9 875.9h0M1553.9 876.8h0M1560.7 875.8h0M1563.8 875.7h0M1569.9 877.8h0M1573.2 878.1h0M1517.1 878.6h0M1522.6 879.7h0M1527.2 880.7h0M1529 879.3h0M1535.2 880.6h0M1537.7 880h0M1542.7 879.6h0M1547.7 880.9h0M1552.3 878.7h0M1558.1 879.8h0M1563.4 881.6h0M1565.6 880.4h0M1570 879.3h0M1561.7 776.4h0M1560.7 787.1h0M1561 785.9h0M1558.5 792.7h0M1557.3 798.5h0M1556.1 798.3h0M1554 804.9h0M1552.3 812.4h0M1552.4 819.1h0M1551.6 819.2h0M1551.9 826.7h0M1553.3 831.6h0M1554.6 831.8h0M1552.8 839.4h0M1552.2 845.4h0M1552.4 844.9h0M1550.7 850.6h0M1550 858h0M1548.7 857.6h0M1543.6 863h0M1543.5 863.7h0M1539.7 857.7h0M1539.8 857h0M1537.6 850h0M1536.9 845.6h0M1536.9 845h0M1536.5 839.2h0M1535 832.5h0M1534.1 832.8h0M1532.5 826.5h0M1530.3 820.7h0M1530.2 820.4h0M1529.9 812.1h0M1528.1 806h0M1526 798.2h0M1525.5 798.1h0M1525.1 790.8h0M1525 782.9h0M1524.3 782.1h0M1525.1 778.2h0M1518.9 880.1h0M1528.9 883.7h0M1528.4 883.5h0M1535.6 882.4h0M1541.3 882.5h0M1547 882.6h0M1553.3 882.6h0M1558.9 882.9h0M1564 883.7h0M1563.6 883.5h0M1570.7 881.2h0M1575.6 878.6h0M1576.2 878.2h0M1581.6 874.6h0M1587.3 869.5h0M1586.9 868.8h0M1591.5 863.9h0M1598.3 859.4h0M1598.6 858.8h0M1602.8 855.4h0M1608.9 849.2h0M1449.5 776.7h0M1455.6 776.8h0M1461.3 777.2h0M1467.2 776.8h0M1473 776.8h0M1478 777.5h0M1484 777.6h0M1490 776.8h0M1494.6 777.7h0M1501.5 777.4h0M1507.1 778.1h0M1512.6 778h0M1518.2 777.6h0M1525.4 776.5h0M1561.9 776.8h0M1566.8 777.1h0M1574.1 776.8h0M1580.7 776.2h0M1585.6 776.9h0M1592 776.8h0M1426.5 779.3h0M1437.4 778.7h0M1433.7 794.3h0M1453.6 799.9h0M1452.4 806.1h0M1463.6 805.5h0M1469.8 811.1h0M1430 814.8h0M1443.7 821.7h0M1458.6 816.1h0M1462.4 822.3h0M1467.3 829.8h0M1474.8 832.3h0M1432.5 843.5h0M1439.9 848.5h0M1429.3 851h0M1444.9 842.2h0M1450.5 838.5h0M1463.6 843.5h0M1464.8 849.7h0M1471.1 852.2h0M1456.7 864.7h0M1482.3 855.9h0M1471.1 871.5h0M1476.1 865.9h0M1478.5 872.1h0M1453.6 788.7h0M1456.1 793.7h0M1580.7 777.5h0M1621.8 780h0M1626.8 783.7h0M1631.8 786.2h0M1608.1 789.9h0M1652.9 781.8h0M1618.1 794.9h0M1625.5 797.4h0M1631.8 799.9h0M1610.6 806.1h0M1619.3 809.9h0M1625.5 809.9h0M1638 807.4h0M1644.2 806.7h0M1648 816.7h0M1634.3 819.8h0M1639.2 822.3h0M1651.7 825.4h0M1628 828.5h0M1636.7 828.5h0M1629.3 834.8h0M1652.3 836h0M1619.3 843.5h0M1611.8 849.7h0M1605.6 874.6h0M1619.3 822.3h0M1614.3 786.2h0M1604.4 797.4h0M1519.7 781.2h0M1524.6 780.6h0" fill="none" stroke="#4D4D4D" stroke-width="10.4" stroke-linecap="round"/>
<path d="M1390.8 790.1h0M1407.9 786.1h0M1413.5 780.7h0M1401.9 799.1h0M1418.9 792.1h0M1423.9 792.7h0M1422.3 809.2h0M1418.9 821.6h0M1681.6 776.4h0M1672 789.7h0M1686 798.1h0M1670 820.6h0M1666.2 824.5h0M1674 843.1h0M1787.5 814.6h0M1794.6 816.2h0" fill="none" stroke="#228B22" stroke-width="10.4" stroke-linecap="round"/>
<path d="M1321.8 323.9h0M1293.7 330.5h0M1293.9 350.6h0M1317.8 359.2h0M1297.5 370.2h0M1278.6 380.5h0M1342.2 380.9h0M1350.3 388.9h0M1314.1 387.7h0M1326.6 387.7h0M1324.8 393.7h0M1240.9 396.7h0M1237.1 400h0M1254.7 399.3h0M1261 398.1h0M1274.4 398.3h0M1295.9 397.1h0M1302.3 404.6h0M1320.2 402.6h0M1326.6 404.2h0M1312.3 407.2h0M1307.3 410.6h0M1290.3 415.6h0M1318.2 415.6h0M1226.8 419.2h0M1271.4 420.2h0M1280.4 421.6h0M1294.3 420.6h0M1311.3 421.6h0M1341.8 418.8h0M1301.3 424.6h0M1319.2 427.6h0M1228.6 429.1h0M1270.4 428h0M1249.5 431.1h0M1280.4 431.5h0M1316.2 431.5h0M1329.2 431.9h0M1362.7 430.9h0M1386.6 431.1h0M1297.3 436.5h0M1341.2 438.5h0M1219.6 442.5h0M1249.5 444.5h0M1282.4 441.5h0M1382.4 443.5h0M1306.3 447.1h0M1294.3 446.5h0M1279.4 447.5h0M1331.2 447.1h0M1238.1 450.9h0M1225.6 453.1h0M1247.5 453.5h0M1269.4 451.9h0M1306.3 454.5h0M1332.2 453.5h0M1255.5 458h0M1364.7 457.1h0M1285.4 455.5h0M1303.3 459.4h0M1273.4 458.4h0M1335.2 462.4h0M1207.6 467h0M1238.5 466.4h0M1262.4 467.4h0M1268.4 468.4h0M1308.9 467h0M1416.9 469h0M1281.4 469.4h0M1288.3 471.4h0M1328.8 470.4h0M1320.2 474h0M1225.2 477.4h0M1245.5 479.4h0M1299.3 476.4h0M1307.3 477.4h0M1331.2 480.4h0M1233.1 483h0M1134.3 487.7h0M1140.5 487.7h0M1152.2 484.4h0M1271 485h0M1291.3 485.4h0M1313.3 484.4h0M1357.7 485.4h0M1326.2 488.3h0M1252.5 490.9h0M1380 490.3h0M1337.2 491.3h0M1346.1 493.3h0M1234.5 494.3h0M1275.4 492.3h0M1309.3 492.3h0M1285.4 479.4h0M1293.3 439.5h0M1285.4 429.5h0M1287.3 451.5h0M1277.4 439.5h0M1283.4 463.4h0M1291.3 459.4h0M1155.4 521.5h0M1194.5 522.5h0M1225.6 507h0M1230.5 507h0M1261.8 501.6h0M1273.4 506h0M1279.4 508h0M1276.4 514.9h0M1285.4 503h0M1296.3 503h0M1303.3 501.6h0M1314.3 501.6h0M1325.2 502h0M1342.2 509h0M1335.2 514.9h0M1323.2 511h0M1312.3 518.9h0M1300.3 523.9h0M1296.3 528.5h0M1368.7 519.9h0M1389.4 503h0M1419.5 519.5h0M1409.9 524.9h0M1420.3 530.9h0M1280 533.5h0M1248.5 536.5h0M1228.2 538.5h0M1236.5 543.8h0M1276.4 546.8h0M1323.2 527.9h0M1330.2 529.9h0M1337.2 536.5h0M1348.1 530.9h0M1353.1 537.9h0M1321.8 542.9h0M1321.8 549.4h0M1341.2 547.8h0M1331.8 555.2h0M1370.1 543.8h0M1378 546.8h0M1387 544.8h0M1384 550.8h0M1398 542.3h0M1412.5 543.8h0M1420.9 542.9h0M1420.9 549.8h0M1178.1 555.2h0M1297.7 556.2h0M1302.3 563.2h0M1347.1 565.2h0M1363.1 564.2h0M1370.5 557.8h0M1379.6 568.2h0M1401.9 560.8h0M1410.9 562.2h0M1395 571.7h0M1402.9 572.7h0M1412.9 569.8h0M1421.9 569.8h0M1299.9 573.3h0M1319.8 574.1h0M1344.1 575.3h0M1363.1 579.7h0M1370.1 583.7h0M1382 581.7h0M1389 586.7h0M1405.9 582.7h0M1396 588.7h0M1222 578.7h0M1258.8 577.1h0M1307.3 585.3h0M1316.8 586.7h0M1312.3 588.7h0M1342.2 591.7h0M1351.7 590.7h0M1360.5 595.3h0M1375 594.1h0M1389 594.7h0M1422.3 588.7h0M1288.3 598.7h0M1313.9 598.7h0M1404.9 597.7h0M1412.9 601.6h0M1418.9 603.6h0M1348.1 608.2h0M1386 610.6h0M1395 611.6h0M1402.9 611.6h0M1410.9 608.6h0M1220.2 613.6h0M1231.5 610.2h0M1257.4 618.6h0M1345.1 619h0M1399 617.6h0M1407.9 619.6h0M1411.9 624.6h0M1420.9 619.6h0M1299.9 629.9h0M1355.7 628.6h0M1340.2 632.5h0M1372.4 632.5h0M1385 632.5h0M1390 637.5h0M1408.9 636.5h0M1416.9 639.5h0M1421.9 629.5h0M1279 634.1h0M1331.2 641.5h0M1326.6 646.5h0M1346.1 646.9h0M1351.7 653.5h0M1361.1 644.5h0M1367.1 649.5h0M1372 642.5h0M1372 652.5h0M1386 647.5h0M1391 643.5h0M1392 651.5h0M1405.9 649.5h0M1418.9 647.5h0M1291.3 648.9h0M1382 657.4h0M1377 665.4h0M1383 669.4h0M1389 661.4h0M1397 657.4h0M1399 665.4h0M1404.9 659.4h0M1410.9 663.4h0M1416.9 659.4h0M1420.9 665.4h0M1246.5 666.8h0M1275.4 672.8h0M1188.7 676.2h0M1338.2 678h0M1345.1 680.8h0M1351.1 682h0M1395 675.4h0M1400.9 673.4h0M1406.9 671.4h0M1412.9 675.4h0M1418.9 673.4h0M1399 683.4h0M1404.9 681.4h0M1410.9 685.4h0M1416.9 683.4h0M1420.9 679.4h0M1397 691.3h0M1402.9 689.3h0M1408.9 693.3h0M1414.9 691.3h0M1419.9 689.3h0M1293.3 696.3h0M1355.7 696.3h0M1190.7 699.3h0M1399 697.3h0M1406.9 698.3h0M1414.9 697.3h0M1190.3 703h0M1220.6 704.6h0M1297.9 703h0M1387 706h0M1330.8 713.6h0M1340.2 710h0M1348.1 713h0M1344.1 718.9h0M1375 719.9h0M1218.6 727.5h0M1226 725.9h0M1316.8 732.9h0M1331.8 732.9h0M1156.8 741.3h0M1368.5 739.5h0M1373.4 762.8h0M1408.9 709h0M1414.9 704h0M1420.9 708h0M1416.9 714h0M1403.9 720.9h0M1411.9 719.9h0M1420.9 716.9h0M1405.9 730.9h0M1409.9 733.9h0M1417.5 732.9h0M1414.9 745.8h0M1421.9 746.2h0M1404.9 753.8h0M1415.9 752.8h0M1419.9 757.8h0M1403.9 764.2h0M1421.9 768.2h0M1408.9 771.4h0M1279.7 417.9h0M1284.7 419.9h0M1287.7 422.9h0M1281.7 431.9h0M1285.7 435.8h0M1282.7 439.8h0M1286.7 429.9h0M1279.7 445.8h0M1287.7 446.8h0M1293.7 445.8h0M1284.7 442.8h0M1271.7 457.8h0M1277.7 455.8h0M1285.7 454.8h0M1289.7 459.8h0M1281.7 461.7h0M1304.6 449.8h0M1306.6 454.8h0M1302.6 458.8h0M1312.6 427.9h0M1317.6 424.9h0M1321.6 429.9h0M1329.5 431.9h0M1315.6 432.9h0M1309.6 418.9h0M1316.6 416.9h0M1312.6 413.9h0M1303.6 409.9h0M1307.6 412.9h0M1331.5 449.8h0M1333.5 454.8h0M1334.5 459.8h0M1282.7 469.7h0M1287.7 472.7h0M1289.7 475.7h0M1287.7 481.7h0M1292.7 484.7h0M1295.7 479.7h0M1303.6 476.7h0M1309.6 479.7h0M1312.6 483.7h0M1324.6 474.7h0M1329.5 479.7h0M1332.5 482.7h0M1714 701.9h0M1724 737.3h0M1771.3 709.4h0M1794.9 698.6h0M1817.3 707.5h0M1846.2 709.8h0M1829.2 751.1h0M1831.9 747.2h0M1907.5 711.4h0M1383.7 657.3h0M1391.2 657.2h0M1392.4 658.6h0M1401.8 659.8h0M1383.7 662h0M1389 663.8h0M1392 661.1h0M1394.9 662.4h0M1402.4 663.6h0M1404.8 660.6h0M1411.9 662.9h0M1413.3 663.3h0M1420.4 661h0M1379.1 665.5h0M1382.7 664.8h0M1390.1 665.8h0M1393 667h0M1401.4 667.9h0M1411.1 666.8h0M1416.6 667h0M1420.5 665.8h0M1383.5 668.3h0M1394.7 669.3h0M1401.1 671.5h0M1404.7 670.5h0M1410.3 668.2h0M1414.6 670.4h0M1419.6 670.8h0M1404.5 672.2h0M1407.4 674h0M1412.7 675.4h0M1415.4 673.2h0M1422.7 671.8h0M1402.4 676.9h0M1404.5 676.6h0M1409.2 679.7h0M1414.4 677.7h0M1421.2 678.3h0M1422.4 678.5h0M1398.7 683.3h0M1403.9 681.3h0M1411 683.3h0M1415 681h0M1422.7 682h0M1399.6 685.1h0M1403.9 685.5h0M1408.4 686.2h0M1413.3 687h0M1417.3 687.3h0M1422.2 684.9h0M1403.6 691.3h0M1407.7 690.9h0M1413 691h0M1418 689.8h0M1422.6 688h0M1416.6 695.4h0M1420.7 693.1h0M1415.9 698.8h0M1421.7 696.6h0" fill="none" stroke="#EE0000" stroke-width="10.4" stroke-linecap="round"/>
</g>
<g stroke="#1c1c1c" stroke-width="1.8" stroke-dasharray="10.8 4.78" fill="none">
<line x1="1425.5" y1="913.2" x2="1425.5" y2="267.7"/>
<line x1="1664.3" y1="913.2" x2="1664.3" y2="267.7"/>
<line x1="1085.6" y1="774.2" x2="2003.6" y2="774.2"/>
</g>
<rect x="1087" y="267.7" width="916.6" height="643.5" fill="none" stroke="#000" stroke-width="3.1"/>
<g stroke="#222" stroke-width="4.1">
<line x1="1074.5" y1="379.7" x2="1086" y2="379.7"/>
<line x1="1074.5" y1="547.3" x2="1086" y2="547.3"/>
<line x1="1074.5" y1="715.3" x2="1086" y2="715.3"/>
<line x1="1074.5" y1="883.1" x2="1086" y2="883.1"/>
<line x1="1306.3" y1="912.2" x2="1306.3" y2="923.6"/>
<line x1="1544.8" y1="912.2" x2="1544.8" y2="923.6"/>
<line x1="1783.6" y1="912.2" x2="1783.6" y2="923.6"/>
</g>
<g fill="#4D4D4D">
<text transform="translate(1065.6,391.8) scale(1,1.04)" font-size="32.5" text-anchor="end">6</text>
<text transform="translate(1065.6,559.4) scale(1,1.04)" font-size="32.5" text-anchor="end">4</text>
<text transform="translate(1065.6,727.4) scale(1,1.04)" font-size="32.5" text-anchor="end">2</text>
<text transform="translate(1065.6,895.2) scale(1,1.04)" font-size="32.5" text-anchor="end">0</text>
<text transform="translate(1306.3,957) scale(1,1.04)" font-size="32.5" text-anchor="middle">-2</text>
<text transform="translate(1544.8,957) scale(1,1.04)" font-size="32.5" text-anchor="middle">0</text>
<text transform="translate(1783.6,957) scale(1,1.04)" font-size="32.5" text-anchor="middle">2</text>
</g>
<text transform="translate(1426.3,998.3) scale(1,1.04)" font-size="33">Log<tspan font-size="23" dy="5.6">2</tspan><tspan dy="-5.6"> fold change</tspan></text>
<g transform="translate(1022,652.4) rotate(-90) scale(1,1.04)" font-size="33"><text x="-1.8" textLength="23.4" lengthAdjust="spacingAndGlyphs">−</text><text x="26.9">Log</text><text x="83.6" y="5.4" font-size="23">10</text><text x="118.8" font-style="italic">P</text></g>
</g>
</svg>
</body></html>
